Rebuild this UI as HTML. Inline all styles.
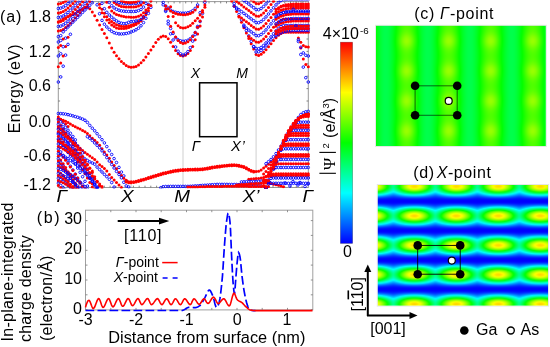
<!DOCTYPE html><html><head><meta charset="utf-8"><style>html,body{margin:0;padding:0;background:#fff;width:550px;height:347px;overflow:hidden}svg text{font-family:"Liberation Sans",sans-serif}</style></head><body><svg width="550" height="347" viewBox="0 0 550 347" font-family="Liberation Sans, sans-serif" style="position:absolute;left:0;top:0;will-change:transform"><defs><pattern id="pc" patternUnits="userSpaceOnUse" x="448.7" y="100.9" width="42" height="30"><g shape-rendering="crispEdges"><rect x="0.000" y="0.000" width="1.250" height="1.250" fill="#98ff00"/><rect x="1.000" y="0.000" width="1.250" height="1.250" fill="#94ff00"/><rect x="2.000" y="0.000" width="1.250" height="1.250" fill="#8dff00"/><rect x="3.000" y="0.000" width="1.250" height="1.250" fill="#82ff00"/><rect x="4.000" y="0.000" width="1.250" height="1.250" fill="#75ff00"/><rect x="5.000" y="0.000" width="1.250" height="1.250" fill="#66ff00"/><rect x="6.000" y="0.000" width="1.250" height="1.250" fill="#55ff00"/><rect x="7.000" y="0.000" width="1.250" height="1.250" fill="#44ff00"/><rect x="8.000" y="0.000" width="1.250" height="1.250" fill="#32ff00"/><rect x="9.000" y="0.000" width="1.250" height="1.250" fill="#21ff00"/><rect x="10.000" y="0.000" width="1.250" height="1.250" fill="#10ff00"/><rect x="11.000" y="0.000" width="1.250" height="1.250" fill="#00ff00"/><rect x="12.000" y="0.000" width="1.250" height="1.250" fill="#00ff0e"/><rect x="13.000" y="0.000" width="1.250" height="1.250" fill="#00ff1b"/><rect x="14.000" y="0.000" width="1.250" height="1.250" fill="#00ff27"/><rect x="15.000" y="0.000" width="1.250" height="1.250" fill="#00ff32"/><rect x="16.000" y="0.000" width="1.250" height="1.250" fill="#00ff3a"/><rect x="17.000" y="0.000" width="1.250" height="1.250" fill="#00ff41"/><rect x="18.000" y="0.000" width="1.250" height="1.250" fill="#00ff47"/><rect x="19.000" y="0.000" width="1.250" height="1.250" fill="#00ff4a"/><rect x="20.000" y="0.000" width="2.250" height="1.250" fill="#00ff4c"/><rect x="22.000" y="0.000" width="1.250" height="1.250" fill="#00ff4a"/><rect x="23.000" y="0.000" width="1.250" height="1.250" fill="#00ff47"/><rect x="24.000" y="0.000" width="1.250" height="1.250" fill="#00ff41"/><rect x="25.000" y="0.000" width="1.250" height="1.250" fill="#00ff3a"/><rect x="26.000" y="0.000" width="1.250" height="1.250" fill="#00ff32"/><rect x="27.000" y="0.000" width="1.250" height="1.250" fill="#00ff27"/><rect x="28.000" y="0.000" width="1.250" height="1.250" fill="#00ff1b"/><rect x="29.000" y="0.000" width="1.250" height="1.250" fill="#00ff0e"/><rect x="30.000" y="0.000" width="1.250" height="1.250" fill="#00ff00"/><rect x="31.000" y="0.000" width="1.250" height="1.250" fill="#10ff00"/><rect x="32.000" y="0.000" width="1.250" height="1.250" fill="#21ff00"/><rect x="33.000" y="0.000" width="1.250" height="1.250" fill="#32ff00"/><rect x="34.000" y="0.000" width="1.250" height="1.250" fill="#44ff00"/><rect x="35.000" y="0.000" width="1.250" height="1.250" fill="#55ff00"/><rect x="36.000" y="0.000" width="1.250" height="1.250" fill="#66ff00"/><rect x="37.000" y="0.000" width="1.250" height="1.250" fill="#75ff00"/><rect x="38.000" y="0.000" width="1.250" height="1.250" fill="#82ff00"/><rect x="39.000" y="0.000" width="1.250" height="1.250" fill="#8dff00"/><rect x="40.000" y="0.000" width="1.250" height="1.250" fill="#94ff00"/><rect x="41.000" y="0.000" width="1.250" height="1.250" fill="#98ff00"/><rect x="0.000" y="1.000" width="1.250" height="1.250" fill="#96ff00"/><rect x="1.000" y="1.000" width="1.250" height="1.250" fill="#92ff00"/><rect x="2.000" y="1.000" width="1.250" height="1.250" fill="#8bff00"/><rect x="3.000" y="1.000" width="1.250" height="1.250" fill="#80ff00"/><rect x="4.000" y="1.000" width="1.250" height="1.250" fill="#73ff00"/><rect x="5.000" y="1.000" width="1.250" height="1.250" fill="#64ff00"/><rect x="6.000" y="1.000" width="1.250" height="1.250" fill="#54ff00"/><rect x="7.000" y="1.000" width="1.250" height="1.250" fill="#42ff00"/><rect x="8.000" y="1.000" width="1.250" height="1.250" fill="#31ff00"/><rect x="9.000" y="1.000" width="1.250" height="1.250" fill="#20ff00"/><rect x="10.000" y="1.000" width="1.250" height="1.250" fill="#0fff00"/><rect x="11.000" y="1.000" width="1.250" height="1.250" fill="#00ff00"/><rect x="12.000" y="1.000" width="1.250" height="1.250" fill="#00ff0e"/><rect x="13.000" y="1.000" width="1.250" height="1.250" fill="#00ff1c"/><rect x="14.000" y="1.000" width="1.250" height="1.250" fill="#00ff27"/><rect x="15.000" y="1.000" width="1.250" height="1.250" fill="#00ff32"/><rect x="16.000" y="1.000" width="1.250" height="1.250" fill="#00ff3a"/><rect x="17.000" y="1.000" width="1.250" height="1.250" fill="#00ff41"/><rect x="18.000" y="1.000" width="1.250" height="1.250" fill="#00ff47"/><rect x="19.000" y="1.000" width="1.250" height="1.250" fill="#00ff4a"/><rect x="20.000" y="1.000" width="2.250" height="1.250" fill="#00ff4c"/><rect x="22.000" y="1.000" width="1.250" height="1.250" fill="#00ff4a"/><rect x="23.000" y="1.000" width="1.250" height="1.250" fill="#00ff47"/><rect x="24.000" y="1.000" width="1.250" height="1.250" fill="#00ff41"/><rect x="25.000" y="1.000" width="1.250" height="1.250" fill="#00ff3a"/><rect x="26.000" y="1.000" width="1.250" height="1.250" fill="#00ff32"/><rect x="27.000" y="1.000" width="1.250" height="1.250" fill="#00ff27"/><rect x="28.000" y="1.000" width="1.250" height="1.250" fill="#00ff1c"/><rect x="29.000" y="1.000" width="1.250" height="1.250" fill="#00ff0e"/><rect x="30.000" y="1.000" width="1.250" height="1.250" fill="#00ff00"/><rect x="31.000" y="1.000" width="1.250" height="1.250" fill="#0fff00"/><rect x="32.000" y="1.000" width="1.250" height="1.250" fill="#20ff00"/><rect x="33.000" y="1.000" width="1.250" height="1.250" fill="#31ff00"/><rect x="34.000" y="1.000" width="1.250" height="1.250" fill="#42ff00"/><rect x="35.000" y="1.000" width="1.250" height="1.250" fill="#54ff00"/><rect x="36.000" y="1.000" width="1.250" height="1.250" fill="#64ff00"/><rect x="37.000" y="1.000" width="1.250" height="1.250" fill="#73ff00"/><rect x="38.000" y="1.000" width="1.250" height="1.250" fill="#80ff00"/><rect x="39.000" y="1.000" width="1.250" height="1.250" fill="#8bff00"/><rect x="40.000" y="1.000" width="1.250" height="1.250" fill="#92ff00"/><rect x="41.000" y="1.000" width="1.250" height="1.250" fill="#96ff00"/><rect x="0.000" y="2.000" width="1.250" height="1.250" fill="#91ff00"/><rect x="1.000" y="2.000" width="1.250" height="1.250" fill="#8dff00"/><rect x="2.000" y="2.000" width="1.250" height="1.250" fill="#86ff00"/><rect x="3.000" y="2.000" width="1.250" height="1.250" fill="#7cff00"/><rect x="4.000" y="2.000" width="1.250" height="1.250" fill="#70ff00"/><rect x="5.000" y="2.000" width="1.250" height="1.250" fill="#61ff00"/><rect x="6.000" y="2.000" width="1.250" height="1.250" fill="#51ff00"/><rect x="7.000" y="2.000" width="1.250" height="1.250" fill="#40ff00"/><rect x="8.000" y="2.000" width="1.250" height="1.250" fill="#2fff00"/><rect x="9.000" y="2.000" width="1.250" height="1.250" fill="#1fff00"/><rect x="10.000" y="2.000" width="1.250" height="1.250" fill="#0eff00"/><rect x="11.000" y="2.000" width="1.250" height="1.250" fill="#00ff01"/><rect x="12.000" y="2.000" width="1.250" height="1.250" fill="#00ff0f"/><rect x="13.000" y="2.000" width="1.250" height="1.250" fill="#00ff1c"/><rect x="14.000" y="2.000" width="1.250" height="1.250" fill="#00ff28"/><rect x="15.000" y="2.000" width="1.250" height="1.250" fill="#00ff32"/><rect x="16.000" y="2.000" width="1.250" height="1.250" fill="#00ff3a"/><rect x="17.000" y="2.000" width="1.250" height="1.250" fill="#00ff41"/><rect x="18.000" y="2.000" width="1.250" height="1.250" fill="#00ff47"/><rect x="19.000" y="2.000" width="1.250" height="1.250" fill="#00ff4a"/><rect x="20.000" y="2.000" width="2.250" height="1.250" fill="#00ff4c"/><rect x="22.000" y="2.000" width="1.250" height="1.250" fill="#00ff4a"/><rect x="23.000" y="2.000" width="1.250" height="1.250" fill="#00ff47"/><rect x="24.000" y="2.000" width="1.250" height="1.250" fill="#00ff41"/><rect x="25.000" y="2.000" width="1.250" height="1.250" fill="#00ff3a"/><rect x="26.000" y="2.000" width="1.250" height="1.250" fill="#00ff32"/><rect x="27.000" y="2.000" width="1.250" height="1.250" fill="#00ff28"/><rect x="28.000" y="2.000" width="1.250" height="1.250" fill="#00ff1c"/><rect x="29.000" y="2.000" width="1.250" height="1.250" fill="#00ff0f"/><rect x="30.000" y="2.000" width="1.250" height="1.250" fill="#00ff01"/><rect x="31.000" y="2.000" width="1.250" height="1.250" fill="#0eff00"/><rect x="32.000" y="2.000" width="1.250" height="1.250" fill="#1fff00"/><rect x="33.000" y="2.000" width="1.250" height="1.250" fill="#2fff00"/><rect x="34.000" y="2.000" width="1.250" height="1.250" fill="#40ff00"/><rect x="35.000" y="2.000" width="1.250" height="1.250" fill="#51ff00"/><rect x="36.000" y="2.000" width="1.250" height="1.250" fill="#61ff00"/><rect x="37.000" y="2.000" width="1.250" height="1.250" fill="#70ff00"/><rect x="38.000" y="2.000" width="1.250" height="1.250" fill="#7cff00"/><rect x="39.000" y="2.000" width="1.250" height="1.250" fill="#86ff00"/><rect x="40.000" y="2.000" width="1.250" height="1.250" fill="#8dff00"/><rect x="41.000" y="2.000" width="1.250" height="1.250" fill="#91ff00"/><rect x="0.000" y="3.000" width="1.250" height="1.250" fill="#8bff00"/><rect x="1.000" y="3.000" width="1.250" height="1.250" fill="#87ff00"/><rect x="2.000" y="3.000" width="1.250" height="1.250" fill="#80ff00"/><rect x="3.000" y="3.000" width="1.250" height="1.250" fill="#77ff00"/><rect x="4.000" y="3.000" width="1.250" height="1.250" fill="#6bff00"/><rect x="5.000" y="3.000" width="1.250" height="1.250" fill="#5dff00"/><rect x="6.000" y="3.000" width="1.250" height="1.250" fill="#4dff00"/><rect x="7.000" y="3.000" width="1.250" height="1.250" fill="#3dff00"/><rect x="8.000" y="3.000" width="1.250" height="1.250" fill="#2dff00"/><rect x="9.000" y="3.000" width="1.250" height="1.250" fill="#1dff00"/><rect x="10.000" y="3.000" width="1.250" height="1.250" fill="#0dff00"/><rect x="11.000" y="3.000" width="1.250" height="1.250" fill="#00ff02"/><rect x="12.000" y="3.000" width="1.250" height="1.250" fill="#00ff10"/><rect x="13.000" y="3.000" width="1.250" height="1.250" fill="#00ff1c"/><rect x="14.000" y="3.000" width="1.250" height="1.250" fill="#00ff28"/><rect x="15.000" y="3.000" width="1.250" height="1.250" fill="#00ff32"/><rect x="16.000" y="3.000" width="1.250" height="1.250" fill="#00ff3a"/><rect x="17.000" y="3.000" width="1.250" height="1.250" fill="#00ff41"/><rect x="18.000" y="3.000" width="1.250" height="1.250" fill="#00ff47"/><rect x="19.000" y="3.000" width="1.250" height="1.250" fill="#00ff4a"/><rect x="20.000" y="3.000" width="2.250" height="1.250" fill="#00ff4c"/><rect x="22.000" y="3.000" width="1.250" height="1.250" fill="#00ff4a"/><rect x="23.000" y="3.000" width="1.250" height="1.250" fill="#00ff47"/><rect x="24.000" y="3.000" width="1.250" height="1.250" fill="#00ff41"/><rect x="25.000" y="3.000" width="1.250" height="1.250" fill="#00ff3a"/><rect x="26.000" y="3.000" width="1.250" height="1.250" fill="#00ff32"/><rect x="27.000" y="3.000" width="1.250" height="1.250" fill="#00ff28"/><rect x="28.000" y="3.000" width="1.250" height="1.250" fill="#00ff1c"/><rect x="29.000" y="3.000" width="1.250" height="1.250" fill="#00ff10"/><rect x="30.000" y="3.000" width="1.250" height="1.250" fill="#00ff02"/><rect x="31.000" y="3.000" width="1.250" height="1.250" fill="#0dff00"/><rect x="32.000" y="3.000" width="1.250" height="1.250" fill="#1dff00"/><rect x="33.000" y="3.000" width="1.250" height="1.250" fill="#2dff00"/><rect x="34.000" y="3.000" width="1.250" height="1.250" fill="#3dff00"/><rect x="35.000" y="3.000" width="1.250" height="1.250" fill="#4dff00"/><rect x="36.000" y="3.000" width="1.250" height="1.250" fill="#5dff00"/><rect x="37.000" y="3.000" width="1.250" height="1.250" fill="#6bff00"/><rect x="38.000" y="3.000" width="1.250" height="1.250" fill="#77ff00"/><rect x="39.000" y="3.000" width="1.250" height="1.250" fill="#80ff00"/><rect x="40.000" y="3.000" width="1.250" height="1.250" fill="#87ff00"/><rect x="41.000" y="3.000" width="1.250" height="1.250" fill="#8bff00"/><rect x="0.000" y="4.000" width="1.250" height="1.250" fill="#83ff00"/><rect x="1.000" y="4.000" width="1.250" height="1.250" fill="#80ff00"/><rect x="2.000" y="4.000" width="1.250" height="1.250" fill="#79ff00"/><rect x="3.000" y="4.000" width="1.250" height="1.250" fill="#70ff00"/><rect x="4.000" y="4.000" width="1.250" height="1.250" fill="#65ff00"/><rect x="5.000" y="4.000" width="1.250" height="1.250" fill="#58ff00"/><rect x="6.000" y="4.000" width="1.250" height="1.250" fill="#49ff00"/><rect x="7.000" y="4.000" width="1.250" height="1.250" fill="#3aff00"/><rect x="8.000" y="4.000" width="1.250" height="1.250" fill="#2aff00"/><rect x="9.000" y="4.000" width="1.250" height="1.250" fill="#1bff00"/><rect x="10.000" y="4.000" width="1.250" height="1.250" fill="#0bff00"/><rect x="11.000" y="4.000" width="1.250" height="1.250" fill="#00ff03"/><rect x="12.000" y="4.000" width="1.250" height="1.250" fill="#00ff11"/><rect x="13.000" y="4.000" width="1.250" height="1.250" fill="#00ff1d"/><rect x="14.000" y="4.000" width="1.250" height="1.250" fill="#00ff28"/><rect x="15.000" y="4.000" width="1.250" height="1.250" fill="#00ff32"/><rect x="16.000" y="4.000" width="1.250" height="1.250" fill="#00ff3b"/><rect x="17.000" y="4.000" width="1.250" height="1.250" fill="#00ff42"/><rect x="18.000" y="4.000" width="1.250" height="1.250" fill="#00ff47"/><rect x="19.000" y="4.000" width="1.250" height="1.250" fill="#00ff4a"/><rect x="20.000" y="4.000" width="2.250" height="1.250" fill="#00ff4c"/><rect x="22.000" y="4.000" width="1.250" height="1.250" fill="#00ff4a"/><rect x="23.000" y="4.000" width="1.250" height="1.250" fill="#00ff47"/><rect x="24.000" y="4.000" width="1.250" height="1.250" fill="#00ff42"/><rect x="25.000" y="4.000" width="1.250" height="1.250" fill="#00ff3b"/><rect x="26.000" y="4.000" width="1.250" height="1.250" fill="#00ff32"/><rect x="27.000" y="4.000" width="1.250" height="1.250" fill="#00ff28"/><rect x="28.000" y="4.000" width="1.250" height="1.250" fill="#00ff1d"/><rect x="29.000" y="4.000" width="1.250" height="1.250" fill="#00ff11"/><rect x="30.000" y="4.000" width="1.250" height="1.250" fill="#00ff03"/><rect x="31.000" y="4.000" width="1.250" height="1.250" fill="#0bff00"/><rect x="32.000" y="4.000" width="1.250" height="1.250" fill="#1bff00"/><rect x="33.000" y="4.000" width="1.250" height="1.250" fill="#2aff00"/><rect x="34.000" y="4.000" width="1.250" height="1.250" fill="#3aff00"/><rect x="35.000" y="4.000" width="1.250" height="1.250" fill="#49ff00"/><rect x="36.000" y="4.000" width="1.250" height="1.250" fill="#58ff00"/><rect x="37.000" y="4.000" width="1.250" height="1.250" fill="#65ff00"/><rect x="38.000" y="4.000" width="1.250" height="1.250" fill="#70ff00"/><rect x="39.000" y="4.000" width="1.250" height="1.250" fill="#79ff00"/><rect x="40.000" y="4.000" width="1.250" height="1.250" fill="#80ff00"/><rect x="41.000" y="4.000" width="1.250" height="1.250" fill="#83ff00"/><rect x="0.000" y="5.000" width="1.250" height="1.250" fill="#7bff00"/><rect x="1.000" y="5.000" width="1.250" height="1.250" fill="#78ff00"/><rect x="2.000" y="5.000" width="1.250" height="1.250" fill="#72ff00"/><rect x="3.000" y="5.000" width="1.250" height="1.250" fill="#69ff00"/><rect x="4.000" y="5.000" width="1.250" height="1.250" fill="#5fff00"/><rect x="5.000" y="5.000" width="1.250" height="1.250" fill="#52ff00"/><rect x="6.000" y="5.000" width="1.250" height="1.250" fill="#45ff00"/><rect x="7.000" y="5.000" width="1.250" height="1.250" fill="#36ff00"/><rect x="8.000" y="5.000" width="1.250" height="1.250" fill="#27ff00"/><rect x="9.000" y="5.000" width="1.250" height="1.250" fill="#18ff00"/><rect x="10.000" y="5.000" width="1.250" height="1.250" fill="#0aff00"/><rect x="11.000" y="5.000" width="1.250" height="1.250" fill="#00ff04"/><rect x="12.000" y="5.000" width="1.250" height="1.250" fill="#00ff11"/><rect x="13.000" y="5.000" width="1.250" height="1.250" fill="#00ff1e"/><rect x="14.000" y="5.000" width="1.250" height="1.250" fill="#00ff29"/><rect x="15.000" y="5.000" width="1.250" height="1.250" fill="#00ff32"/><rect x="16.000" y="5.000" width="1.250" height="1.250" fill="#00ff3b"/><rect x="17.000" y="5.000" width="1.250" height="1.250" fill="#00ff42"/><rect x="18.000" y="5.000" width="1.250" height="1.250" fill="#00ff47"/><rect x="19.000" y="5.000" width="1.250" height="1.250" fill="#00ff4a"/><rect x="20.000" y="5.000" width="2.250" height="1.250" fill="#00ff4c"/><rect x="22.000" y="5.000" width="1.250" height="1.250" fill="#00ff4a"/><rect x="23.000" y="5.000" width="1.250" height="1.250" fill="#00ff47"/><rect x="24.000" y="5.000" width="1.250" height="1.250" fill="#00ff42"/><rect x="25.000" y="5.000" width="1.250" height="1.250" fill="#00ff3b"/><rect x="26.000" y="5.000" width="1.250" height="1.250" fill="#00ff32"/><rect x="27.000" y="5.000" width="1.250" height="1.250" fill="#00ff29"/><rect x="28.000" y="5.000" width="1.250" height="1.250" fill="#00ff1e"/><rect x="29.000" y="5.000" width="1.250" height="1.250" fill="#00ff11"/><rect x="30.000" y="5.000" width="1.250" height="1.250" fill="#00ff04"/><rect x="31.000" y="5.000" width="1.250" height="1.250" fill="#0aff00"/><rect x="32.000" y="5.000" width="1.250" height="1.250" fill="#18ff00"/><rect x="33.000" y="5.000" width="1.250" height="1.250" fill="#27ff00"/><rect x="34.000" y="5.000" width="1.250" height="1.250" fill="#36ff00"/><rect x="35.000" y="5.000" width="1.250" height="1.250" fill="#45ff00"/><rect x="36.000" y="5.000" width="1.250" height="1.250" fill="#52ff00"/><rect x="37.000" y="5.000" width="1.250" height="1.250" fill="#5fff00"/><rect x="38.000" y="5.000" width="1.250" height="1.250" fill="#69ff00"/><rect x="39.000" y="5.000" width="1.250" height="1.250" fill="#72ff00"/><rect x="40.000" y="5.000" width="1.250" height="1.250" fill="#78ff00"/><rect x="41.000" y="5.000" width="1.250" height="1.250" fill="#7bff00"/><rect x="0.000" y="6.000" width="1.250" height="1.250" fill="#72ff00"/><rect x="1.000" y="6.000" width="1.250" height="1.250" fill="#70ff00"/><rect x="2.000" y="6.000" width="1.250" height="1.250" fill="#6aff00"/><rect x="3.000" y="6.000" width="1.250" height="1.250" fill="#62ff00"/><rect x="4.000" y="6.000" width="1.250" height="1.250" fill="#58ff00"/><rect x="5.000" y="6.000" width="1.250" height="1.250" fill="#4dff00"/><rect x="6.000" y="6.000" width="1.250" height="1.250" fill="#40ff00"/><rect x="7.000" y="6.000" width="1.250" height="1.250" fill="#32ff00"/><rect x="8.000" y="6.000" width="1.250" height="1.250" fill="#24ff00"/><rect x="9.000" y="6.000" width="1.250" height="1.250" fill="#16ff00"/><rect x="10.000" y="6.000" width="1.250" height="1.250" fill="#08ff00"/><rect x="11.000" y="6.000" width="1.250" height="1.250" fill="#00ff06"/><rect x="12.000" y="6.000" width="1.250" height="1.250" fill="#00ff12"/><rect x="13.000" y="6.000" width="1.250" height="1.250" fill="#00ff1e"/><rect x="14.000" y="6.000" width="1.250" height="1.250" fill="#00ff29"/><rect x="15.000" y="6.000" width="1.250" height="1.250" fill="#00ff33"/><rect x="16.000" y="6.000" width="1.250" height="1.250" fill="#00ff3b"/><rect x="17.000" y="6.000" width="1.250" height="1.250" fill="#00ff42"/><rect x="18.000" y="6.000" width="1.250" height="1.250" fill="#00ff47"/><rect x="19.000" y="6.000" width="1.250" height="1.250" fill="#00ff4a"/><rect x="20.000" y="6.000" width="2.250" height="1.250" fill="#00ff4c"/><rect x="22.000" y="6.000" width="1.250" height="1.250" fill="#00ff4a"/><rect x="23.000" y="6.000" width="1.250" height="1.250" fill="#00ff47"/><rect x="24.000" y="6.000" width="1.250" height="1.250" fill="#00ff42"/><rect x="25.000" y="6.000" width="1.250" height="1.250" fill="#00ff3b"/><rect x="26.000" y="6.000" width="1.250" height="1.250" fill="#00ff33"/><rect x="27.000" y="6.000" width="1.250" height="1.250" fill="#00ff29"/><rect x="28.000" y="6.000" width="1.250" height="1.250" fill="#00ff1e"/><rect x="29.000" y="6.000" width="1.250" height="1.250" fill="#00ff12"/><rect x="30.000" y="6.000" width="1.250" height="1.250" fill="#00ff06"/><rect x="31.000" y="6.000" width="1.250" height="1.250" fill="#08ff00"/><rect x="32.000" y="6.000" width="1.250" height="1.250" fill="#16ff00"/><rect x="33.000" y="6.000" width="1.250" height="1.250" fill="#24ff00"/><rect x="34.000" y="6.000" width="1.250" height="1.250" fill="#32ff00"/><rect x="35.000" y="6.000" width="1.250" height="1.250" fill="#40ff00"/><rect x="36.000" y="6.000" width="1.250" height="1.250" fill="#4dff00"/><rect x="37.000" y="6.000" width="1.250" height="1.250" fill="#58ff00"/><rect x="38.000" y="6.000" width="1.250" height="1.250" fill="#62ff00"/><rect x="39.000" y="6.000" width="1.250" height="1.250" fill="#6aff00"/><rect x="40.000" y="6.000" width="1.250" height="1.250" fill="#70ff00"/><rect x="41.000" y="6.000" width="1.250" height="1.250" fill="#72ff00"/><rect x="0.000" y="7.000" width="1.250" height="1.250" fill="#6bff00"/><rect x="1.000" y="7.000" width="1.250" height="1.250" fill="#68ff00"/><rect x="2.000" y="7.000" width="1.250" height="1.250" fill="#63ff00"/><rect x="3.000" y="7.000" width="1.250" height="1.250" fill="#5cff00"/><rect x="4.000" y="7.000" width="1.250" height="1.250" fill="#53ff00"/><rect x="5.000" y="7.000" width="1.250" height="1.250" fill="#48ff00"/><rect x="6.000" y="7.000" width="1.250" height="1.250" fill="#3cff00"/><rect x="7.000" y="7.000" width="1.250" height="1.250" fill="#2fff00"/><rect x="8.000" y="7.000" width="1.250" height="1.250" fill="#21ff00"/><rect x="9.000" y="7.000" width="1.250" height="1.250" fill="#14ff00"/><rect x="10.000" y="7.000" width="1.250" height="1.250" fill="#06ff00"/><rect x="11.000" y="7.000" width="1.250" height="1.250" fill="#00ff07"/><rect x="12.000" y="7.000" width="1.250" height="1.250" fill="#00ff13"/><rect x="13.000" y="7.000" width="1.250" height="1.250" fill="#00ff1f"/><rect x="14.000" y="7.000" width="1.250" height="1.250" fill="#00ff2a"/><rect x="15.000" y="7.000" width="1.250" height="1.250" fill="#00ff33"/><rect x="16.000" y="7.000" width="1.250" height="1.250" fill="#00ff3b"/><rect x="17.000" y="7.000" width="1.250" height="1.250" fill="#00ff42"/><rect x="18.000" y="7.000" width="1.250" height="1.250" fill="#00ff47"/><rect x="19.000" y="7.000" width="1.250" height="1.250" fill="#00ff4a"/><rect x="20.000" y="7.000" width="2.250" height="1.250" fill="#00ff4c"/><rect x="22.000" y="7.000" width="1.250" height="1.250" fill="#00ff4a"/><rect x="23.000" y="7.000" width="1.250" height="1.250" fill="#00ff47"/><rect x="24.000" y="7.000" width="1.250" height="1.250" fill="#00ff42"/><rect x="25.000" y="7.000" width="1.250" height="1.250" fill="#00ff3b"/><rect x="26.000" y="7.000" width="1.250" height="1.250" fill="#00ff33"/><rect x="27.000" y="7.000" width="1.250" height="1.250" fill="#00ff2a"/><rect x="28.000" y="7.000" width="1.250" height="1.250" fill="#00ff1f"/><rect x="29.000" y="7.000" width="1.250" height="1.250" fill="#00ff13"/><rect x="30.000" y="7.000" width="1.250" height="1.250" fill="#00ff07"/><rect x="31.000" y="7.000" width="1.250" height="1.250" fill="#06ff00"/><rect x="32.000" y="7.000" width="1.250" height="1.250" fill="#14ff00"/><rect x="33.000" y="7.000" width="1.250" height="1.250" fill="#21ff00"/><rect x="34.000" y="7.000" width="1.250" height="1.250" fill="#2fff00"/><rect x="35.000" y="7.000" width="1.250" height="1.250" fill="#3cff00"/><rect x="36.000" y="7.000" width="1.250" height="1.250" fill="#48ff00"/><rect x="37.000" y="7.000" width="1.250" height="1.250" fill="#53ff00"/><rect x="38.000" y="7.000" width="1.250" height="1.250" fill="#5cff00"/><rect x="39.000" y="7.000" width="1.250" height="1.250" fill="#63ff00"/><rect x="40.000" y="7.000" width="1.250" height="1.250" fill="#68ff00"/><rect x="41.000" y="7.000" width="1.250" height="1.250" fill="#6bff00"/><rect x="0.000" y="8.000" width="1.250" height="1.250" fill="#64ff00"/><rect x="1.000" y="8.000" width="1.250" height="1.250" fill="#61ff00"/><rect x="2.000" y="8.000" width="1.250" height="1.250" fill="#5dff00"/><rect x="3.000" y="8.000" width="1.250" height="1.250" fill="#56ff00"/><rect x="4.000" y="8.000" width="1.250" height="1.250" fill="#4dff00"/><rect x="5.000" y="8.000" width="1.250" height="1.250" fill="#43ff00"/><rect x="6.000" y="8.000" width="1.250" height="1.250" fill="#38ff00"/><rect x="7.000" y="8.000" width="1.250" height="1.250" fill="#2cff00"/><rect x="8.000" y="8.000" width="1.250" height="1.250" fill="#1fff00"/><rect x="9.000" y="8.000" width="1.250" height="1.250" fill="#12ff00"/><rect x="10.000" y="8.000" width="1.250" height="1.250" fill="#05ff00"/><rect x="11.000" y="8.000" width="1.250" height="1.250" fill="#00ff08"/><rect x="12.000" y="8.000" width="1.250" height="1.250" fill="#00ff14"/><rect x="13.000" y="8.000" width="1.250" height="1.250" fill="#00ff1f"/><rect x="14.000" y="8.000" width="1.250" height="1.250" fill="#00ff2a"/><rect x="15.000" y="8.000" width="1.250" height="1.250" fill="#00ff33"/><rect x="16.000" y="8.000" width="1.250" height="1.250" fill="#00ff3b"/><rect x="17.000" y="8.000" width="1.250" height="1.250" fill="#00ff42"/><rect x="18.000" y="8.000" width="1.250" height="1.250" fill="#00ff47"/><rect x="19.000" y="8.000" width="1.250" height="1.250" fill="#00ff4a"/><rect x="20.000" y="8.000" width="2.250" height="1.250" fill="#00ff4c"/><rect x="22.000" y="8.000" width="1.250" height="1.250" fill="#00ff4a"/><rect x="23.000" y="8.000" width="1.250" height="1.250" fill="#00ff47"/><rect x="24.000" y="8.000" width="1.250" height="1.250" fill="#00ff42"/><rect x="25.000" y="8.000" width="1.250" height="1.250" fill="#00ff3b"/><rect x="26.000" y="8.000" width="1.250" height="1.250" fill="#00ff33"/><rect x="27.000" y="8.000" width="1.250" height="1.250" fill="#00ff2a"/><rect x="28.000" y="8.000" width="1.250" height="1.250" fill="#00ff1f"/><rect x="29.000" y="8.000" width="1.250" height="1.250" fill="#00ff14"/><rect x="30.000" y="8.000" width="1.250" height="1.250" fill="#00ff08"/><rect x="31.000" y="8.000" width="1.250" height="1.250" fill="#05ff00"/><rect x="32.000" y="8.000" width="1.250" height="1.250" fill="#12ff00"/><rect x="33.000" y="8.000" width="1.250" height="1.250" fill="#1fff00"/><rect x="34.000" y="8.000" width="1.250" height="1.250" fill="#2cff00"/><rect x="35.000" y="8.000" width="1.250" height="1.250" fill="#38ff00"/><rect x="36.000" y="8.000" width="1.250" height="1.250" fill="#43ff00"/><rect x="37.000" y="8.000" width="1.250" height="1.250" fill="#4dff00"/><rect x="38.000" y="8.000" width="1.250" height="1.250" fill="#56ff00"/><rect x="39.000" y="8.000" width="1.250" height="1.250" fill="#5dff00"/><rect x="40.000" y="8.000" width="1.250" height="1.250" fill="#61ff00"/><rect x="41.000" y="8.000" width="1.250" height="1.250" fill="#64ff00"/><rect x="0.000" y="9.000" width="1.250" height="1.250" fill="#5eff00"/><rect x="1.000" y="9.000" width="1.250" height="1.250" fill="#5bff00"/><rect x="2.000" y="9.000" width="1.250" height="1.250" fill="#57ff00"/><rect x="3.000" y="9.000" width="1.250" height="1.250" fill="#51ff00"/><rect x="4.000" y="9.000" width="1.250" height="1.250" fill="#49ff00"/><rect x="5.000" y="9.000" width="1.250" height="1.250" fill="#3fff00"/><rect x="6.000" y="9.000" width="1.250" height="1.250" fill="#35ff00"/><rect x="7.000" y="9.000" width="1.250" height="1.250" fill="#29ff00"/><rect x="8.000" y="9.000" width="1.250" height="1.250" fill="#1dff00"/><rect x="9.000" y="9.000" width="1.250" height="1.250" fill="#10ff00"/><rect x="10.000" y="9.000" width="1.250" height="1.250" fill="#04ff00"/><rect x="11.000" y="9.000" width="1.250" height="1.250" fill="#00ff09"/><rect x="12.000" y="9.000" width="1.250" height="1.250" fill="#00ff15"/><rect x="13.000" y="9.000" width="1.250" height="1.250" fill="#00ff20"/><rect x="14.000" y="9.000" width="1.250" height="1.250" fill="#00ff2a"/><rect x="15.000" y="9.000" width="1.250" height="1.250" fill="#00ff33"/><rect x="16.000" y="9.000" width="1.250" height="1.250" fill="#00ff3b"/><rect x="17.000" y="9.000" width="1.250" height="1.250" fill="#00ff42"/><rect x="18.000" y="9.000" width="1.250" height="1.250" fill="#00ff47"/><rect x="19.000" y="9.000" width="1.250" height="1.250" fill="#00ff4b"/><rect x="20.000" y="9.000" width="2.250" height="1.250" fill="#00ff4c"/><rect x="22.000" y="9.000" width="1.250" height="1.250" fill="#00ff4b"/><rect x="23.000" y="9.000" width="1.250" height="1.250" fill="#00ff47"/><rect x="24.000" y="9.000" width="1.250" height="1.250" fill="#00ff42"/><rect x="25.000" y="9.000" width="1.250" height="1.250" fill="#00ff3b"/><rect x="26.000" y="9.000" width="1.250" height="1.250" fill="#00ff33"/><rect x="27.000" y="9.000" width="1.250" height="1.250" fill="#00ff2a"/><rect x="28.000" y="9.000" width="1.250" height="1.250" fill="#00ff20"/><rect x="29.000" y="9.000" width="1.250" height="1.250" fill="#00ff15"/><rect x="30.000" y="9.000" width="1.250" height="1.250" fill="#00ff09"/><rect x="31.000" y="9.000" width="1.250" height="1.250" fill="#04ff00"/><rect x="32.000" y="9.000" width="1.250" height="1.250" fill="#10ff00"/><rect x="33.000" y="9.000" width="1.250" height="1.250" fill="#1dff00"/><rect x="34.000" y="9.000" width="1.250" height="1.250" fill="#29ff00"/><rect x="35.000" y="9.000" width="1.250" height="1.250" fill="#35ff00"/><rect x="36.000" y="9.000" width="1.250" height="1.250" fill="#3fff00"/><rect x="37.000" y="9.000" width="1.250" height="1.250" fill="#49ff00"/><rect x="38.000" y="9.000" width="1.250" height="1.250" fill="#51ff00"/><rect x="39.000" y="9.000" width="1.250" height="1.250" fill="#57ff00"/><rect x="40.000" y="9.000" width="1.250" height="1.250" fill="#5bff00"/><rect x="41.000" y="9.000" width="1.250" height="1.250" fill="#5eff00"/><rect x="0.000" y="10.000" width="1.250" height="1.250" fill="#59ff00"/><rect x="1.000" y="10.000" width="1.250" height="1.250" fill="#57ff00"/><rect x="2.000" y="10.000" width="1.250" height="1.250" fill="#53ff00"/><rect x="3.000" y="10.000" width="1.250" height="1.250" fill="#4dff00"/><rect x="4.000" y="10.000" width="1.250" height="1.250" fill="#45ff00"/><rect x="5.000" y="10.000" width="1.250" height="1.250" fill="#3cff00"/><rect x="6.000" y="10.000" width="1.250" height="1.250" fill="#32ff00"/><rect x="7.000" y="10.000" width="1.250" height="1.250" fill="#27ff00"/><rect x="8.000" y="10.000" width="1.250" height="1.250" fill="#1bff00"/><rect x="9.000" y="10.000" width="1.250" height="1.250" fill="#0fff00"/><rect x="10.000" y="10.000" width="1.250" height="1.250" fill="#03ff00"/><rect x="11.000" y="10.000" width="1.250" height="1.250" fill="#00ff09"/><rect x="12.000" y="10.000" width="1.250" height="1.250" fill="#00ff15"/><rect x="13.000" y="10.000" width="1.250" height="1.250" fill="#00ff20"/><rect x="14.000" y="10.000" width="1.250" height="1.250" fill="#00ff2a"/><rect x="15.000" y="10.000" width="1.250" height="1.250" fill="#00ff34"/><rect x="16.000" y="10.000" width="1.250" height="1.250" fill="#00ff3c"/><rect x="17.000" y="10.000" width="1.250" height="1.250" fill="#00ff42"/><rect x="18.000" y="10.000" width="1.250" height="1.250" fill="#00ff47"/><rect x="19.000" y="10.000" width="1.250" height="1.250" fill="#00ff4b"/><rect x="20.000" y="10.000" width="2.250" height="1.250" fill="#00ff4c"/><rect x="22.000" y="10.000" width="1.250" height="1.250" fill="#00ff4b"/><rect x="23.000" y="10.000" width="1.250" height="1.250" fill="#00ff47"/><rect x="24.000" y="10.000" width="1.250" height="1.250" fill="#00ff42"/><rect x="25.000" y="10.000" width="1.250" height="1.250" fill="#00ff3c"/><rect x="26.000" y="10.000" width="1.250" height="1.250" fill="#00ff34"/><rect x="27.000" y="10.000" width="1.250" height="1.250" fill="#00ff2a"/><rect x="28.000" y="10.000" width="1.250" height="1.250" fill="#00ff20"/><rect x="29.000" y="10.000" width="1.250" height="1.250" fill="#00ff15"/><rect x="30.000" y="10.000" width="1.250" height="1.250" fill="#00ff09"/><rect x="31.000" y="10.000" width="1.250" height="1.250" fill="#03ff00"/><rect x="32.000" y="10.000" width="1.250" height="1.250" fill="#0fff00"/><rect x="33.000" y="10.000" width="1.250" height="1.250" fill="#1bff00"/><rect x="34.000" y="10.000" width="1.250" height="1.250" fill="#27ff00"/><rect x="35.000" y="10.000" width="1.250" height="1.250" fill="#32ff00"/><rect x="36.000" y="10.000" width="1.250" height="1.250" fill="#3cff00"/><rect x="37.000" y="10.000" width="1.250" height="1.250" fill="#45ff00"/><rect x="38.000" y="10.000" width="1.250" height="1.250" fill="#4dff00"/><rect x="39.000" y="10.000" width="1.250" height="1.250" fill="#53ff00"/><rect x="40.000" y="10.000" width="1.250" height="1.250" fill="#57ff00"/><rect x="41.000" y="10.000" width="1.250" height="1.250" fill="#59ff00"/><rect x="0.000" y="11.000" width="1.250" height="1.250" fill="#55ff00"/><rect x="1.000" y="11.000" width="1.250" height="1.250" fill="#53ff00"/><rect x="2.000" y="11.000" width="1.250" height="1.250" fill="#4fff00"/><rect x="3.000" y="11.000" width="1.250" height="1.250" fill="#4aff00"/><rect x="4.000" y="11.000" width="1.250" height="1.250" fill="#42ff00"/><rect x="5.000" y="11.000" width="1.250" height="1.250" fill="#3aff00"/><rect x="6.000" y="11.000" width="1.250" height="1.250" fill="#30ff00"/><rect x="7.000" y="11.000" width="1.250" height="1.250" fill="#25ff00"/><rect x="8.000" y="11.000" width="1.250" height="1.250" fill="#1aff00"/><rect x="9.000" y="11.000" width="1.250" height="1.250" fill="#0eff00"/><rect x="10.000" y="11.000" width="1.250" height="1.250" fill="#02ff00"/><rect x="11.000" y="11.000" width="1.250" height="1.250" fill="#00ff0a"/><rect x="12.000" y="11.000" width="1.250" height="1.250" fill="#00ff16"/><rect x="13.000" y="11.000" width="1.250" height="1.250" fill="#00ff21"/><rect x="14.000" y="11.000" width="1.250" height="1.250" fill="#00ff2b"/><rect x="15.000" y="11.000" width="1.250" height="1.250" fill="#00ff34"/><rect x="16.000" y="11.000" width="1.250" height="1.250" fill="#00ff3c"/><rect x="17.000" y="11.000" width="1.250" height="1.250" fill="#00ff42"/><rect x="18.000" y="11.000" width="1.250" height="1.250" fill="#00ff47"/><rect x="19.000" y="11.000" width="1.250" height="1.250" fill="#00ff4b"/><rect x="20.000" y="11.000" width="2.250" height="1.250" fill="#00ff4c"/><rect x="22.000" y="11.000" width="1.250" height="1.250" fill="#00ff4b"/><rect x="23.000" y="11.000" width="1.250" height="1.250" fill="#00ff47"/><rect x="24.000" y="11.000" width="1.250" height="1.250" fill="#00ff42"/><rect x="25.000" y="11.000" width="1.250" height="1.250" fill="#00ff3c"/><rect x="26.000" y="11.000" width="1.250" height="1.250" fill="#00ff34"/><rect x="27.000" y="11.000" width="1.250" height="1.250" fill="#00ff2b"/><rect x="28.000" y="11.000" width="1.250" height="1.250" fill="#00ff21"/><rect x="29.000" y="11.000" width="1.250" height="1.250" fill="#00ff16"/><rect x="30.000" y="11.000" width="1.250" height="1.250" fill="#00ff0a"/><rect x="31.000" y="11.000" width="1.250" height="1.250" fill="#02ff00"/><rect x="32.000" y="11.000" width="1.250" height="1.250" fill="#0eff00"/><rect x="33.000" y="11.000" width="1.250" height="1.250" fill="#1aff00"/><rect x="34.000" y="11.000" width="1.250" height="1.250" fill="#25ff00"/><rect x="35.000" y="11.000" width="1.250" height="1.250" fill="#30ff00"/><rect x="36.000" y="11.000" width="1.250" height="1.250" fill="#3aff00"/><rect x="37.000" y="11.000" width="1.250" height="1.250" fill="#42ff00"/><rect x="38.000" y="11.000" width="1.250" height="1.250" fill="#4aff00"/><rect x="39.000" y="11.000" width="1.250" height="1.250" fill="#4fff00"/><rect x="40.000" y="11.000" width="1.250" height="1.250" fill="#53ff00"/><rect x="41.000" y="11.000" width="1.250" height="1.250" fill="#55ff00"/><rect x="0.000" y="12.000" width="1.250" height="1.250" fill="#52ff00"/><rect x="1.000" y="12.000" width="1.250" height="1.250" fill="#50ff00"/><rect x="2.000" y="12.000" width="1.250" height="1.250" fill="#4dff00"/><rect x="3.000" y="12.000" width="1.250" height="1.250" fill="#47ff00"/><rect x="4.000" y="12.000" width="1.250" height="1.250" fill="#40ff00"/><rect x="5.000" y="12.000" width="1.250" height="1.250" fill="#38ff00"/><rect x="6.000" y="12.000" width="1.250" height="1.250" fill="#2eff00"/><rect x="7.000" y="12.000" width="1.250" height="1.250" fill="#24ff00"/><rect x="8.000" y="12.000" width="1.250" height="1.250" fill="#19ff00"/><rect x="9.000" y="12.000" width="1.250" height="1.250" fill="#0dff00"/><rect x="10.000" y="12.000" width="1.250" height="1.250" fill="#01ff00"/><rect x="11.000" y="12.000" width="1.250" height="1.250" fill="#00ff0b"/><rect x="12.000" y="12.000" width="1.250" height="1.250" fill="#00ff16"/><rect x="13.000" y="12.000" width="1.250" height="1.250" fill="#00ff21"/><rect x="14.000" y="12.000" width="1.250" height="1.250" fill="#00ff2b"/><rect x="15.000" y="12.000" width="1.250" height="1.250" fill="#00ff34"/><rect x="16.000" y="12.000" width="1.250" height="1.250" fill="#00ff3c"/><rect x="17.000" y="12.000" width="1.250" height="1.250" fill="#00ff42"/><rect x="18.000" y="12.000" width="1.250" height="1.250" fill="#00ff47"/><rect x="19.000" y="12.000" width="1.250" height="1.250" fill="#00ff4b"/><rect x="20.000" y="12.000" width="2.250" height="1.250" fill="#00ff4c"/><rect x="22.000" y="12.000" width="1.250" height="1.250" fill="#00ff4b"/><rect x="23.000" y="12.000" width="1.250" height="1.250" fill="#00ff47"/><rect x="24.000" y="12.000" width="1.250" height="1.250" fill="#00ff42"/><rect x="25.000" y="12.000" width="1.250" height="1.250" fill="#00ff3c"/><rect x="26.000" y="12.000" width="1.250" height="1.250" fill="#00ff34"/><rect x="27.000" y="12.000" width="1.250" height="1.250" fill="#00ff2b"/><rect x="28.000" y="12.000" width="1.250" height="1.250" fill="#00ff21"/><rect x="29.000" y="12.000" width="1.250" height="1.250" fill="#00ff16"/><rect x="30.000" y="12.000" width="1.250" height="1.250" fill="#00ff0b"/><rect x="31.000" y="12.000" width="1.250" height="1.250" fill="#01ff00"/><rect x="32.000" y="12.000" width="1.250" height="1.250" fill="#0dff00"/><rect x="33.000" y="12.000" width="1.250" height="1.250" fill="#19ff00"/><rect x="34.000" y="12.000" width="1.250" height="1.250" fill="#24ff00"/><rect x="35.000" y="12.000" width="1.250" height="1.250" fill="#2eff00"/><rect x="36.000" y="12.000" width="1.250" height="1.250" fill="#38ff00"/><rect x="37.000" y="12.000" width="1.250" height="1.250" fill="#40ff00"/><rect x="38.000" y="12.000" width="1.250" height="1.250" fill="#47ff00"/><rect x="39.000" y="12.000" width="1.250" height="1.250" fill="#4dff00"/><rect x="40.000" y="12.000" width="1.250" height="1.250" fill="#50ff00"/><rect x="41.000" y="12.000" width="1.250" height="1.250" fill="#52ff00"/><rect x="0.000" y="13.000" width="1.250" height="1.250" fill="#50ff00"/><rect x="1.000" y="13.000" width="1.250" height="1.250" fill="#4eff00"/><rect x="2.000" y="13.000" width="1.250" height="1.250" fill="#4bff00"/><rect x="3.000" y="13.000" width="1.250" height="1.250" fill="#45ff00"/><rect x="4.000" y="13.000" width="1.250" height="1.250" fill="#3fff00"/><rect x="5.000" y="13.000" width="1.250" height="1.250" fill="#37ff00"/><rect x="6.000" y="13.000" width="1.250" height="1.250" fill="#2dff00"/><rect x="7.000" y="13.000" width="1.250" height="1.250" fill="#23ff00"/><rect x="8.000" y="13.000" width="1.250" height="1.250" fill="#18ff00"/><rect x="9.000" y="13.000" width="1.250" height="1.250" fill="#0cff00"/><rect x="10.000" y="13.000" width="1.250" height="1.250" fill="#01ff00"/><rect x="11.000" y="13.000" width="1.250" height="1.250" fill="#00ff0b"/><rect x="12.000" y="13.000" width="1.250" height="1.250" fill="#00ff16"/><rect x="13.000" y="13.000" width="1.250" height="1.250" fill="#00ff21"/><rect x="14.000" y="13.000" width="1.250" height="1.250" fill="#00ff2b"/><rect x="15.000" y="13.000" width="1.250" height="1.250" fill="#00ff34"/><rect x="16.000" y="13.000" width="1.250" height="1.250" fill="#00ff3c"/><rect x="17.000" y="13.000" width="1.250" height="1.250" fill="#00ff42"/><rect x="18.000" y="13.000" width="1.250" height="1.250" fill="#00ff47"/><rect x="19.000" y="13.000" width="1.250" height="1.250" fill="#00ff4b"/><rect x="20.000" y="13.000" width="2.250" height="1.250" fill="#00ff4c"/><rect x="22.000" y="13.000" width="1.250" height="1.250" fill="#00ff4b"/><rect x="23.000" y="13.000" width="1.250" height="1.250" fill="#00ff47"/><rect x="24.000" y="13.000" width="1.250" height="1.250" fill="#00ff42"/><rect x="25.000" y="13.000" width="1.250" height="1.250" fill="#00ff3c"/><rect x="26.000" y="13.000" width="1.250" height="1.250" fill="#00ff34"/><rect x="27.000" y="13.000" width="1.250" height="1.250" fill="#00ff2b"/><rect x="28.000" y="13.000" width="1.250" height="1.250" fill="#00ff21"/><rect x="29.000" y="13.000" width="1.250" height="1.250" fill="#00ff16"/><rect x="30.000" y="13.000" width="1.250" height="1.250" fill="#00ff0b"/><rect x="31.000" y="13.000" width="1.250" height="1.250" fill="#01ff00"/><rect x="32.000" y="13.000" width="1.250" height="1.250" fill="#0cff00"/><rect x="33.000" y="13.000" width="1.250" height="1.250" fill="#18ff00"/><rect x="34.000" y="13.000" width="1.250" height="1.250" fill="#23ff00"/><rect x="35.000" y="13.000" width="1.250" height="1.250" fill="#2dff00"/><rect x="36.000" y="13.000" width="1.250" height="1.250" fill="#37ff00"/><rect x="37.000" y="13.000" width="1.250" height="1.250" fill="#3fff00"/><rect x="38.000" y="13.000" width="1.250" height="1.250" fill="#45ff00"/><rect x="39.000" y="13.000" width="1.250" height="1.250" fill="#4bff00"/><rect x="40.000" y="13.000" width="1.250" height="1.250" fill="#4eff00"/><rect x="41.000" y="13.000" width="1.250" height="1.250" fill="#50ff00"/><rect x="0.000" y="14.000" width="1.250" height="1.250" fill="#4fff00"/><rect x="1.000" y="14.000" width="1.250" height="1.250" fill="#4dff00"/><rect x="2.000" y="14.000" width="1.250" height="1.250" fill="#49ff00"/><rect x="3.000" y="14.000" width="1.250" height="1.250" fill="#44ff00"/><rect x="4.000" y="14.000" width="1.250" height="1.250" fill="#3eff00"/><rect x="5.000" y="14.000" width="1.250" height="1.250" fill="#36ff00"/><rect x="6.000" y="14.000" width="1.250" height="1.250" fill="#2cff00"/><rect x="7.000" y="14.000" width="1.250" height="1.250" fill="#22ff00"/><rect x="8.000" y="14.000" width="1.250" height="1.250" fill="#17ff00"/><rect x="9.000" y="14.000" width="1.250" height="1.250" fill="#0cff00"/><rect x="10.000" y="14.000" width="1.250" height="1.250" fill="#01ff00"/><rect x="11.000" y="14.000" width="1.250" height="1.250" fill="#00ff0b"/><rect x="12.000" y="14.000" width="1.250" height="1.250" fill="#00ff16"/><rect x="13.000" y="14.000" width="1.250" height="1.250" fill="#00ff21"/><rect x="14.000" y="14.000" width="1.250" height="1.250" fill="#00ff2b"/><rect x="15.000" y="14.000" width="1.250" height="1.250" fill="#00ff34"/><rect x="16.000" y="14.000" width="1.250" height="1.250" fill="#00ff3c"/><rect x="17.000" y="14.000" width="1.250" height="1.250" fill="#00ff42"/><rect x="18.000" y="14.000" width="1.250" height="1.250" fill="#00ff47"/><rect x="19.000" y="14.000" width="1.250" height="1.250" fill="#00ff4b"/><rect x="20.000" y="14.000" width="2.250" height="1.250" fill="#00ff4c"/><rect x="22.000" y="14.000" width="1.250" height="1.250" fill="#00ff4b"/><rect x="23.000" y="14.000" width="1.250" height="1.250" fill="#00ff47"/><rect x="24.000" y="14.000" width="1.250" height="1.250" fill="#00ff42"/><rect x="25.000" y="14.000" width="1.250" height="1.250" fill="#00ff3c"/><rect x="26.000" y="14.000" width="1.250" height="1.250" fill="#00ff34"/><rect x="27.000" y="14.000" width="1.250" height="1.250" fill="#00ff2b"/><rect x="28.000" y="14.000" width="1.250" height="1.250" fill="#00ff21"/><rect x="29.000" y="14.000" width="1.250" height="1.250" fill="#00ff16"/><rect x="30.000" y="14.000" width="1.250" height="1.250" fill="#00ff0b"/><rect x="31.000" y="14.000" width="1.250" height="1.250" fill="#01ff00"/><rect x="32.000" y="14.000" width="1.250" height="1.250" fill="#0cff00"/><rect x="33.000" y="14.000" width="1.250" height="1.250" fill="#17ff00"/><rect x="34.000" y="14.000" width="1.250" height="1.250" fill="#22ff00"/><rect x="35.000" y="14.000" width="1.250" height="1.250" fill="#2cff00"/><rect x="36.000" y="14.000" width="1.250" height="1.250" fill="#36ff00"/><rect x="37.000" y="14.000" width="1.250" height="1.250" fill="#3eff00"/><rect x="38.000" y="14.000" width="1.250" height="1.250" fill="#44ff00"/><rect x="39.000" y="14.000" width="1.250" height="1.250" fill="#49ff00"/><rect x="40.000" y="14.000" width="1.250" height="1.250" fill="#4dff00"/><rect x="41.000" y="14.000" width="1.250" height="1.250" fill="#4fff00"/><rect x="0.000" y="15.000" width="1.250" height="1.250" fill="#4fff00"/><rect x="1.000" y="15.000" width="1.250" height="1.250" fill="#4dff00"/><rect x="2.000" y="15.000" width="1.250" height="1.250" fill="#49ff00"/><rect x="3.000" y="15.000" width="1.250" height="1.250" fill="#44ff00"/><rect x="4.000" y="15.000" width="1.250" height="1.250" fill="#3eff00"/><rect x="5.000" y="15.000" width="1.250" height="1.250" fill="#36ff00"/><rect x="6.000" y="15.000" width="1.250" height="1.250" fill="#2cff00"/><rect x="7.000" y="15.000" width="1.250" height="1.250" fill="#22ff00"/><rect x="8.000" y="15.000" width="1.250" height="1.250" fill="#17ff00"/><rect x="9.000" y="15.000" width="1.250" height="1.250" fill="#0cff00"/><rect x="10.000" y="15.000" width="1.250" height="1.250" fill="#01ff00"/><rect x="11.000" y="15.000" width="1.250" height="1.250" fill="#00ff0b"/><rect x="12.000" y="15.000" width="1.250" height="1.250" fill="#00ff16"/><rect x="13.000" y="15.000" width="1.250" height="1.250" fill="#00ff21"/><rect x="14.000" y="15.000" width="1.250" height="1.250" fill="#00ff2b"/><rect x="15.000" y="15.000" width="1.250" height="1.250" fill="#00ff34"/><rect x="16.000" y="15.000" width="1.250" height="1.250" fill="#00ff3c"/><rect x="17.000" y="15.000" width="1.250" height="1.250" fill="#00ff42"/><rect x="18.000" y="15.000" width="1.250" height="1.250" fill="#00ff47"/><rect x="19.000" y="15.000" width="1.250" height="1.250" fill="#00ff4b"/><rect x="20.000" y="15.000" width="2.250" height="1.250" fill="#00ff4c"/><rect x="22.000" y="15.000" width="1.250" height="1.250" fill="#00ff4b"/><rect x="23.000" y="15.000" width="1.250" height="1.250" fill="#00ff47"/><rect x="24.000" y="15.000" width="1.250" height="1.250" fill="#00ff42"/><rect x="25.000" y="15.000" width="1.250" height="1.250" fill="#00ff3c"/><rect x="26.000" y="15.000" width="1.250" height="1.250" fill="#00ff34"/><rect x="27.000" y="15.000" width="1.250" height="1.250" fill="#00ff2b"/><rect x="28.000" y="15.000" width="1.250" height="1.250" fill="#00ff21"/><rect x="29.000" y="15.000" width="1.250" height="1.250" fill="#00ff16"/><rect x="30.000" y="15.000" width="1.250" height="1.250" fill="#00ff0b"/><rect x="31.000" y="15.000" width="1.250" height="1.250" fill="#01ff00"/><rect x="32.000" y="15.000" width="1.250" height="1.250" fill="#0cff00"/><rect x="33.000" y="15.000" width="1.250" height="1.250" fill="#17ff00"/><rect x="34.000" y="15.000" width="1.250" height="1.250" fill="#22ff00"/><rect x="35.000" y="15.000" width="1.250" height="1.250" fill="#2cff00"/><rect x="36.000" y="15.000" width="1.250" height="1.250" fill="#36ff00"/><rect x="37.000" y="15.000" width="1.250" height="1.250" fill="#3eff00"/><rect x="38.000" y="15.000" width="1.250" height="1.250" fill="#44ff00"/><rect x="39.000" y="15.000" width="1.250" height="1.250" fill="#49ff00"/><rect x="40.000" y="15.000" width="1.250" height="1.250" fill="#4dff00"/><rect x="41.000" y="15.000" width="1.250" height="1.250" fill="#4fff00"/><rect x="0.000" y="16.000" width="1.250" height="1.250" fill="#50ff00"/><rect x="1.000" y="16.000" width="1.250" height="1.250" fill="#4eff00"/><rect x="2.000" y="16.000" width="1.250" height="1.250" fill="#4bff00"/><rect x="3.000" y="16.000" width="1.250" height="1.250" fill="#45ff00"/><rect x="4.000" y="16.000" width="1.250" height="1.250" fill="#3fff00"/><rect x="5.000" y="16.000" width="1.250" height="1.250" fill="#37ff00"/><rect x="6.000" y="16.000" width="1.250" height="1.250" fill="#2dff00"/><rect x="7.000" y="16.000" width="1.250" height="1.250" fill="#23ff00"/><rect x="8.000" y="16.000" width="1.250" height="1.250" fill="#18ff00"/><rect x="9.000" y="16.000" width="1.250" height="1.250" fill="#0cff00"/><rect x="10.000" y="16.000" width="1.250" height="1.250" fill="#01ff00"/><rect x="11.000" y="16.000" width="1.250" height="1.250" fill="#00ff0b"/><rect x="12.000" y="16.000" width="1.250" height="1.250" fill="#00ff16"/><rect x="13.000" y="16.000" width="1.250" height="1.250" fill="#00ff21"/><rect x="14.000" y="16.000" width="1.250" height="1.250" fill="#00ff2b"/><rect x="15.000" y="16.000" width="1.250" height="1.250" fill="#00ff34"/><rect x="16.000" y="16.000" width="1.250" height="1.250" fill="#00ff3c"/><rect x="17.000" y="16.000" width="1.250" height="1.250" fill="#00ff42"/><rect x="18.000" y="16.000" width="1.250" height="1.250" fill="#00ff47"/><rect x="19.000" y="16.000" width="1.250" height="1.250" fill="#00ff4b"/><rect x="20.000" y="16.000" width="2.250" height="1.250" fill="#00ff4c"/><rect x="22.000" y="16.000" width="1.250" height="1.250" fill="#00ff4b"/><rect x="23.000" y="16.000" width="1.250" height="1.250" fill="#00ff47"/><rect x="24.000" y="16.000" width="1.250" height="1.250" fill="#00ff42"/><rect x="25.000" y="16.000" width="1.250" height="1.250" fill="#00ff3c"/><rect x="26.000" y="16.000" width="1.250" height="1.250" fill="#00ff34"/><rect x="27.000" y="16.000" width="1.250" height="1.250" fill="#00ff2b"/><rect x="28.000" y="16.000" width="1.250" height="1.250" fill="#00ff21"/><rect x="29.000" y="16.000" width="1.250" height="1.250" fill="#00ff16"/><rect x="30.000" y="16.000" width="1.250" height="1.250" fill="#00ff0b"/><rect x="31.000" y="16.000" width="1.250" height="1.250" fill="#01ff00"/><rect x="32.000" y="16.000" width="1.250" height="1.250" fill="#0cff00"/><rect x="33.000" y="16.000" width="1.250" height="1.250" fill="#18ff00"/><rect x="34.000" y="16.000" width="1.250" height="1.250" fill="#23ff00"/><rect x="35.000" y="16.000" width="1.250" height="1.250" fill="#2dff00"/><rect x="36.000" y="16.000" width="1.250" height="1.250" fill="#37ff00"/><rect x="37.000" y="16.000" width="1.250" height="1.250" fill="#3fff00"/><rect x="38.000" y="16.000" width="1.250" height="1.250" fill="#45ff00"/><rect x="39.000" y="16.000" width="1.250" height="1.250" fill="#4bff00"/><rect x="40.000" y="16.000" width="1.250" height="1.250" fill="#4eff00"/><rect x="41.000" y="16.000" width="1.250" height="1.250" fill="#50ff00"/><rect x="0.000" y="17.000" width="1.250" height="1.250" fill="#52ff00"/><rect x="1.000" y="17.000" width="1.250" height="1.250" fill="#50ff00"/><rect x="2.000" y="17.000" width="1.250" height="1.250" fill="#4dff00"/><rect x="3.000" y="17.000" width="1.250" height="1.250" fill="#47ff00"/><rect x="4.000" y="17.000" width="1.250" height="1.250" fill="#40ff00"/><rect x="5.000" y="17.000" width="1.250" height="1.250" fill="#38ff00"/><rect x="6.000" y="17.000" width="1.250" height="1.250" fill="#2eff00"/><rect x="7.000" y="17.000" width="1.250" height="1.250" fill="#24ff00"/><rect x="8.000" y="17.000" width="1.250" height="1.250" fill="#19ff00"/><rect x="9.000" y="17.000" width="1.250" height="1.250" fill="#0dff00"/><rect x="10.000" y="17.000" width="1.250" height="1.250" fill="#01ff00"/><rect x="11.000" y="17.000" width="1.250" height="1.250" fill="#00ff0b"/><rect x="12.000" y="17.000" width="1.250" height="1.250" fill="#00ff16"/><rect x="13.000" y="17.000" width="1.250" height="1.250" fill="#00ff21"/><rect x="14.000" y="17.000" width="1.250" height="1.250" fill="#00ff2b"/><rect x="15.000" y="17.000" width="1.250" height="1.250" fill="#00ff34"/><rect x="16.000" y="17.000" width="1.250" height="1.250" fill="#00ff3c"/><rect x="17.000" y="17.000" width="1.250" height="1.250" fill="#00ff42"/><rect x="18.000" y="17.000" width="1.250" height="1.250" fill="#00ff47"/><rect x="19.000" y="17.000" width="1.250" height="1.250" fill="#00ff4b"/><rect x="20.000" y="17.000" width="2.250" height="1.250" fill="#00ff4c"/><rect x="22.000" y="17.000" width="1.250" height="1.250" fill="#00ff4b"/><rect x="23.000" y="17.000" width="1.250" height="1.250" fill="#00ff47"/><rect x="24.000" y="17.000" width="1.250" height="1.250" fill="#00ff42"/><rect x="25.000" y="17.000" width="1.250" height="1.250" fill="#00ff3c"/><rect x="26.000" y="17.000" width="1.250" height="1.250" fill="#00ff34"/><rect x="27.000" y="17.000" width="1.250" height="1.250" fill="#00ff2b"/><rect x="28.000" y="17.000" width="1.250" height="1.250" fill="#00ff21"/><rect x="29.000" y="17.000" width="1.250" height="1.250" fill="#00ff16"/><rect x="30.000" y="17.000" width="1.250" height="1.250" fill="#00ff0b"/><rect x="31.000" y="17.000" width="1.250" height="1.250" fill="#01ff00"/><rect x="32.000" y="17.000" width="1.250" height="1.250" fill="#0dff00"/><rect x="33.000" y="17.000" width="1.250" height="1.250" fill="#19ff00"/><rect x="34.000" y="17.000" width="1.250" height="1.250" fill="#24ff00"/><rect x="35.000" y="17.000" width="1.250" height="1.250" fill="#2eff00"/><rect x="36.000" y="17.000" width="1.250" height="1.250" fill="#38ff00"/><rect x="37.000" y="17.000" width="1.250" height="1.250" fill="#40ff00"/><rect x="38.000" y="17.000" width="1.250" height="1.250" fill="#47ff00"/><rect x="39.000" y="17.000" width="1.250" height="1.250" fill="#4dff00"/><rect x="40.000" y="17.000" width="1.250" height="1.250" fill="#50ff00"/><rect x="41.000" y="17.000" width="1.250" height="1.250" fill="#52ff00"/><rect x="0.000" y="18.000" width="1.250" height="1.250" fill="#55ff00"/><rect x="1.000" y="18.000" width="1.250" height="1.250" fill="#53ff00"/><rect x="2.000" y="18.000" width="1.250" height="1.250" fill="#4fff00"/><rect x="3.000" y="18.000" width="1.250" height="1.250" fill="#4aff00"/><rect x="4.000" y="18.000" width="1.250" height="1.250" fill="#42ff00"/><rect x="5.000" y="18.000" width="1.250" height="1.250" fill="#3aff00"/><rect x="6.000" y="18.000" width="1.250" height="1.250" fill="#30ff00"/><rect x="7.000" y="18.000" width="1.250" height="1.250" fill="#25ff00"/><rect x="8.000" y="18.000" width="1.250" height="1.250" fill="#1aff00"/><rect x="9.000" y="18.000" width="1.250" height="1.250" fill="#0eff00"/><rect x="10.000" y="18.000" width="1.250" height="1.250" fill="#02ff00"/><rect x="11.000" y="18.000" width="1.250" height="1.250" fill="#00ff0a"/><rect x="12.000" y="18.000" width="1.250" height="1.250" fill="#00ff16"/><rect x="13.000" y="18.000" width="1.250" height="1.250" fill="#00ff21"/><rect x="14.000" y="18.000" width="1.250" height="1.250" fill="#00ff2b"/><rect x="15.000" y="18.000" width="1.250" height="1.250" fill="#00ff34"/><rect x="16.000" y="18.000" width="1.250" height="1.250" fill="#00ff3c"/><rect x="17.000" y="18.000" width="1.250" height="1.250" fill="#00ff42"/><rect x="18.000" y="18.000" width="1.250" height="1.250" fill="#00ff47"/><rect x="19.000" y="18.000" width="1.250" height="1.250" fill="#00ff4b"/><rect x="20.000" y="18.000" width="2.250" height="1.250" fill="#00ff4c"/><rect x="22.000" y="18.000" width="1.250" height="1.250" fill="#00ff4b"/><rect x="23.000" y="18.000" width="1.250" height="1.250" fill="#00ff47"/><rect x="24.000" y="18.000" width="1.250" height="1.250" fill="#00ff42"/><rect x="25.000" y="18.000" width="1.250" height="1.250" fill="#00ff3c"/><rect x="26.000" y="18.000" width="1.250" height="1.250" fill="#00ff34"/><rect x="27.000" y="18.000" width="1.250" height="1.250" fill="#00ff2b"/><rect x="28.000" y="18.000" width="1.250" height="1.250" fill="#00ff21"/><rect x="29.000" y="18.000" width="1.250" height="1.250" fill="#00ff16"/><rect x="30.000" y="18.000" width="1.250" height="1.250" fill="#00ff0a"/><rect x="31.000" y="18.000" width="1.250" height="1.250" fill="#02ff00"/><rect x="32.000" y="18.000" width="1.250" height="1.250" fill="#0eff00"/><rect x="33.000" y="18.000" width="1.250" height="1.250" fill="#1aff00"/><rect x="34.000" y="18.000" width="1.250" height="1.250" fill="#25ff00"/><rect x="35.000" y="18.000" width="1.250" height="1.250" fill="#30ff00"/><rect x="36.000" y="18.000" width="1.250" height="1.250" fill="#3aff00"/><rect x="37.000" y="18.000" width="1.250" height="1.250" fill="#42ff00"/><rect x="38.000" y="18.000" width="1.250" height="1.250" fill="#4aff00"/><rect x="39.000" y="18.000" width="1.250" height="1.250" fill="#4fff00"/><rect x="40.000" y="18.000" width="1.250" height="1.250" fill="#53ff00"/><rect x="41.000" y="18.000" width="1.250" height="1.250" fill="#55ff00"/><rect x="0.000" y="19.000" width="1.250" height="1.250" fill="#59ff00"/><rect x="1.000" y="19.000" width="1.250" height="1.250" fill="#57ff00"/><rect x="2.000" y="19.000" width="1.250" height="1.250" fill="#53ff00"/><rect x="3.000" y="19.000" width="1.250" height="1.250" fill="#4dff00"/><rect x="4.000" y="19.000" width="1.250" height="1.250" fill="#45ff00"/><rect x="5.000" y="19.000" width="1.250" height="1.250" fill="#3cff00"/><rect x="6.000" y="19.000" width="1.250" height="1.250" fill="#32ff00"/><rect x="7.000" y="19.000" width="1.250" height="1.250" fill="#27ff00"/><rect x="8.000" y="19.000" width="1.250" height="1.250" fill="#1bff00"/><rect x="9.000" y="19.000" width="1.250" height="1.250" fill="#0fff00"/><rect x="10.000" y="19.000" width="1.250" height="1.250" fill="#03ff00"/><rect x="11.000" y="19.000" width="1.250" height="1.250" fill="#00ff09"/><rect x="12.000" y="19.000" width="1.250" height="1.250" fill="#00ff15"/><rect x="13.000" y="19.000" width="1.250" height="1.250" fill="#00ff20"/><rect x="14.000" y="19.000" width="1.250" height="1.250" fill="#00ff2a"/><rect x="15.000" y="19.000" width="1.250" height="1.250" fill="#00ff34"/><rect x="16.000" y="19.000" width="1.250" height="1.250" fill="#00ff3c"/><rect x="17.000" y="19.000" width="1.250" height="1.250" fill="#00ff42"/><rect x="18.000" y="19.000" width="1.250" height="1.250" fill="#00ff47"/><rect x="19.000" y="19.000" width="1.250" height="1.250" fill="#00ff4b"/><rect x="20.000" y="19.000" width="2.250" height="1.250" fill="#00ff4c"/><rect x="22.000" y="19.000" width="1.250" height="1.250" fill="#00ff4b"/><rect x="23.000" y="19.000" width="1.250" height="1.250" fill="#00ff47"/><rect x="24.000" y="19.000" width="1.250" height="1.250" fill="#00ff42"/><rect x="25.000" y="19.000" width="1.250" height="1.250" fill="#00ff3c"/><rect x="26.000" y="19.000" width="1.250" height="1.250" fill="#00ff34"/><rect x="27.000" y="19.000" width="1.250" height="1.250" fill="#00ff2a"/><rect x="28.000" y="19.000" width="1.250" height="1.250" fill="#00ff20"/><rect x="29.000" y="19.000" width="1.250" height="1.250" fill="#00ff15"/><rect x="30.000" y="19.000" width="1.250" height="1.250" fill="#00ff09"/><rect x="31.000" y="19.000" width="1.250" height="1.250" fill="#03ff00"/><rect x="32.000" y="19.000" width="1.250" height="1.250" fill="#0fff00"/><rect x="33.000" y="19.000" width="1.250" height="1.250" fill="#1bff00"/><rect x="34.000" y="19.000" width="1.250" height="1.250" fill="#27ff00"/><rect x="35.000" y="19.000" width="1.250" height="1.250" fill="#32ff00"/><rect x="36.000" y="19.000" width="1.250" height="1.250" fill="#3cff00"/><rect x="37.000" y="19.000" width="1.250" height="1.250" fill="#45ff00"/><rect x="38.000" y="19.000" width="1.250" height="1.250" fill="#4dff00"/><rect x="39.000" y="19.000" width="1.250" height="1.250" fill="#53ff00"/><rect x="40.000" y="19.000" width="1.250" height="1.250" fill="#57ff00"/><rect x="41.000" y="19.000" width="1.250" height="1.250" fill="#59ff00"/><rect x="0.000" y="20.000" width="1.250" height="1.250" fill="#5eff00"/><rect x="1.000" y="20.000" width="1.250" height="1.250" fill="#5bff00"/><rect x="2.000" y="20.000" width="1.250" height="1.250" fill="#57ff00"/><rect x="3.000" y="20.000" width="1.250" height="1.250" fill="#51ff00"/><rect x="4.000" y="20.000" width="1.250" height="1.250" fill="#49ff00"/><rect x="5.000" y="20.000" width="1.250" height="1.250" fill="#3fff00"/><rect x="6.000" y="20.000" width="1.250" height="1.250" fill="#35ff00"/><rect x="7.000" y="20.000" width="1.250" height="1.250" fill="#29ff00"/><rect x="8.000" y="20.000" width="1.250" height="1.250" fill="#1dff00"/><rect x="9.000" y="20.000" width="1.250" height="1.250" fill="#10ff00"/><rect x="10.000" y="20.000" width="1.250" height="1.250" fill="#04ff00"/><rect x="11.000" y="20.000" width="1.250" height="1.250" fill="#00ff09"/><rect x="12.000" y="20.000" width="1.250" height="1.250" fill="#00ff15"/><rect x="13.000" y="20.000" width="1.250" height="1.250" fill="#00ff20"/><rect x="14.000" y="20.000" width="1.250" height="1.250" fill="#00ff2a"/><rect x="15.000" y="20.000" width="1.250" height="1.250" fill="#00ff33"/><rect x="16.000" y="20.000" width="1.250" height="1.250" fill="#00ff3b"/><rect x="17.000" y="20.000" width="1.250" height="1.250" fill="#00ff42"/><rect x="18.000" y="20.000" width="1.250" height="1.250" fill="#00ff47"/><rect x="19.000" y="20.000" width="1.250" height="1.250" fill="#00ff4b"/><rect x="20.000" y="20.000" width="2.250" height="1.250" fill="#00ff4c"/><rect x="22.000" y="20.000" width="1.250" height="1.250" fill="#00ff4b"/><rect x="23.000" y="20.000" width="1.250" height="1.250" fill="#00ff47"/><rect x="24.000" y="20.000" width="1.250" height="1.250" fill="#00ff42"/><rect x="25.000" y="20.000" width="1.250" height="1.250" fill="#00ff3b"/><rect x="26.000" y="20.000" width="1.250" height="1.250" fill="#00ff33"/><rect x="27.000" y="20.000" width="1.250" height="1.250" fill="#00ff2a"/><rect x="28.000" y="20.000" width="1.250" height="1.250" fill="#00ff20"/><rect x="29.000" y="20.000" width="1.250" height="1.250" fill="#00ff15"/><rect x="30.000" y="20.000" width="1.250" height="1.250" fill="#00ff09"/><rect x="31.000" y="20.000" width="1.250" height="1.250" fill="#04ff00"/><rect x="32.000" y="20.000" width="1.250" height="1.250" fill="#10ff00"/><rect x="33.000" y="20.000" width="1.250" height="1.250" fill="#1dff00"/><rect x="34.000" y="20.000" width="1.250" height="1.250" fill="#29ff00"/><rect x="35.000" y="20.000" width="1.250" height="1.250" fill="#35ff00"/><rect x="36.000" y="20.000" width="1.250" height="1.250" fill="#3fff00"/><rect x="37.000" y="20.000" width="1.250" height="1.250" fill="#49ff00"/><rect x="38.000" y="20.000" width="1.250" height="1.250" fill="#51ff00"/><rect x="39.000" y="20.000" width="1.250" height="1.250" fill="#57ff00"/><rect x="40.000" y="20.000" width="1.250" height="1.250" fill="#5bff00"/><rect x="41.000" y="20.000" width="1.250" height="1.250" fill="#5eff00"/><rect x="0.000" y="21.000" width="1.250" height="1.250" fill="#64ff00"/><rect x="1.000" y="21.000" width="1.250" height="1.250" fill="#61ff00"/><rect x="2.000" y="21.000" width="1.250" height="1.250" fill="#5dff00"/><rect x="3.000" y="21.000" width="1.250" height="1.250" fill="#56ff00"/><rect x="4.000" y="21.000" width="1.250" height="1.250" fill="#4dff00"/><rect x="5.000" y="21.000" width="1.250" height="1.250" fill="#43ff00"/><rect x="6.000" y="21.000" width="1.250" height="1.250" fill="#38ff00"/><rect x="7.000" y="21.000" width="1.250" height="1.250" fill="#2cff00"/><rect x="8.000" y="21.000" width="1.250" height="1.250" fill="#1fff00"/><rect x="9.000" y="21.000" width="1.250" height="1.250" fill="#12ff00"/><rect x="10.000" y="21.000" width="1.250" height="1.250" fill="#05ff00"/><rect x="11.000" y="21.000" width="1.250" height="1.250" fill="#00ff08"/><rect x="12.000" y="21.000" width="1.250" height="1.250" fill="#00ff14"/><rect x="13.000" y="21.000" width="1.250" height="1.250" fill="#00ff1f"/><rect x="14.000" y="21.000" width="1.250" height="1.250" fill="#00ff2a"/><rect x="15.000" y="21.000" width="1.250" height="1.250" fill="#00ff33"/><rect x="16.000" y="21.000" width="1.250" height="1.250" fill="#00ff3b"/><rect x="17.000" y="21.000" width="1.250" height="1.250" fill="#00ff42"/><rect x="18.000" y="21.000" width="1.250" height="1.250" fill="#00ff47"/><rect x="19.000" y="21.000" width="1.250" height="1.250" fill="#00ff4a"/><rect x="20.000" y="21.000" width="2.250" height="1.250" fill="#00ff4c"/><rect x="22.000" y="21.000" width="1.250" height="1.250" fill="#00ff4a"/><rect x="23.000" y="21.000" width="1.250" height="1.250" fill="#00ff47"/><rect x="24.000" y="21.000" width="1.250" height="1.250" fill="#00ff42"/><rect x="25.000" y="21.000" width="1.250" height="1.250" fill="#00ff3b"/><rect x="26.000" y="21.000" width="1.250" height="1.250" fill="#00ff33"/><rect x="27.000" y="21.000" width="1.250" height="1.250" fill="#00ff2a"/><rect x="28.000" y="21.000" width="1.250" height="1.250" fill="#00ff1f"/><rect x="29.000" y="21.000" width="1.250" height="1.250" fill="#00ff14"/><rect x="30.000" y="21.000" width="1.250" height="1.250" fill="#00ff08"/><rect x="31.000" y="21.000" width="1.250" height="1.250" fill="#05ff00"/><rect x="32.000" y="21.000" width="1.250" height="1.250" fill="#12ff00"/><rect x="33.000" y="21.000" width="1.250" height="1.250" fill="#1fff00"/><rect x="34.000" y="21.000" width="1.250" height="1.250" fill="#2cff00"/><rect x="35.000" y="21.000" width="1.250" height="1.250" fill="#38ff00"/><rect x="36.000" y="21.000" width="1.250" height="1.250" fill="#43ff00"/><rect x="37.000" y="21.000" width="1.250" height="1.250" fill="#4dff00"/><rect x="38.000" y="21.000" width="1.250" height="1.250" fill="#56ff00"/><rect x="39.000" y="21.000" width="1.250" height="1.250" fill="#5dff00"/><rect x="40.000" y="21.000" width="1.250" height="1.250" fill="#61ff00"/><rect x="41.000" y="21.000" width="1.250" height="1.250" fill="#64ff00"/><rect x="0.000" y="22.000" width="1.250" height="1.250" fill="#6bff00"/><rect x="1.000" y="22.000" width="1.250" height="1.250" fill="#68ff00"/><rect x="2.000" y="22.000" width="1.250" height="1.250" fill="#63ff00"/><rect x="3.000" y="22.000" width="1.250" height="1.250" fill="#5cff00"/><rect x="4.000" y="22.000" width="1.250" height="1.250" fill="#53ff00"/><rect x="5.000" y="22.000" width="1.250" height="1.250" fill="#48ff00"/><rect x="6.000" y="22.000" width="1.250" height="1.250" fill="#3cff00"/><rect x="7.000" y="22.000" width="1.250" height="1.250" fill="#2fff00"/><rect x="8.000" y="22.000" width="1.250" height="1.250" fill="#21ff00"/><rect x="9.000" y="22.000" width="1.250" height="1.250" fill="#14ff00"/><rect x="10.000" y="22.000" width="1.250" height="1.250" fill="#06ff00"/><rect x="11.000" y="22.000" width="1.250" height="1.250" fill="#00ff07"/><rect x="12.000" y="22.000" width="1.250" height="1.250" fill="#00ff13"/><rect x="13.000" y="22.000" width="1.250" height="1.250" fill="#00ff1f"/><rect x="14.000" y="22.000" width="1.250" height="1.250" fill="#00ff2a"/><rect x="15.000" y="22.000" width="1.250" height="1.250" fill="#00ff33"/><rect x="16.000" y="22.000" width="1.250" height="1.250" fill="#00ff3b"/><rect x="17.000" y="22.000" width="1.250" height="1.250" fill="#00ff42"/><rect x="18.000" y="22.000" width="1.250" height="1.250" fill="#00ff47"/><rect x="19.000" y="22.000" width="1.250" height="1.250" fill="#00ff4a"/><rect x="20.000" y="22.000" width="2.250" height="1.250" fill="#00ff4c"/><rect x="22.000" y="22.000" width="1.250" height="1.250" fill="#00ff4a"/><rect x="23.000" y="22.000" width="1.250" height="1.250" fill="#00ff47"/><rect x="24.000" y="22.000" width="1.250" height="1.250" fill="#00ff42"/><rect x="25.000" y="22.000" width="1.250" height="1.250" fill="#00ff3b"/><rect x="26.000" y="22.000" width="1.250" height="1.250" fill="#00ff33"/><rect x="27.000" y="22.000" width="1.250" height="1.250" fill="#00ff2a"/><rect x="28.000" y="22.000" width="1.250" height="1.250" fill="#00ff1f"/><rect x="29.000" y="22.000" width="1.250" height="1.250" fill="#00ff13"/><rect x="30.000" y="22.000" width="1.250" height="1.250" fill="#00ff07"/><rect x="31.000" y="22.000" width="1.250" height="1.250" fill="#06ff00"/><rect x="32.000" y="22.000" width="1.250" height="1.250" fill="#14ff00"/><rect x="33.000" y="22.000" width="1.250" height="1.250" fill="#21ff00"/><rect x="34.000" y="22.000" width="1.250" height="1.250" fill="#2fff00"/><rect x="35.000" y="22.000" width="1.250" height="1.250" fill="#3cff00"/><rect x="36.000" y="22.000" width="1.250" height="1.250" fill="#48ff00"/><rect x="37.000" y="22.000" width="1.250" height="1.250" fill="#53ff00"/><rect x="38.000" y="22.000" width="1.250" height="1.250" fill="#5cff00"/><rect x="39.000" y="22.000" width="1.250" height="1.250" fill="#63ff00"/><rect x="40.000" y="22.000" width="1.250" height="1.250" fill="#68ff00"/><rect x="41.000" y="22.000" width="1.250" height="1.250" fill="#6bff00"/><rect x="0.000" y="23.000" width="1.250" height="1.250" fill="#72ff00"/><rect x="1.000" y="23.000" width="1.250" height="1.250" fill="#70ff00"/><rect x="2.000" y="23.000" width="1.250" height="1.250" fill="#6aff00"/><rect x="3.000" y="23.000" width="1.250" height="1.250" fill="#62ff00"/><rect x="4.000" y="23.000" width="1.250" height="1.250" fill="#58ff00"/><rect x="5.000" y="23.000" width="1.250" height="1.250" fill="#4dff00"/><rect x="6.000" y="23.000" width="1.250" height="1.250" fill="#40ff00"/><rect x="7.000" y="23.000" width="1.250" height="1.250" fill="#32ff00"/><rect x="8.000" y="23.000" width="1.250" height="1.250" fill="#24ff00"/><rect x="9.000" y="23.000" width="1.250" height="1.250" fill="#16ff00"/><rect x="10.000" y="23.000" width="1.250" height="1.250" fill="#08ff00"/><rect x="11.000" y="23.000" width="1.250" height="1.250" fill="#00ff06"/><rect x="12.000" y="23.000" width="1.250" height="1.250" fill="#00ff12"/><rect x="13.000" y="23.000" width="1.250" height="1.250" fill="#00ff1e"/><rect x="14.000" y="23.000" width="1.250" height="1.250" fill="#00ff29"/><rect x="15.000" y="23.000" width="1.250" height="1.250" fill="#00ff33"/><rect x="16.000" y="23.000" width="1.250" height="1.250" fill="#00ff3b"/><rect x="17.000" y="23.000" width="1.250" height="1.250" fill="#00ff42"/><rect x="18.000" y="23.000" width="1.250" height="1.250" fill="#00ff47"/><rect x="19.000" y="23.000" width="1.250" height="1.250" fill="#00ff4a"/><rect x="20.000" y="23.000" width="2.250" height="1.250" fill="#00ff4c"/><rect x="22.000" y="23.000" width="1.250" height="1.250" fill="#00ff4a"/><rect x="23.000" y="23.000" width="1.250" height="1.250" fill="#00ff47"/><rect x="24.000" y="23.000" width="1.250" height="1.250" fill="#00ff42"/><rect x="25.000" y="23.000" width="1.250" height="1.250" fill="#00ff3b"/><rect x="26.000" y="23.000" width="1.250" height="1.250" fill="#00ff33"/><rect x="27.000" y="23.000" width="1.250" height="1.250" fill="#00ff29"/><rect x="28.000" y="23.000" width="1.250" height="1.250" fill="#00ff1e"/><rect x="29.000" y="23.000" width="1.250" height="1.250" fill="#00ff12"/><rect x="30.000" y="23.000" width="1.250" height="1.250" fill="#00ff06"/><rect x="31.000" y="23.000" width="1.250" height="1.250" fill="#08ff00"/><rect x="32.000" y="23.000" width="1.250" height="1.250" fill="#16ff00"/><rect x="33.000" y="23.000" width="1.250" height="1.250" fill="#24ff00"/><rect x="34.000" y="23.000" width="1.250" height="1.250" fill="#32ff00"/><rect x="35.000" y="23.000" width="1.250" height="1.250" fill="#40ff00"/><rect x="36.000" y="23.000" width="1.250" height="1.250" fill="#4dff00"/><rect x="37.000" y="23.000" width="1.250" height="1.250" fill="#58ff00"/><rect x="38.000" y="23.000" width="1.250" height="1.250" fill="#62ff00"/><rect x="39.000" y="23.000" width="1.250" height="1.250" fill="#6aff00"/><rect x="40.000" y="23.000" width="1.250" height="1.250" fill="#70ff00"/><rect x="41.000" y="23.000" width="1.250" height="1.250" fill="#72ff00"/><rect x="0.000" y="24.000" width="1.250" height="1.250" fill="#7bff00"/><rect x="1.000" y="24.000" width="1.250" height="1.250" fill="#78ff00"/><rect x="2.000" y="24.000" width="1.250" height="1.250" fill="#72ff00"/><rect x="3.000" y="24.000" width="1.250" height="1.250" fill="#69ff00"/><rect x="4.000" y="24.000" width="1.250" height="1.250" fill="#5fff00"/><rect x="5.000" y="24.000" width="1.250" height="1.250" fill="#52ff00"/><rect x="6.000" y="24.000" width="1.250" height="1.250" fill="#45ff00"/><rect x="7.000" y="24.000" width="1.250" height="1.250" fill="#36ff00"/><rect x="8.000" y="24.000" width="1.250" height="1.250" fill="#27ff00"/><rect x="9.000" y="24.000" width="1.250" height="1.250" fill="#18ff00"/><rect x="10.000" y="24.000" width="1.250" height="1.250" fill="#0aff00"/><rect x="11.000" y="24.000" width="1.250" height="1.250" fill="#00ff04"/><rect x="12.000" y="24.000" width="1.250" height="1.250" fill="#00ff11"/><rect x="13.000" y="24.000" width="1.250" height="1.250" fill="#00ff1e"/><rect x="14.000" y="24.000" width="1.250" height="1.250" fill="#00ff29"/><rect x="15.000" y="24.000" width="1.250" height="1.250" fill="#00ff32"/><rect x="16.000" y="24.000" width="1.250" height="1.250" fill="#00ff3b"/><rect x="17.000" y="24.000" width="1.250" height="1.250" fill="#00ff42"/><rect x="18.000" y="24.000" width="1.250" height="1.250" fill="#00ff47"/><rect x="19.000" y="24.000" width="1.250" height="1.250" fill="#00ff4a"/><rect x="20.000" y="24.000" width="2.250" height="1.250" fill="#00ff4c"/><rect x="22.000" y="24.000" width="1.250" height="1.250" fill="#00ff4a"/><rect x="23.000" y="24.000" width="1.250" height="1.250" fill="#00ff47"/><rect x="24.000" y="24.000" width="1.250" height="1.250" fill="#00ff42"/><rect x="25.000" y="24.000" width="1.250" height="1.250" fill="#00ff3b"/><rect x="26.000" y="24.000" width="1.250" height="1.250" fill="#00ff32"/><rect x="27.000" y="24.000" width="1.250" height="1.250" fill="#00ff29"/><rect x="28.000" y="24.000" width="1.250" height="1.250" fill="#00ff1e"/><rect x="29.000" y="24.000" width="1.250" height="1.250" fill="#00ff11"/><rect x="30.000" y="24.000" width="1.250" height="1.250" fill="#00ff04"/><rect x="31.000" y="24.000" width="1.250" height="1.250" fill="#0aff00"/><rect x="32.000" y="24.000" width="1.250" height="1.250" fill="#18ff00"/><rect x="33.000" y="24.000" width="1.250" height="1.250" fill="#27ff00"/><rect x="34.000" y="24.000" width="1.250" height="1.250" fill="#36ff00"/><rect x="35.000" y="24.000" width="1.250" height="1.250" fill="#45ff00"/><rect x="36.000" y="24.000" width="1.250" height="1.250" fill="#52ff00"/><rect x="37.000" y="24.000" width="1.250" height="1.250" fill="#5fff00"/><rect x="38.000" y="24.000" width="1.250" height="1.250" fill="#69ff00"/><rect x="39.000" y="24.000" width="1.250" height="1.250" fill="#72ff00"/><rect x="40.000" y="24.000" width="1.250" height="1.250" fill="#78ff00"/><rect x="41.000" y="24.000" width="1.250" height="1.250" fill="#7bff00"/><rect x="0.000" y="25.000" width="1.250" height="1.250" fill="#83ff00"/><rect x="1.000" y="25.000" width="1.250" height="1.250" fill="#80ff00"/><rect x="2.000" y="25.000" width="1.250" height="1.250" fill="#79ff00"/><rect x="3.000" y="25.000" width="1.250" height="1.250" fill="#70ff00"/><rect x="4.000" y="25.000" width="1.250" height="1.250" fill="#65ff00"/><rect x="5.000" y="25.000" width="1.250" height="1.250" fill="#58ff00"/><rect x="6.000" y="25.000" width="1.250" height="1.250" fill="#49ff00"/><rect x="7.000" y="25.000" width="1.250" height="1.250" fill="#3aff00"/><rect x="8.000" y="25.000" width="1.250" height="1.250" fill="#2aff00"/><rect x="9.000" y="25.000" width="1.250" height="1.250" fill="#1bff00"/><rect x="10.000" y="25.000" width="1.250" height="1.250" fill="#0bff00"/><rect x="11.000" y="25.000" width="1.250" height="1.250" fill="#00ff03"/><rect x="12.000" y="25.000" width="1.250" height="1.250" fill="#00ff11"/><rect x="13.000" y="25.000" width="1.250" height="1.250" fill="#00ff1d"/><rect x="14.000" y="25.000" width="1.250" height="1.250" fill="#00ff28"/><rect x="15.000" y="25.000" width="1.250" height="1.250" fill="#00ff32"/><rect x="16.000" y="25.000" width="1.250" height="1.250" fill="#00ff3b"/><rect x="17.000" y="25.000" width="1.250" height="1.250" fill="#00ff42"/><rect x="18.000" y="25.000" width="1.250" height="1.250" fill="#00ff47"/><rect x="19.000" y="25.000" width="1.250" height="1.250" fill="#00ff4a"/><rect x="20.000" y="25.000" width="2.250" height="1.250" fill="#00ff4c"/><rect x="22.000" y="25.000" width="1.250" height="1.250" fill="#00ff4a"/><rect x="23.000" y="25.000" width="1.250" height="1.250" fill="#00ff47"/><rect x="24.000" y="25.000" width="1.250" height="1.250" fill="#00ff42"/><rect x="25.000" y="25.000" width="1.250" height="1.250" fill="#00ff3b"/><rect x="26.000" y="25.000" width="1.250" height="1.250" fill="#00ff32"/><rect x="27.000" y="25.000" width="1.250" height="1.250" fill="#00ff28"/><rect x="28.000" y="25.000" width="1.250" height="1.250" fill="#00ff1d"/><rect x="29.000" y="25.000" width="1.250" height="1.250" fill="#00ff11"/><rect x="30.000" y="25.000" width="1.250" height="1.250" fill="#00ff03"/><rect x="31.000" y="25.000" width="1.250" height="1.250" fill="#0bff00"/><rect x="32.000" y="25.000" width="1.250" height="1.250" fill="#1bff00"/><rect x="33.000" y="25.000" width="1.250" height="1.250" fill="#2aff00"/><rect x="34.000" y="25.000" width="1.250" height="1.250" fill="#3aff00"/><rect x="35.000" y="25.000" width="1.250" height="1.250" fill="#49ff00"/><rect x="36.000" y="25.000" width="1.250" height="1.250" fill="#58ff00"/><rect x="37.000" y="25.000" width="1.250" height="1.250" fill="#65ff00"/><rect x="38.000" y="25.000" width="1.250" height="1.250" fill="#70ff00"/><rect x="39.000" y="25.000" width="1.250" height="1.250" fill="#79ff00"/><rect x="40.000" y="25.000" width="1.250" height="1.250" fill="#80ff00"/><rect x="41.000" y="25.000" width="1.250" height="1.250" fill="#83ff00"/><rect x="0.000" y="26.000" width="1.250" height="1.250" fill="#8bff00"/><rect x="1.000" y="26.000" width="1.250" height="1.250" fill="#87ff00"/><rect x="2.000" y="26.000" width="1.250" height="1.250" fill="#80ff00"/><rect x="3.000" y="26.000" width="1.250" height="1.250" fill="#77ff00"/><rect x="4.000" y="26.000" width="1.250" height="1.250" fill="#6bff00"/><rect x="5.000" y="26.000" width="1.250" height="1.250" fill="#5dff00"/><rect x="6.000" y="26.000" width="1.250" height="1.250" fill="#4dff00"/><rect x="7.000" y="26.000" width="1.250" height="1.250" fill="#3dff00"/><rect x="8.000" y="26.000" width="1.250" height="1.250" fill="#2dff00"/><rect x="9.000" y="26.000" width="1.250" height="1.250" fill="#1dff00"/><rect x="10.000" y="26.000" width="1.250" height="1.250" fill="#0dff00"/><rect x="11.000" y="26.000" width="1.250" height="1.250" fill="#00ff02"/><rect x="12.000" y="26.000" width="1.250" height="1.250" fill="#00ff10"/><rect x="13.000" y="26.000" width="1.250" height="1.250" fill="#00ff1c"/><rect x="14.000" y="26.000" width="1.250" height="1.250" fill="#00ff28"/><rect x="15.000" y="26.000" width="1.250" height="1.250" fill="#00ff32"/><rect x="16.000" y="26.000" width="1.250" height="1.250" fill="#00ff3a"/><rect x="17.000" y="26.000" width="1.250" height="1.250" fill="#00ff41"/><rect x="18.000" y="26.000" width="1.250" height="1.250" fill="#00ff47"/><rect x="19.000" y="26.000" width="1.250" height="1.250" fill="#00ff4a"/><rect x="20.000" y="26.000" width="2.250" height="1.250" fill="#00ff4c"/><rect x="22.000" y="26.000" width="1.250" height="1.250" fill="#00ff4a"/><rect x="23.000" y="26.000" width="1.250" height="1.250" fill="#00ff47"/><rect x="24.000" y="26.000" width="1.250" height="1.250" fill="#00ff41"/><rect x="25.000" y="26.000" width="1.250" height="1.250" fill="#00ff3a"/><rect x="26.000" y="26.000" width="1.250" height="1.250" fill="#00ff32"/><rect x="27.000" y="26.000" width="1.250" height="1.250" fill="#00ff28"/><rect x="28.000" y="26.000" width="1.250" height="1.250" fill="#00ff1c"/><rect x="29.000" y="26.000" width="1.250" height="1.250" fill="#00ff10"/><rect x="30.000" y="26.000" width="1.250" height="1.250" fill="#00ff02"/><rect x="31.000" y="26.000" width="1.250" height="1.250" fill="#0dff00"/><rect x="32.000" y="26.000" width="1.250" height="1.250" fill="#1dff00"/><rect x="33.000" y="26.000" width="1.250" height="1.250" fill="#2dff00"/><rect x="34.000" y="26.000" width="1.250" height="1.250" fill="#3dff00"/><rect x="35.000" y="26.000" width="1.250" height="1.250" fill="#4dff00"/><rect x="36.000" y="26.000" width="1.250" height="1.250" fill="#5dff00"/><rect x="37.000" y="26.000" width="1.250" height="1.250" fill="#6bff00"/><rect x="38.000" y="26.000" width="1.250" height="1.250" fill="#77ff00"/><rect x="39.000" y="26.000" width="1.250" height="1.250" fill="#80ff00"/><rect x="40.000" y="26.000" width="1.250" height="1.250" fill="#87ff00"/><rect x="41.000" y="26.000" width="1.250" height="1.250" fill="#8bff00"/><rect x="0.000" y="27.000" width="1.250" height="1.250" fill="#91ff00"/><rect x="1.000" y="27.000" width="1.250" height="1.250" fill="#8dff00"/><rect x="2.000" y="27.000" width="1.250" height="1.250" fill="#86ff00"/><rect x="3.000" y="27.000" width="1.250" height="1.250" fill="#7cff00"/><rect x="4.000" y="27.000" width="1.250" height="1.250" fill="#70ff00"/><rect x="5.000" y="27.000" width="1.250" height="1.250" fill="#61ff00"/><rect x="6.000" y="27.000" width="1.250" height="1.250" fill="#51ff00"/><rect x="7.000" y="27.000" width="1.250" height="1.250" fill="#40ff00"/><rect x="8.000" y="27.000" width="1.250" height="1.250" fill="#2fff00"/><rect x="9.000" y="27.000" width="1.250" height="1.250" fill="#1fff00"/><rect x="10.000" y="27.000" width="1.250" height="1.250" fill="#0eff00"/><rect x="11.000" y="27.000" width="1.250" height="1.250" fill="#00ff01"/><rect x="12.000" y="27.000" width="1.250" height="1.250" fill="#00ff0f"/><rect x="13.000" y="27.000" width="1.250" height="1.250" fill="#00ff1c"/><rect x="14.000" y="27.000" width="1.250" height="1.250" fill="#00ff28"/><rect x="15.000" y="27.000" width="1.250" height="1.250" fill="#00ff32"/><rect x="16.000" y="27.000" width="1.250" height="1.250" fill="#00ff3a"/><rect x="17.000" y="27.000" width="1.250" height="1.250" fill="#00ff41"/><rect x="18.000" y="27.000" width="1.250" height="1.250" fill="#00ff47"/><rect x="19.000" y="27.000" width="1.250" height="1.250" fill="#00ff4a"/><rect x="20.000" y="27.000" width="2.250" height="1.250" fill="#00ff4c"/><rect x="22.000" y="27.000" width="1.250" height="1.250" fill="#00ff4a"/><rect x="23.000" y="27.000" width="1.250" height="1.250" fill="#00ff47"/><rect x="24.000" y="27.000" width="1.250" height="1.250" fill="#00ff41"/><rect x="25.000" y="27.000" width="1.250" height="1.250" fill="#00ff3a"/><rect x="26.000" y="27.000" width="1.250" height="1.250" fill="#00ff32"/><rect x="27.000" y="27.000" width="1.250" height="1.250" fill="#00ff28"/><rect x="28.000" y="27.000" width="1.250" height="1.250" fill="#00ff1c"/><rect x="29.000" y="27.000" width="1.250" height="1.250" fill="#00ff0f"/><rect x="30.000" y="27.000" width="1.250" height="1.250" fill="#00ff01"/><rect x="31.000" y="27.000" width="1.250" height="1.250" fill="#0eff00"/><rect x="32.000" y="27.000" width="1.250" height="1.250" fill="#1fff00"/><rect x="33.000" y="27.000" width="1.250" height="1.250" fill="#2fff00"/><rect x="34.000" y="27.000" width="1.250" height="1.250" fill="#40ff00"/><rect x="35.000" y="27.000" width="1.250" height="1.250" fill="#51ff00"/><rect x="36.000" y="27.000" width="1.250" height="1.250" fill="#61ff00"/><rect x="37.000" y="27.000" width="1.250" height="1.250" fill="#70ff00"/><rect x="38.000" y="27.000" width="1.250" height="1.250" fill="#7cff00"/><rect x="39.000" y="27.000" width="1.250" height="1.250" fill="#86ff00"/><rect x="40.000" y="27.000" width="1.250" height="1.250" fill="#8dff00"/><rect x="41.000" y="27.000" width="1.250" height="1.250" fill="#91ff00"/><rect x="0.000" y="28.000" width="1.250" height="1.250" fill="#96ff00"/><rect x="1.000" y="28.000" width="1.250" height="1.250" fill="#92ff00"/><rect x="2.000" y="28.000" width="1.250" height="1.250" fill="#8bff00"/><rect x="3.000" y="28.000" width="1.250" height="1.250" fill="#80ff00"/><rect x="4.000" y="28.000" width="1.250" height="1.250" fill="#73ff00"/><rect x="5.000" y="28.000" width="1.250" height="1.250" fill="#64ff00"/><rect x="6.000" y="28.000" width="1.250" height="1.250" fill="#54ff00"/><rect x="7.000" y="28.000" width="1.250" height="1.250" fill="#42ff00"/><rect x="8.000" y="28.000" width="1.250" height="1.250" fill="#31ff00"/><rect x="9.000" y="28.000" width="1.250" height="1.250" fill="#20ff00"/><rect x="10.000" y="28.000" width="1.250" height="1.250" fill="#0fff00"/><rect x="11.000" y="28.000" width="1.250" height="1.250" fill="#00ff00"/><rect x="12.000" y="28.000" width="1.250" height="1.250" fill="#00ff0e"/><rect x="13.000" y="28.000" width="1.250" height="1.250" fill="#00ff1c"/><rect x="14.000" y="28.000" width="1.250" height="1.250" fill="#00ff27"/><rect x="15.000" y="28.000" width="1.250" height="1.250" fill="#00ff32"/><rect x="16.000" y="28.000" width="1.250" height="1.250" fill="#00ff3a"/><rect x="17.000" y="28.000" width="1.250" height="1.250" fill="#00ff41"/><rect x="18.000" y="28.000" width="1.250" height="1.250" fill="#00ff47"/><rect x="19.000" y="28.000" width="1.250" height="1.250" fill="#00ff4a"/><rect x="20.000" y="28.000" width="2.250" height="1.250" fill="#00ff4c"/><rect x="22.000" y="28.000" width="1.250" height="1.250" fill="#00ff4a"/><rect x="23.000" y="28.000" width="1.250" height="1.250" fill="#00ff47"/><rect x="24.000" y="28.000" width="1.250" height="1.250" fill="#00ff41"/><rect x="25.000" y="28.000" width="1.250" height="1.250" fill="#00ff3a"/><rect x="26.000" y="28.000" width="1.250" height="1.250" fill="#00ff32"/><rect x="27.000" y="28.000" width="1.250" height="1.250" fill="#00ff27"/><rect x="28.000" y="28.000" width="1.250" height="1.250" fill="#00ff1c"/><rect x="29.000" y="28.000" width="1.250" height="1.250" fill="#00ff0e"/><rect x="30.000" y="28.000" width="1.250" height="1.250" fill="#00ff00"/><rect x="31.000" y="28.000" width="1.250" height="1.250" fill="#0fff00"/><rect x="32.000" y="28.000" width="1.250" height="1.250" fill="#20ff00"/><rect x="33.000" y="28.000" width="1.250" height="1.250" fill="#31ff00"/><rect x="34.000" y="28.000" width="1.250" height="1.250" fill="#42ff00"/><rect x="35.000" y="28.000" width="1.250" height="1.250" fill="#54ff00"/><rect x="36.000" y="28.000" width="1.250" height="1.250" fill="#64ff00"/><rect x="37.000" y="28.000" width="1.250" height="1.250" fill="#73ff00"/><rect x="38.000" y="28.000" width="1.250" height="1.250" fill="#80ff00"/><rect x="39.000" y="28.000" width="1.250" height="1.250" fill="#8bff00"/><rect x="40.000" y="28.000" width="1.250" height="1.250" fill="#92ff00"/><rect x="41.000" y="28.000" width="1.250" height="1.250" fill="#96ff00"/><rect x="0.000" y="29.000" width="1.250" height="1.250" fill="#98ff00"/><rect x="1.000" y="29.000" width="1.250" height="1.250" fill="#94ff00"/><rect x="2.000" y="29.000" width="1.250" height="1.250" fill="#8dff00"/><rect x="3.000" y="29.000" width="1.250" height="1.250" fill="#82ff00"/><rect x="4.000" y="29.000" width="1.250" height="1.250" fill="#75ff00"/><rect x="5.000" y="29.000" width="1.250" height="1.250" fill="#66ff00"/><rect x="6.000" y="29.000" width="1.250" height="1.250" fill="#55ff00"/><rect x="7.000" y="29.000" width="1.250" height="1.250" fill="#44ff00"/><rect x="8.000" y="29.000" width="1.250" height="1.250" fill="#32ff00"/><rect x="9.000" y="29.000" width="1.250" height="1.250" fill="#21ff00"/><rect x="10.000" y="29.000" width="1.250" height="1.250" fill="#10ff00"/><rect x="11.000" y="29.000" width="1.250" height="1.250" fill="#00ff00"/><rect x="12.000" y="29.000" width="1.250" height="1.250" fill="#00ff0e"/><rect x="13.000" y="29.000" width="1.250" height="1.250" fill="#00ff1b"/><rect x="14.000" y="29.000" width="1.250" height="1.250" fill="#00ff27"/><rect x="15.000" y="29.000" width="1.250" height="1.250" fill="#00ff32"/><rect x="16.000" y="29.000" width="1.250" height="1.250" fill="#00ff3a"/><rect x="17.000" y="29.000" width="1.250" height="1.250" fill="#00ff41"/><rect x="18.000" y="29.000" width="1.250" height="1.250" fill="#00ff47"/><rect x="19.000" y="29.000" width="1.250" height="1.250" fill="#00ff4a"/><rect x="20.000" y="29.000" width="2.250" height="1.250" fill="#00ff4c"/><rect x="22.000" y="29.000" width="1.250" height="1.250" fill="#00ff4a"/><rect x="23.000" y="29.000" width="1.250" height="1.250" fill="#00ff47"/><rect x="24.000" y="29.000" width="1.250" height="1.250" fill="#00ff41"/><rect x="25.000" y="29.000" width="1.250" height="1.250" fill="#00ff3a"/><rect x="26.000" y="29.000" width="1.250" height="1.250" fill="#00ff32"/><rect x="27.000" y="29.000" width="1.250" height="1.250" fill="#00ff27"/><rect x="28.000" y="29.000" width="1.250" height="1.250" fill="#00ff1b"/><rect x="29.000" y="29.000" width="1.250" height="1.250" fill="#00ff0e"/><rect x="30.000" y="29.000" width="1.250" height="1.250" fill="#00ff00"/><rect x="31.000" y="29.000" width="1.250" height="1.250" fill="#10ff00"/><rect x="32.000" y="29.000" width="1.250" height="1.250" fill="#21ff00"/><rect x="33.000" y="29.000" width="1.250" height="1.250" fill="#32ff00"/><rect x="34.000" y="29.000" width="1.250" height="1.250" fill="#44ff00"/><rect x="35.000" y="29.000" width="1.250" height="1.250" fill="#55ff00"/><rect x="36.000" y="29.000" width="1.250" height="1.250" fill="#66ff00"/><rect x="37.000" y="29.000" width="1.250" height="1.250" fill="#75ff00"/><rect x="38.000" y="29.000" width="1.250" height="1.250" fill="#82ff00"/><rect x="39.000" y="29.000" width="1.250" height="1.250" fill="#8dff00"/><rect x="40.000" y="29.000" width="1.250" height="1.250" fill="#94ff00"/><rect x="41.000" y="29.000" width="1.250" height="1.250" fill="#98ff00"/></g></pattern><pattern id="pd" patternUnits="userSpaceOnUse" x="414.4" y="245.3" width="42" height="29.4"><g shape-rendering="crispEdges"><rect x="0.000" y="0.000" width="1.250" height="1.264" fill="#ffd900"/><rect x="1.000" y="0.000" width="1.250" height="1.264" fill="#ffdc00"/><rect x="2.000" y="0.000" width="1.250" height="1.264" fill="#ffe200"/><rect x="3.000" y="0.000" width="1.250" height="1.264" fill="#ffec00"/><rect x="4.000" y="0.000" width="1.250" height="1.264" fill="#fff800"/><rect x="5.000" y="0.000" width="1.250" height="1.264" fill="#f7ff00"/><rect x="6.000" y="0.000" width="1.250" height="1.264" fill="#e5ff00"/><rect x="7.000" y="0.000" width="1.250" height="1.264" fill="#d0ff00"/><rect x="8.000" y="0.000" width="1.250" height="1.264" fill="#baff00"/><rect x="9.000" y="0.000" width="1.250" height="1.264" fill="#a1ff00"/><rect x="10.000" y="0.000" width="1.250" height="1.264" fill="#87ff00"/><rect x="11.000" y="0.000" width="1.250" height="1.264" fill="#6bff00"/><rect x="12.000" y="0.000" width="1.250" height="1.264" fill="#4eff00"/><rect x="13.000" y="0.000" width="1.250" height="1.264" fill="#31ff00"/><rect x="14.000" y="0.000" width="1.250" height="1.264" fill="#13ff00"/><rect x="15.000" y="0.000" width="1.250" height="1.264" fill="#00ff0b"/><rect x="16.000" y="0.000" width="1.250" height="1.264" fill="#00ff28"/><rect x="17.000" y="0.000" width="1.250" height="1.264" fill="#00ff44"/><rect x="18.000" y="0.000" width="1.250" height="1.264" fill="#00ff5f"/><rect x="19.000" y="0.000" width="1.250" height="1.264" fill="#00ff76"/><rect x="20.000" y="0.000" width="2.250" height="1.264" fill="#00ff8a"/><rect x="22.000" y="0.000" width="1.250" height="1.264" fill="#00ff76"/><rect x="23.000" y="0.000" width="1.250" height="1.264" fill="#00ff5f"/><rect x="24.000" y="0.000" width="1.250" height="1.264" fill="#00ff44"/><rect x="25.000" y="0.000" width="1.250" height="1.264" fill="#00ff28"/><rect x="26.000" y="0.000" width="1.250" height="1.264" fill="#00ff0b"/><rect x="27.000" y="0.000" width="1.250" height="1.264" fill="#13ff00"/><rect x="28.000" y="0.000" width="1.250" height="1.264" fill="#31ff00"/><rect x="29.000" y="0.000" width="1.250" height="1.264" fill="#4eff00"/><rect x="30.000" y="0.000" width="1.250" height="1.264" fill="#6bff00"/><rect x="31.000" y="0.000" width="1.250" height="1.264" fill="#87ff00"/><rect x="32.000" y="0.000" width="1.250" height="1.264" fill="#a1ff00"/><rect x="33.000" y="0.000" width="1.250" height="1.264" fill="#baff00"/><rect x="34.000" y="0.000" width="1.250" height="1.264" fill="#d0ff00"/><rect x="35.000" y="0.000" width="1.250" height="1.264" fill="#e5ff00"/><rect x="36.000" y="0.000" width="1.250" height="1.264" fill="#f7ff00"/><rect x="37.000" y="0.000" width="1.250" height="1.264" fill="#fff800"/><rect x="38.000" y="0.000" width="1.250" height="1.264" fill="#ffec00"/><rect x="39.000" y="0.000" width="1.250" height="1.264" fill="#ffe200"/><rect x="40.000" y="0.000" width="1.250" height="1.264" fill="#ffdc00"/><rect x="41.000" y="0.000" width="1.250" height="1.264" fill="#ffd900"/><rect x="0.000" y="1.014" width="1.250" height="1.264" fill="#ffec00"/><rect x="1.000" y="1.014" width="1.250" height="1.264" fill="#ffef00"/><rect x="2.000" y="1.014" width="1.250" height="1.264" fill="#fff500"/><rect x="3.000" y="1.014" width="1.250" height="1.264" fill="#fffe00"/><rect x="4.000" y="1.014" width="1.250" height="1.264" fill="#f4ff00"/><rect x="5.000" y="1.014" width="1.250" height="1.264" fill="#e5ff00"/><rect x="6.000" y="1.014" width="1.250" height="1.264" fill="#d4ff00"/><rect x="7.000" y="1.014" width="1.250" height="1.264" fill="#c0ff00"/><rect x="8.000" y="1.014" width="1.250" height="1.264" fill="#aaff00"/><rect x="9.000" y="1.014" width="1.250" height="1.264" fill="#92ff00"/><rect x="10.000" y="1.014" width="1.250" height="1.264" fill="#78ff00"/><rect x="11.000" y="1.014" width="1.250" height="1.264" fill="#5dff00"/><rect x="12.000" y="1.014" width="1.250" height="1.264" fill="#41ff00"/><rect x="13.000" y="1.014" width="1.250" height="1.264" fill="#24ff00"/><rect x="14.000" y="1.014" width="1.250" height="1.264" fill="#06ff00"/><rect x="15.000" y="1.014" width="1.250" height="1.264" fill="#00ff17"/><rect x="16.000" y="1.014" width="1.250" height="1.264" fill="#00ff33"/><rect x="17.000" y="1.014" width="1.250" height="1.264" fill="#00ff4f"/><rect x="18.000" y="1.014" width="1.250" height="1.264" fill="#00ff68"/><rect x="19.000" y="1.014" width="1.250" height="1.264" fill="#00ff80"/><rect x="20.000" y="1.014" width="2.250" height="1.264" fill="#00ff92"/><rect x="22.000" y="1.014" width="1.250" height="1.264" fill="#00ff80"/><rect x="23.000" y="1.014" width="1.250" height="1.264" fill="#00ff68"/><rect x="24.000" y="1.014" width="1.250" height="1.264" fill="#00ff4f"/><rect x="25.000" y="1.014" width="1.250" height="1.264" fill="#00ff33"/><rect x="26.000" y="1.014" width="1.250" height="1.264" fill="#00ff17"/><rect x="27.000" y="1.014" width="1.250" height="1.264" fill="#06ff00"/><rect x="28.000" y="1.014" width="1.250" height="1.264" fill="#24ff00"/><rect x="29.000" y="1.014" width="1.250" height="1.264" fill="#41ff00"/><rect x="30.000" y="1.014" width="1.250" height="1.264" fill="#5dff00"/><rect x="31.000" y="1.014" width="1.250" height="1.264" fill="#78ff00"/><rect x="32.000" y="1.014" width="1.250" height="1.264" fill="#92ff00"/><rect x="33.000" y="1.014" width="1.250" height="1.264" fill="#aaff00"/><rect x="34.000" y="1.014" width="1.250" height="1.264" fill="#c0ff00"/><rect x="35.000" y="1.014" width="1.250" height="1.264" fill="#d4ff00"/><rect x="36.000" y="1.014" width="1.250" height="1.264" fill="#e5ff00"/><rect x="37.000" y="1.014" width="1.250" height="1.264" fill="#f4ff00"/><rect x="38.000" y="1.014" width="1.250" height="1.264" fill="#fffe00"/><rect x="39.000" y="1.014" width="1.250" height="1.264" fill="#fff500"/><rect x="40.000" y="1.014" width="1.250" height="1.264" fill="#ffef00"/><rect x="41.000" y="1.014" width="1.250" height="1.264" fill="#ffec00"/><rect x="0.000" y="2.028" width="1.250" height="1.264" fill="#eeff00"/><rect x="1.000" y="2.028" width="1.250" height="1.264" fill="#ebff00"/><rect x="2.000" y="2.028" width="1.250" height="1.264" fill="#e5ff00"/><rect x="3.000" y="2.028" width="1.250" height="1.264" fill="#dcff00"/><rect x="4.000" y="2.028" width="1.250" height="1.264" fill="#d1ff00"/><rect x="5.000" y="2.028" width="1.250" height="1.264" fill="#c3ff00"/><rect x="6.000" y="2.028" width="1.250" height="1.264" fill="#b2ff00"/><rect x="7.000" y="2.028" width="1.250" height="1.264" fill="#9fff00"/><rect x="8.000" y="2.028" width="1.250" height="1.264" fill="#8aff00"/><rect x="9.000" y="2.028" width="1.250" height="1.264" fill="#73ff00"/><rect x="10.000" y="2.028" width="1.250" height="1.264" fill="#5aff00"/><rect x="11.000" y="2.028" width="1.250" height="1.264" fill="#41ff00"/><rect x="12.000" y="2.028" width="1.250" height="1.264" fill="#26ff00"/><rect x="13.000" y="2.028" width="1.250" height="1.264" fill="#0aff00"/><rect x="14.000" y="2.028" width="1.250" height="1.264" fill="#00ff12"/><rect x="15.000" y="2.028" width="1.250" height="1.264" fill="#00ff2d"/><rect x="16.000" y="2.028" width="1.250" height="1.264" fill="#00ff49"/><rect x="17.000" y="2.028" width="1.250" height="1.264" fill="#00ff63"/><rect x="18.000" y="2.028" width="1.250" height="1.264" fill="#00ff7b"/><rect x="19.000" y="2.028" width="1.250" height="1.264" fill="#00ff91"/><rect x="20.000" y="2.028" width="2.250" height="1.264" fill="#00ffa3"/><rect x="22.000" y="2.028" width="1.250" height="1.264" fill="#00ff91"/><rect x="23.000" y="2.028" width="1.250" height="1.264" fill="#00ff7b"/><rect x="24.000" y="2.028" width="1.250" height="1.264" fill="#00ff63"/><rect x="25.000" y="2.028" width="1.250" height="1.264" fill="#00ff49"/><rect x="26.000" y="2.028" width="1.250" height="1.264" fill="#00ff2d"/><rect x="27.000" y="2.028" width="1.250" height="1.264" fill="#00ff12"/><rect x="28.000" y="2.028" width="1.250" height="1.264" fill="#0aff00"/><rect x="29.000" y="2.028" width="1.250" height="1.264" fill="#26ff00"/><rect x="30.000" y="2.028" width="1.250" height="1.264" fill="#41ff00"/><rect x="31.000" y="2.028" width="1.250" height="1.264" fill="#5aff00"/><rect x="32.000" y="2.028" width="1.250" height="1.264" fill="#73ff00"/><rect x="33.000" y="2.028" width="1.250" height="1.264" fill="#8aff00"/><rect x="34.000" y="2.028" width="1.250" height="1.264" fill="#9fff00"/><rect x="35.000" y="2.028" width="1.250" height="1.264" fill="#b2ff00"/><rect x="36.000" y="2.028" width="1.250" height="1.264" fill="#c3ff00"/><rect x="37.000" y="2.028" width="1.250" height="1.264" fill="#d1ff00"/><rect x="38.000" y="2.028" width="1.250" height="1.264" fill="#dcff00"/><rect x="39.000" y="2.028" width="1.250" height="1.264" fill="#e5ff00"/><rect x="40.000" y="2.028" width="1.250" height="1.264" fill="#ebff00"/><rect x="41.000" y="2.028" width="1.250" height="1.264" fill="#eeff00"/><rect x="0.000" y="3.041" width="1.250" height="1.264" fill="#b9ff00"/><rect x="1.000" y="3.041" width="1.250" height="1.264" fill="#b6ff00"/><rect x="2.000" y="3.041" width="1.250" height="1.264" fill="#b1ff00"/><rect x="3.000" y="3.041" width="1.250" height="1.264" fill="#a9ff00"/><rect x="4.000" y="3.041" width="1.250" height="1.264" fill="#9eff00"/><rect x="5.000" y="3.041" width="1.250" height="1.264" fill="#91ff00"/><rect x="6.000" y="3.041" width="1.250" height="1.264" fill="#81ff00"/><rect x="7.000" y="3.041" width="1.250" height="1.264" fill="#70ff00"/><rect x="8.000" y="3.041" width="1.250" height="1.264" fill="#5cff00"/><rect x="9.000" y="3.041" width="1.250" height="1.264" fill="#47ff00"/><rect x="10.000" y="3.041" width="1.250" height="1.264" fill="#30ff00"/><rect x="11.000" y="3.041" width="1.250" height="1.264" fill="#18ff00"/><rect x="12.000" y="3.041" width="1.250" height="1.264" fill="#00ff01"/><rect x="13.000" y="3.041" width="1.250" height="1.264" fill="#00ff1a"/><rect x="14.000" y="3.041" width="1.250" height="1.264" fill="#00ff34"/><rect x="15.000" y="3.041" width="1.250" height="1.264" fill="#00ff4e"/><rect x="16.000" y="3.041" width="1.250" height="1.264" fill="#00ff67"/><rect x="17.000" y="3.041" width="1.250" height="1.264" fill="#00ff80"/><rect x="18.000" y="3.041" width="1.250" height="1.264" fill="#00ff97"/><rect x="19.000" y="3.041" width="1.250" height="1.264" fill="#00ffab"/><rect x="20.000" y="3.041" width="2.250" height="1.264" fill="#00ffbc"/><rect x="22.000" y="3.041" width="1.250" height="1.264" fill="#00ffab"/><rect x="23.000" y="3.041" width="1.250" height="1.264" fill="#00ff97"/><rect x="24.000" y="3.041" width="1.250" height="1.264" fill="#00ff80"/><rect x="25.000" y="3.041" width="1.250" height="1.264" fill="#00ff67"/><rect x="26.000" y="3.041" width="1.250" height="1.264" fill="#00ff4e"/><rect x="27.000" y="3.041" width="1.250" height="1.264" fill="#00ff34"/><rect x="28.000" y="3.041" width="1.250" height="1.264" fill="#00ff1a"/><rect x="29.000" y="3.041" width="1.250" height="1.264" fill="#00ff01"/><rect x="30.000" y="3.041" width="1.250" height="1.264" fill="#18ff00"/><rect x="31.000" y="3.041" width="1.250" height="1.264" fill="#30ff00"/><rect x="32.000" y="3.041" width="1.250" height="1.264" fill="#47ff00"/><rect x="33.000" y="3.041" width="1.250" height="1.264" fill="#5cff00"/><rect x="34.000" y="3.041" width="1.250" height="1.264" fill="#70ff00"/><rect x="35.000" y="3.041" width="1.250" height="1.264" fill="#81ff00"/><rect x="36.000" y="3.041" width="1.250" height="1.264" fill="#91ff00"/><rect x="37.000" y="3.041" width="1.250" height="1.264" fill="#9eff00"/><rect x="38.000" y="3.041" width="1.250" height="1.264" fill="#a9ff00"/><rect x="39.000" y="3.041" width="1.250" height="1.264" fill="#b1ff00"/><rect x="40.000" y="3.041" width="1.250" height="1.264" fill="#b6ff00"/><rect x="41.000" y="3.041" width="1.250" height="1.264" fill="#b9ff00"/><rect x="0.000" y="4.055" width="1.250" height="1.264" fill="#77ff00"/><rect x="1.000" y="4.055" width="1.250" height="1.264" fill="#74ff00"/><rect x="2.000" y="4.055" width="1.250" height="1.264" fill="#6fff00"/><rect x="3.000" y="4.055" width="1.250" height="1.264" fill="#68ff00"/><rect x="4.000" y="4.055" width="1.250" height="1.264" fill="#5eff00"/><rect x="5.000" y="4.055" width="1.250" height="1.264" fill="#52ff00"/><rect x="6.000" y="4.055" width="1.250" height="1.264" fill="#44ff00"/><rect x="7.000" y="4.055" width="1.250" height="1.264" fill="#34ff00"/><rect x="8.000" y="4.055" width="1.250" height="1.264" fill="#23ff00"/><rect x="9.000" y="4.055" width="1.250" height="1.264" fill="#0fff00"/><rect x="10.000" y="4.055" width="1.250" height="1.264" fill="#00ff05"/><rect x="11.000" y="4.055" width="1.250" height="1.264" fill="#00ff1b"/><rect x="12.000" y="4.055" width="1.250" height="1.264" fill="#00ff31"/><rect x="13.000" y="4.055" width="1.250" height="1.264" fill="#00ff49"/><rect x="14.000" y="4.055" width="1.250" height="1.264" fill="#00ff60"/><rect x="15.000" y="4.055" width="1.250" height="1.264" fill="#00ff77"/><rect x="16.000" y="4.055" width="1.250" height="1.264" fill="#00ff8e"/><rect x="17.000" y="4.055" width="1.250" height="1.264" fill="#00ffa4"/><rect x="18.000" y="4.055" width="1.250" height="1.264" fill="#00ffb9"/><rect x="19.000" y="4.055" width="1.250" height="1.264" fill="#00ffcb"/><rect x="20.000" y="4.055" width="2.250" height="1.264" fill="#00ffdb"/><rect x="22.000" y="4.055" width="1.250" height="1.264" fill="#00ffcb"/><rect x="23.000" y="4.055" width="1.250" height="1.264" fill="#00ffb9"/><rect x="24.000" y="4.055" width="1.250" height="1.264" fill="#00ffa4"/><rect x="25.000" y="4.055" width="1.250" height="1.264" fill="#00ff8e"/><rect x="26.000" y="4.055" width="1.250" height="1.264" fill="#00ff77"/><rect x="27.000" y="4.055" width="1.250" height="1.264" fill="#00ff60"/><rect x="28.000" y="4.055" width="1.250" height="1.264" fill="#00ff49"/><rect x="29.000" y="4.055" width="1.250" height="1.264" fill="#00ff31"/><rect x="30.000" y="4.055" width="1.250" height="1.264" fill="#00ff1b"/><rect x="31.000" y="4.055" width="1.250" height="1.264" fill="#00ff05"/><rect x="32.000" y="4.055" width="1.250" height="1.264" fill="#0fff00"/><rect x="33.000" y="4.055" width="1.250" height="1.264" fill="#23ff00"/><rect x="34.000" y="4.055" width="1.250" height="1.264" fill="#34ff00"/><rect x="35.000" y="4.055" width="1.250" height="1.264" fill="#44ff00"/><rect x="36.000" y="4.055" width="1.250" height="1.264" fill="#52ff00"/><rect x="37.000" y="4.055" width="1.250" height="1.264" fill="#5eff00"/><rect x="38.000" y="4.055" width="1.250" height="1.264" fill="#68ff00"/><rect x="39.000" y="4.055" width="1.250" height="1.264" fill="#6fff00"/><rect x="40.000" y="4.055" width="1.250" height="1.264" fill="#74ff00"/><rect x="41.000" y="4.055" width="1.250" height="1.264" fill="#77ff00"/><rect x="0.000" y="5.069" width="1.250" height="1.264" fill="#2aff00"/><rect x="1.000" y="5.069" width="1.250" height="1.264" fill="#28ff00"/><rect x="2.000" y="5.069" width="1.250" height="1.264" fill="#23ff00"/><rect x="3.000" y="5.069" width="1.250" height="1.264" fill="#1dff00"/><rect x="4.000" y="5.069" width="1.250" height="1.264" fill="#14ff00"/><rect x="5.000" y="5.069" width="1.250" height="1.264" fill="#0aff00"/><rect x="6.000" y="5.069" width="1.250" height="1.264" fill="#00ff02"/><rect x="7.000" y="5.069" width="1.250" height="1.264" fill="#00ff10"/><rect x="8.000" y="5.069" width="1.250" height="1.264" fill="#00ff20"/><rect x="9.000" y="5.069" width="1.250" height="1.264" fill="#00ff31"/><rect x="10.000" y="5.069" width="1.250" height="1.264" fill="#00ff43"/><rect x="11.000" y="5.069" width="1.250" height="1.264" fill="#00ff56"/><rect x="12.000" y="5.069" width="1.250" height="1.264" fill="#00ff6a"/><rect x="13.000" y="5.069" width="1.250" height="1.264" fill="#00ff7e"/><rect x="14.000" y="5.069" width="1.250" height="1.264" fill="#00ff93"/><rect x="15.000" y="5.069" width="1.250" height="1.264" fill="#00ffa7"/><rect x="16.000" y="5.069" width="1.250" height="1.264" fill="#00ffbb"/><rect x="17.000" y="5.069" width="1.250" height="1.264" fill="#00ffcf"/><rect x="18.000" y="5.069" width="1.250" height="1.264" fill="#00ffe1"/><rect x="19.000" y="5.069" width="1.250" height="1.264" fill="#00fff1"/><rect x="20.000" y="5.069" width="2.250" height="1.264" fill="#00fffe"/><rect x="22.000" y="5.069" width="1.250" height="1.264" fill="#00fff1"/><rect x="23.000" y="5.069" width="1.250" height="1.264" fill="#00ffe1"/><rect x="24.000" y="5.069" width="1.250" height="1.264" fill="#00ffcf"/><rect x="25.000" y="5.069" width="1.250" height="1.264" fill="#00ffbb"/><rect x="26.000" y="5.069" width="1.250" height="1.264" fill="#00ffa7"/><rect x="27.000" y="5.069" width="1.250" height="1.264" fill="#00ff93"/><rect x="28.000" y="5.069" width="1.250" height="1.264" fill="#00ff7e"/><rect x="29.000" y="5.069" width="1.250" height="1.264" fill="#00ff6a"/><rect x="30.000" y="5.069" width="1.250" height="1.264" fill="#00ff56"/><rect x="31.000" y="5.069" width="1.250" height="1.264" fill="#00ff43"/><rect x="32.000" y="5.069" width="1.250" height="1.264" fill="#00ff31"/><rect x="33.000" y="5.069" width="1.250" height="1.264" fill="#00ff20"/><rect x="34.000" y="5.069" width="1.250" height="1.264" fill="#00ff10"/><rect x="35.000" y="5.069" width="1.250" height="1.264" fill="#00ff02"/><rect x="36.000" y="5.069" width="1.250" height="1.264" fill="#0aff00"/><rect x="37.000" y="5.069" width="1.250" height="1.264" fill="#14ff00"/><rect x="38.000" y="5.069" width="1.250" height="1.264" fill="#1dff00"/><rect x="39.000" y="5.069" width="1.250" height="1.264" fill="#23ff00"/><rect x="40.000" y="5.069" width="1.250" height="1.264" fill="#28ff00"/><rect x="41.000" y="5.069" width="1.250" height="1.264" fill="#2aff00"/><rect x="0.000" y="6.083" width="1.250" height="1.264" fill="#00ff2a"/><rect x="1.000" y="6.083" width="1.250" height="1.264" fill="#00ff2c"/><rect x="2.000" y="6.083" width="1.250" height="1.264" fill="#00ff30"/><rect x="3.000" y="6.083" width="1.250" height="1.264" fill="#00ff35"/><rect x="4.000" y="6.083" width="1.250" height="1.264" fill="#00ff3c"/><rect x="5.000" y="6.083" width="1.250" height="1.264" fill="#00ff45"/><rect x="6.000" y="6.083" width="1.250" height="1.264" fill="#00ff50"/><rect x="7.000" y="6.083" width="1.250" height="1.264" fill="#00ff5b"/><rect x="8.000" y="6.083" width="1.250" height="1.264" fill="#00ff69"/><rect x="9.000" y="6.083" width="1.250" height="1.264" fill="#00ff77"/><rect x="10.000" y="6.083" width="1.250" height="1.264" fill="#00ff86"/><rect x="11.000" y="6.083" width="1.250" height="1.264" fill="#00ff97"/><rect x="12.000" y="6.083" width="1.250" height="1.264" fill="#00ffa7"/><rect x="13.000" y="6.083" width="1.250" height="1.264" fill="#00ffb9"/><rect x="14.000" y="6.083" width="1.250" height="1.264" fill="#00ffca"/><rect x="15.000" y="6.083" width="1.250" height="1.264" fill="#00ffdb"/><rect x="16.000" y="6.083" width="1.250" height="1.264" fill="#00ffec"/><rect x="17.000" y="6.083" width="1.250" height="1.264" fill="#00fffd"/><rect x="18.000" y="6.083" width="1.250" height="1.264" fill="#00f2ff"/><rect x="19.000" y="6.083" width="1.250" height="1.264" fill="#00e4ff"/><rect x="20.000" y="6.083" width="2.250" height="1.264" fill="#00d9ff"/><rect x="22.000" y="6.083" width="1.250" height="1.264" fill="#00e4ff"/><rect x="23.000" y="6.083" width="1.250" height="1.264" fill="#00f2ff"/><rect x="24.000" y="6.083" width="1.250" height="1.264" fill="#00fffd"/><rect x="25.000" y="6.083" width="1.250" height="1.264" fill="#00ffec"/><rect x="26.000" y="6.083" width="1.250" height="1.264" fill="#00ffdb"/><rect x="27.000" y="6.083" width="1.250" height="1.264" fill="#00ffca"/><rect x="28.000" y="6.083" width="1.250" height="1.264" fill="#00ffb9"/><rect x="29.000" y="6.083" width="1.250" height="1.264" fill="#00ffa7"/><rect x="30.000" y="6.083" width="1.250" height="1.264" fill="#00ff97"/><rect x="31.000" y="6.083" width="1.250" height="1.264" fill="#00ff86"/><rect x="32.000" y="6.083" width="1.250" height="1.264" fill="#00ff77"/><rect x="33.000" y="6.083" width="1.250" height="1.264" fill="#00ff69"/><rect x="34.000" y="6.083" width="1.250" height="1.264" fill="#00ff5b"/><rect x="35.000" y="6.083" width="1.250" height="1.264" fill="#00ff50"/><rect x="36.000" y="6.083" width="1.250" height="1.264" fill="#00ff45"/><rect x="37.000" y="6.083" width="1.250" height="1.264" fill="#00ff3c"/><rect x="38.000" y="6.083" width="1.250" height="1.264" fill="#00ff35"/><rect x="39.000" y="6.083" width="1.250" height="1.264" fill="#00ff30"/><rect x="40.000" y="6.083" width="1.250" height="1.264" fill="#00ff2c"/><rect x="41.000" y="6.083" width="1.250" height="1.264" fill="#00ff2a"/><rect x="0.000" y="7.097" width="1.250" height="1.264" fill="#00ff81"/><rect x="1.000" y="7.097" width="1.250" height="1.264" fill="#00ff83"/><rect x="2.000" y="7.097" width="1.250" height="1.264" fill="#00ff86"/><rect x="3.000" y="7.097" width="1.250" height="1.264" fill="#00ff8a"/><rect x="4.000" y="7.097" width="1.250" height="1.264" fill="#00ff90"/><rect x="5.000" y="7.097" width="1.250" height="1.264" fill="#00ff97"/><rect x="6.000" y="7.097" width="1.250" height="1.264" fill="#00ffa0"/><rect x="7.000" y="7.097" width="1.250" height="1.264" fill="#00ffa9"/><rect x="8.000" y="7.097" width="1.250" height="1.264" fill="#00ffb4"/><rect x="9.000" y="7.097" width="1.250" height="1.264" fill="#00ffc0"/><rect x="10.000" y="7.097" width="1.250" height="1.264" fill="#00ffcc"/><rect x="11.000" y="7.097" width="1.250" height="1.264" fill="#00ffd9"/><rect x="12.000" y="7.097" width="1.250" height="1.264" fill="#00ffe7"/><rect x="13.000" y="7.097" width="1.250" height="1.264" fill="#00fff5"/><rect x="14.000" y="7.097" width="1.250" height="1.264" fill="#00fbff"/><rect x="15.000" y="7.097" width="1.250" height="1.264" fill="#00edff"/><rect x="16.000" y="7.097" width="1.250" height="1.264" fill="#00dfff"/><rect x="17.000" y="7.097" width="1.250" height="1.264" fill="#00d1ff"/><rect x="18.000" y="7.097" width="1.250" height="1.264" fill="#00c5ff"/><rect x="19.000" y="7.097" width="1.250" height="1.264" fill="#00baff"/><rect x="20.000" y="7.097" width="2.250" height="1.264" fill="#00b1ff"/><rect x="22.000" y="7.097" width="1.250" height="1.264" fill="#00baff"/><rect x="23.000" y="7.097" width="1.250" height="1.264" fill="#00c5ff"/><rect x="24.000" y="7.097" width="1.250" height="1.264" fill="#00d1ff"/><rect x="25.000" y="7.097" width="1.250" height="1.264" fill="#00dfff"/><rect x="26.000" y="7.097" width="1.250" height="1.264" fill="#00edff"/><rect x="27.000" y="7.097" width="1.250" height="1.264" fill="#00fbff"/><rect x="28.000" y="7.097" width="1.250" height="1.264" fill="#00fff5"/><rect x="29.000" y="7.097" width="1.250" height="1.264" fill="#00ffe7"/><rect x="30.000" y="7.097" width="1.250" height="1.264" fill="#00ffd9"/><rect x="31.000" y="7.097" width="1.250" height="1.264" fill="#00ffcc"/><rect x="32.000" y="7.097" width="1.250" height="1.264" fill="#00ffc0"/><rect x="33.000" y="7.097" width="1.250" height="1.264" fill="#00ffb4"/><rect x="34.000" y="7.097" width="1.250" height="1.264" fill="#00ffa9"/><rect x="35.000" y="7.097" width="1.250" height="1.264" fill="#00ffa0"/><rect x="36.000" y="7.097" width="1.250" height="1.264" fill="#00ff97"/><rect x="37.000" y="7.097" width="1.250" height="1.264" fill="#00ff90"/><rect x="38.000" y="7.097" width="1.250" height="1.264" fill="#00ff8a"/><rect x="39.000" y="7.097" width="1.250" height="1.264" fill="#00ff86"/><rect x="40.000" y="7.097" width="1.250" height="1.264" fill="#00ff83"/><rect x="41.000" y="7.097" width="1.250" height="1.264" fill="#00ff81"/><rect x="0.000" y="8.110" width="1.250" height="1.264" fill="#00ffd7"/><rect x="1.000" y="8.110" width="1.250" height="1.264" fill="#00ffd8"/><rect x="2.000" y="8.110" width="1.250" height="1.264" fill="#00ffdb"/><rect x="3.000" y="8.110" width="1.250" height="1.264" fill="#00ffde"/><rect x="4.000" y="8.110" width="1.250" height="1.264" fill="#00ffe3"/><rect x="5.000" y="8.110" width="1.250" height="1.264" fill="#00ffe8"/><rect x="6.000" y="8.110" width="1.250" height="1.264" fill="#00ffef"/><rect x="7.000" y="8.110" width="1.250" height="1.264" fill="#00fff6"/><rect x="8.000" y="8.110" width="1.250" height="1.264" fill="#00fffe"/><rect x="9.000" y="8.110" width="1.250" height="1.264" fill="#00f7ff"/><rect x="10.000" y="8.110" width="1.250" height="1.264" fill="#00edff"/><rect x="11.000" y="8.110" width="1.250" height="1.264" fill="#00e3ff"/><rect x="12.000" y="8.110" width="1.250" height="1.264" fill="#00d8ff"/><rect x="13.000" y="8.110" width="1.250" height="1.264" fill="#00cdff"/><rect x="14.000" y="8.110" width="1.250" height="1.264" fill="#00c2ff"/><rect x="15.000" y="8.110" width="1.250" height="1.264" fill="#00b7ff"/><rect x="16.000" y="8.110" width="1.250" height="1.264" fill="#00adff"/><rect x="17.000" y="8.110" width="1.250" height="1.264" fill="#00a2ff"/><rect x="18.000" y="8.110" width="1.250" height="1.264" fill="#0099ff"/><rect x="19.000" y="8.110" width="1.250" height="1.264" fill="#0090ff"/><rect x="20.000" y="8.110" width="2.250" height="1.264" fill="#0089ff"/><rect x="22.000" y="8.110" width="1.250" height="1.264" fill="#0090ff"/><rect x="23.000" y="8.110" width="1.250" height="1.264" fill="#0099ff"/><rect x="24.000" y="8.110" width="1.250" height="1.264" fill="#00a2ff"/><rect x="25.000" y="8.110" width="1.250" height="1.264" fill="#00adff"/><rect x="26.000" y="8.110" width="1.250" height="1.264" fill="#00b7ff"/><rect x="27.000" y="8.110" width="1.250" height="1.264" fill="#00c2ff"/><rect x="28.000" y="8.110" width="1.250" height="1.264" fill="#00cdff"/><rect x="29.000" y="8.110" width="1.250" height="1.264" fill="#00d8ff"/><rect x="30.000" y="8.110" width="1.250" height="1.264" fill="#00e3ff"/><rect x="31.000" y="8.110" width="1.250" height="1.264" fill="#00edff"/><rect x="32.000" y="8.110" width="1.250" height="1.264" fill="#00f7ff"/><rect x="33.000" y="8.110" width="1.250" height="1.264" fill="#00fffe"/><rect x="34.000" y="8.110" width="1.250" height="1.264" fill="#00fff6"/><rect x="35.000" y="8.110" width="1.250" height="1.264" fill="#00ffef"/><rect x="36.000" y="8.110" width="1.250" height="1.264" fill="#00ffe8"/><rect x="37.000" y="8.110" width="1.250" height="1.264" fill="#00ffe3"/><rect x="38.000" y="8.110" width="1.250" height="1.264" fill="#00ffde"/><rect x="39.000" y="8.110" width="1.250" height="1.264" fill="#00ffdb"/><rect x="40.000" y="8.110" width="1.250" height="1.264" fill="#00ffd8"/><rect x="41.000" y="8.110" width="1.250" height="1.264" fill="#00ffd7"/><rect x="0.000" y="9.124" width="1.250" height="1.264" fill="#00d6ff"/><rect x="1.000" y="9.124" width="1.250" height="1.264" fill="#00d5ff"/><rect x="2.000" y="9.124" width="1.250" height="1.264" fill="#00d4ff"/><rect x="3.000" y="9.124" width="1.250" height="1.264" fill="#00d1ff"/><rect x="4.000" y="9.124" width="1.250" height="1.264" fill="#00ceff"/><rect x="5.000" y="9.124" width="1.250" height="1.264" fill="#00caff"/><rect x="6.000" y="9.124" width="1.250" height="1.264" fill="#00c5ff"/><rect x="7.000" y="9.124" width="1.250" height="1.264" fill="#00c0ff"/><rect x="8.000" y="9.124" width="1.250" height="1.264" fill="#00b9ff"/><rect x="9.000" y="9.124" width="1.250" height="1.264" fill="#00b3ff"/><rect x="10.000" y="9.124" width="1.250" height="1.264" fill="#00acff"/><rect x="11.000" y="9.124" width="1.250" height="1.264" fill="#00a4ff"/><rect x="12.000" y="9.124" width="1.250" height="1.264" fill="#009dff"/><rect x="13.000" y="9.124" width="1.250" height="1.264" fill="#0095ff"/><rect x="14.000" y="9.124" width="1.250" height="1.264" fill="#008dff"/><rect x="15.000" y="9.124" width="1.250" height="1.264" fill="#0085ff"/><rect x="16.000" y="9.124" width="1.250" height="1.264" fill="#007dff"/><rect x="17.000" y="9.124" width="1.250" height="1.264" fill="#0076ff"/><rect x="18.000" y="9.124" width="1.250" height="1.264" fill="#006fff"/><rect x="19.000" y="9.124" width="1.250" height="1.264" fill="#0068ff"/><rect x="20.000" y="9.124" width="2.250" height="1.264" fill="#0063ff"/><rect x="22.000" y="9.124" width="1.250" height="1.264" fill="#0068ff"/><rect x="23.000" y="9.124" width="1.250" height="1.264" fill="#006fff"/><rect x="24.000" y="9.124" width="1.250" height="1.264" fill="#0076ff"/><rect x="25.000" y="9.124" width="1.250" height="1.264" fill="#007dff"/><rect x="26.000" y="9.124" width="1.250" height="1.264" fill="#0085ff"/><rect x="27.000" y="9.124" width="1.250" height="1.264" fill="#008dff"/><rect x="28.000" y="9.124" width="1.250" height="1.264" fill="#0095ff"/><rect x="29.000" y="9.124" width="1.250" height="1.264" fill="#009dff"/><rect x="30.000" y="9.124" width="1.250" height="1.264" fill="#00a4ff"/><rect x="31.000" y="9.124" width="1.250" height="1.264" fill="#00acff"/><rect x="32.000" y="9.124" width="1.250" height="1.264" fill="#00b3ff"/><rect x="33.000" y="9.124" width="1.250" height="1.264" fill="#00b9ff"/><rect x="34.000" y="9.124" width="1.250" height="1.264" fill="#00c0ff"/><rect x="35.000" y="9.124" width="1.250" height="1.264" fill="#00c5ff"/><rect x="36.000" y="9.124" width="1.250" height="1.264" fill="#00caff"/><rect x="37.000" y="9.124" width="1.250" height="1.264" fill="#00ceff"/><rect x="38.000" y="9.124" width="1.250" height="1.264" fill="#00d1ff"/><rect x="39.000" y="9.124" width="1.250" height="1.264" fill="#00d4ff"/><rect x="40.000" y="9.124" width="1.250" height="1.264" fill="#00d5ff"/><rect x="41.000" y="9.124" width="1.250" height="1.264" fill="#00d6ff"/><rect x="0.000" y="10.138" width="1.250" height="1.264" fill="#008eff"/><rect x="1.000" y="10.138" width="1.250" height="1.264" fill="#008dff"/><rect x="2.000" y="10.138" width="1.250" height="1.264" fill="#008cff"/><rect x="3.000" y="10.138" width="1.250" height="1.264" fill="#008bff"/><rect x="4.000" y="10.138" width="1.250" height="1.264" fill="#0088ff"/><rect x="5.000" y="10.138" width="1.250" height="1.264" fill="#0086ff"/><rect x="6.000" y="10.138" width="1.250" height="1.264" fill="#0083ff"/><rect x="7.000" y="10.138" width="1.250" height="1.264" fill="#007fff"/><rect x="8.000" y="10.138" width="1.250" height="1.264" fill="#007bff"/><rect x="9.000" y="10.138" width="1.250" height="1.264" fill="#0077ff"/><rect x="10.000" y="10.138" width="1.250" height="1.264" fill="#0072ff"/><rect x="11.000" y="10.138" width="1.250" height="1.264" fill="#006dff"/><rect x="12.000" y="10.138" width="1.250" height="1.264" fill="#0068ff"/><rect x="13.000" y="10.138" width="1.250" height="1.264" fill="#0063ff"/><rect x="14.000" y="10.138" width="1.250" height="1.264" fill="#005dff"/><rect x="15.000" y="10.138" width="1.250" height="1.264" fill="#0058ff"/><rect x="16.000" y="10.138" width="1.250" height="1.264" fill="#0053ff"/><rect x="17.000" y="10.138" width="1.250" height="1.264" fill="#004eff"/><rect x="18.000" y="10.138" width="1.250" height="1.264" fill="#0049ff"/><rect x="19.000" y="10.138" width="1.250" height="1.264" fill="#0045ff"/><rect x="20.000" y="10.138" width="2.250" height="1.264" fill="#0042ff"/><rect x="22.000" y="10.138" width="1.250" height="1.264" fill="#0045ff"/><rect x="23.000" y="10.138" width="1.250" height="1.264" fill="#0049ff"/><rect x="24.000" y="10.138" width="1.250" height="1.264" fill="#004eff"/><rect x="25.000" y="10.138" width="1.250" height="1.264" fill="#0053ff"/><rect x="26.000" y="10.138" width="1.250" height="1.264" fill="#0058ff"/><rect x="27.000" y="10.138" width="1.250" height="1.264" fill="#005dff"/><rect x="28.000" y="10.138" width="1.250" height="1.264" fill="#0063ff"/><rect x="29.000" y="10.138" width="1.250" height="1.264" fill="#0068ff"/><rect x="30.000" y="10.138" width="1.250" height="1.264" fill="#006dff"/><rect x="31.000" y="10.138" width="1.250" height="1.264" fill="#0072ff"/><rect x="32.000" y="10.138" width="1.250" height="1.264" fill="#0077ff"/><rect x="33.000" y="10.138" width="1.250" height="1.264" fill="#007bff"/><rect x="34.000" y="10.138" width="1.250" height="1.264" fill="#007fff"/><rect x="35.000" y="10.138" width="1.250" height="1.264" fill="#0083ff"/><rect x="36.000" y="10.138" width="1.250" height="1.264" fill="#0086ff"/><rect x="37.000" y="10.138" width="1.250" height="1.264" fill="#0088ff"/><rect x="38.000" y="10.138" width="1.250" height="1.264" fill="#008bff"/><rect x="39.000" y="10.138" width="1.250" height="1.264" fill="#008cff"/><rect x="40.000" y="10.138" width="1.250" height="1.264" fill="#008dff"/><rect x="41.000" y="10.138" width="1.250" height="1.264" fill="#008eff"/><rect x="0.000" y="11.152" width="2.250" height="1.264" fill="#0052ff"/><rect x="2.000" y="11.152" width="1.250" height="1.264" fill="#0051ff"/><rect x="3.000" y="11.152" width="1.250" height="1.264" fill="#0050ff"/><rect x="4.000" y="11.152" width="1.250" height="1.264" fill="#004fff"/><rect x="5.000" y="11.152" width="1.250" height="1.264" fill="#004dff"/><rect x="6.000" y="11.152" width="1.250" height="1.264" fill="#004cff"/><rect x="7.000" y="11.152" width="1.250" height="1.264" fill="#0049ff"/><rect x="8.000" y="11.152" width="1.250" height="1.264" fill="#0047ff"/><rect x="9.000" y="11.152" width="1.250" height="1.264" fill="#0045ff"/><rect x="10.000" y="11.152" width="1.250" height="1.264" fill="#0042ff"/><rect x="11.000" y="11.152" width="1.250" height="1.264" fill="#003fff"/><rect x="12.000" y="11.152" width="1.250" height="1.264" fill="#003cff"/><rect x="13.000" y="11.152" width="1.250" height="1.264" fill="#0039ff"/><rect x="14.000" y="11.152" width="1.250" height="1.264" fill="#0036ff"/><rect x="15.000" y="11.152" width="1.250" height="1.264" fill="#0033ff"/><rect x="16.000" y="11.152" width="1.250" height="1.264" fill="#0030ff"/><rect x="17.000" y="11.152" width="1.250" height="1.264" fill="#002dff"/><rect x="18.000" y="11.152" width="1.250" height="1.264" fill="#002aff"/><rect x="19.000" y="11.152" width="1.250" height="1.264" fill="#0028ff"/><rect x="20.000" y="11.152" width="2.250" height="1.264" fill="#0026ff"/><rect x="22.000" y="11.152" width="1.250" height="1.264" fill="#0028ff"/><rect x="23.000" y="11.152" width="1.250" height="1.264" fill="#002aff"/><rect x="24.000" y="11.152" width="1.250" height="1.264" fill="#002dff"/><rect x="25.000" y="11.152" width="1.250" height="1.264" fill="#0030ff"/><rect x="26.000" y="11.152" width="1.250" height="1.264" fill="#0033ff"/><rect x="27.000" y="11.152" width="1.250" height="1.264" fill="#0036ff"/><rect x="28.000" y="11.152" width="1.250" height="1.264" fill="#0039ff"/><rect x="29.000" y="11.152" width="1.250" height="1.264" fill="#003cff"/><rect x="30.000" y="11.152" width="1.250" height="1.264" fill="#003fff"/><rect x="31.000" y="11.152" width="1.250" height="1.264" fill="#0042ff"/><rect x="32.000" y="11.152" width="1.250" height="1.264" fill="#0045ff"/><rect x="33.000" y="11.152" width="1.250" height="1.264" fill="#0047ff"/><rect x="34.000" y="11.152" width="1.250" height="1.264" fill="#0049ff"/><rect x="35.000" y="11.152" width="1.250" height="1.264" fill="#004cff"/><rect x="36.000" y="11.152" width="1.250" height="1.264" fill="#004dff"/><rect x="37.000" y="11.152" width="1.250" height="1.264" fill="#004fff"/><rect x="38.000" y="11.152" width="1.250" height="1.264" fill="#0050ff"/><rect x="39.000" y="11.152" width="1.250" height="1.264" fill="#0051ff"/><rect x="40.000" y="11.152" width="2.250" height="1.264" fill="#0052ff"/><rect x="0.000" y="12.166" width="3.250" height="1.264" fill="#0025ff"/><rect x="3.000" y="12.166" width="2.250" height="1.264" fill="#0024ff"/><rect x="5.000" y="12.166" width="1.250" height="1.264" fill="#0023ff"/><rect x="6.000" y="12.166" width="1.250" height="1.264" fill="#0022ff"/><rect x="7.000" y="12.166" width="1.250" height="1.264" fill="#0021ff"/><rect x="8.000" y="12.166" width="1.250" height="1.264" fill="#0020ff"/><rect x="9.000" y="12.166" width="1.250" height="1.264" fill="#001fff"/><rect x="10.000" y="12.166" width="1.250" height="1.264" fill="#001eff"/><rect x="11.000" y="12.166" width="1.250" height="1.264" fill="#001dff"/><rect x="12.000" y="12.166" width="1.250" height="1.264" fill="#001bff"/><rect x="13.000" y="12.166" width="1.250" height="1.264" fill="#001aff"/><rect x="14.000" y="12.166" width="1.250" height="1.264" fill="#0019ff"/><rect x="15.000" y="12.166" width="1.250" height="1.264" fill="#0017ff"/><rect x="16.000" y="12.166" width="1.250" height="1.264" fill="#0016ff"/><rect x="17.000" y="12.166" width="1.250" height="1.264" fill="#0014ff"/><rect x="18.000" y="12.166" width="1.250" height="1.264" fill="#0013ff"/><rect x="19.000" y="12.166" width="1.250" height="1.264" fill="#0012ff"/><rect x="20.000" y="12.166" width="2.250" height="1.264" fill="#0011ff"/><rect x="22.000" y="12.166" width="1.250" height="1.264" fill="#0012ff"/><rect x="23.000" y="12.166" width="1.250" height="1.264" fill="#0013ff"/><rect x="24.000" y="12.166" width="1.250" height="1.264" fill="#0014ff"/><rect x="25.000" y="12.166" width="1.250" height="1.264" fill="#0016ff"/><rect x="26.000" y="12.166" width="1.250" height="1.264" fill="#0017ff"/><rect x="27.000" y="12.166" width="1.250" height="1.264" fill="#0019ff"/><rect x="28.000" y="12.166" width="1.250" height="1.264" fill="#001aff"/><rect x="29.000" y="12.166" width="1.250" height="1.264" fill="#001bff"/><rect x="30.000" y="12.166" width="1.250" height="1.264" fill="#001dff"/><rect x="31.000" y="12.166" width="1.250" height="1.264" fill="#001eff"/><rect x="32.000" y="12.166" width="1.250" height="1.264" fill="#001fff"/><rect x="33.000" y="12.166" width="1.250" height="1.264" fill="#0020ff"/><rect x="34.000" y="12.166" width="1.250" height="1.264" fill="#0021ff"/><rect x="35.000" y="12.166" width="1.250" height="1.264" fill="#0022ff"/><rect x="36.000" y="12.166" width="1.250" height="1.264" fill="#0023ff"/><rect x="37.000" y="12.166" width="2.250" height="1.264" fill="#0024ff"/><rect x="39.000" y="12.166" width="3.250" height="1.264" fill="#0025ff"/><rect x="0.000" y="13.179" width="7.250" height="1.264" fill="#0009ff"/><rect x="7.000" y="13.179" width="4.250" height="1.264" fill="#0008ff"/><rect x="11.000" y="13.179" width="3.250" height="1.264" fill="#0007ff"/><rect x="14.000" y="13.179" width="3.250" height="1.264" fill="#0006ff"/><rect x="17.000" y="13.179" width="3.250" height="1.264" fill="#0005ff"/><rect x="20.000" y="13.179" width="2.250" height="1.264" fill="#0004ff"/><rect x="22.000" y="13.179" width="3.250" height="1.264" fill="#0005ff"/><rect x="25.000" y="13.179" width="3.250" height="1.264" fill="#0006ff"/><rect x="28.000" y="13.179" width="3.250" height="1.264" fill="#0007ff"/><rect x="31.000" y="13.179" width="4.250" height="1.264" fill="#0008ff"/><rect x="35.000" y="13.179" width="7.250" height="1.264" fill="#0009ff"/><rect x="0.000" y="14.193" width="42.250" height="1.264" fill="#0000ff"/><rect x="0.000" y="15.207" width="7.250" height="1.264" fill="#0009ff"/><rect x="7.000" y="15.207" width="4.250" height="1.264" fill="#0008ff"/><rect x="11.000" y="15.207" width="3.250" height="1.264" fill="#0007ff"/><rect x="14.000" y="15.207" width="3.250" height="1.264" fill="#0006ff"/><rect x="17.000" y="15.207" width="3.250" height="1.264" fill="#0005ff"/><rect x="20.000" y="15.207" width="2.250" height="1.264" fill="#0004ff"/><rect x="22.000" y="15.207" width="3.250" height="1.264" fill="#0005ff"/><rect x="25.000" y="15.207" width="3.250" height="1.264" fill="#0006ff"/><rect x="28.000" y="15.207" width="3.250" height="1.264" fill="#0007ff"/><rect x="31.000" y="15.207" width="4.250" height="1.264" fill="#0008ff"/><rect x="35.000" y="15.207" width="7.250" height="1.264" fill="#0009ff"/><rect x="0.000" y="16.221" width="3.250" height="1.264" fill="#0025ff"/><rect x="3.000" y="16.221" width="2.250" height="1.264" fill="#0024ff"/><rect x="5.000" y="16.221" width="1.250" height="1.264" fill="#0023ff"/><rect x="6.000" y="16.221" width="1.250" height="1.264" fill="#0022ff"/><rect x="7.000" y="16.221" width="1.250" height="1.264" fill="#0021ff"/><rect x="8.000" y="16.221" width="1.250" height="1.264" fill="#0020ff"/><rect x="9.000" y="16.221" width="1.250" height="1.264" fill="#001fff"/><rect x="10.000" y="16.221" width="1.250" height="1.264" fill="#001eff"/><rect x="11.000" y="16.221" width="1.250" height="1.264" fill="#001dff"/><rect x="12.000" y="16.221" width="1.250" height="1.264" fill="#001bff"/><rect x="13.000" y="16.221" width="1.250" height="1.264" fill="#001aff"/><rect x="14.000" y="16.221" width="1.250" height="1.264" fill="#0019ff"/><rect x="15.000" y="16.221" width="1.250" height="1.264" fill="#0017ff"/><rect x="16.000" y="16.221" width="1.250" height="1.264" fill="#0016ff"/><rect x="17.000" y="16.221" width="1.250" height="1.264" fill="#0014ff"/><rect x="18.000" y="16.221" width="1.250" height="1.264" fill="#0013ff"/><rect x="19.000" y="16.221" width="1.250" height="1.264" fill="#0012ff"/><rect x="20.000" y="16.221" width="2.250" height="1.264" fill="#0011ff"/><rect x="22.000" y="16.221" width="1.250" height="1.264" fill="#0012ff"/><rect x="23.000" y="16.221" width="1.250" height="1.264" fill="#0013ff"/><rect x="24.000" y="16.221" width="1.250" height="1.264" fill="#0014ff"/><rect x="25.000" y="16.221" width="1.250" height="1.264" fill="#0016ff"/><rect x="26.000" y="16.221" width="1.250" height="1.264" fill="#0017ff"/><rect x="27.000" y="16.221" width="1.250" height="1.264" fill="#0019ff"/><rect x="28.000" y="16.221" width="1.250" height="1.264" fill="#001aff"/><rect x="29.000" y="16.221" width="1.250" height="1.264" fill="#001bff"/><rect x="30.000" y="16.221" width="1.250" height="1.264" fill="#001dff"/><rect x="31.000" y="16.221" width="1.250" height="1.264" fill="#001eff"/><rect x="32.000" y="16.221" width="1.250" height="1.264" fill="#001fff"/><rect x="33.000" y="16.221" width="1.250" height="1.264" fill="#0020ff"/><rect x="34.000" y="16.221" width="1.250" height="1.264" fill="#0021ff"/><rect x="35.000" y="16.221" width="1.250" height="1.264" fill="#0022ff"/><rect x="36.000" y="16.221" width="1.250" height="1.264" fill="#0023ff"/><rect x="37.000" y="16.221" width="2.250" height="1.264" fill="#0024ff"/><rect x="39.000" y="16.221" width="3.250" height="1.264" fill="#0025ff"/><rect x="0.000" y="17.234" width="2.250" height="1.264" fill="#0052ff"/><rect x="2.000" y="17.234" width="1.250" height="1.264" fill="#0051ff"/><rect x="3.000" y="17.234" width="1.250" height="1.264" fill="#0050ff"/><rect x="4.000" y="17.234" width="1.250" height="1.264" fill="#004fff"/><rect x="5.000" y="17.234" width="1.250" height="1.264" fill="#004dff"/><rect x="6.000" y="17.234" width="1.250" height="1.264" fill="#004cff"/><rect x="7.000" y="17.234" width="1.250" height="1.264" fill="#0049ff"/><rect x="8.000" y="17.234" width="1.250" height="1.264" fill="#0047ff"/><rect x="9.000" y="17.234" width="1.250" height="1.264" fill="#0045ff"/><rect x="10.000" y="17.234" width="1.250" height="1.264" fill="#0042ff"/><rect x="11.000" y="17.234" width="1.250" height="1.264" fill="#003fff"/><rect x="12.000" y="17.234" width="1.250" height="1.264" fill="#003cff"/><rect x="13.000" y="17.234" width="1.250" height="1.264" fill="#0039ff"/><rect x="14.000" y="17.234" width="1.250" height="1.264" fill="#0036ff"/><rect x="15.000" y="17.234" width="1.250" height="1.264" fill="#0033ff"/><rect x="16.000" y="17.234" width="1.250" height="1.264" fill="#0030ff"/><rect x="17.000" y="17.234" width="1.250" height="1.264" fill="#002dff"/><rect x="18.000" y="17.234" width="1.250" height="1.264" fill="#002aff"/><rect x="19.000" y="17.234" width="1.250" height="1.264" fill="#0028ff"/><rect x="20.000" y="17.234" width="2.250" height="1.264" fill="#0026ff"/><rect x="22.000" y="17.234" width="1.250" height="1.264" fill="#0028ff"/><rect x="23.000" y="17.234" width="1.250" height="1.264" fill="#002aff"/><rect x="24.000" y="17.234" width="1.250" height="1.264" fill="#002dff"/><rect x="25.000" y="17.234" width="1.250" height="1.264" fill="#0030ff"/><rect x="26.000" y="17.234" width="1.250" height="1.264" fill="#0033ff"/><rect x="27.000" y="17.234" width="1.250" height="1.264" fill="#0036ff"/><rect x="28.000" y="17.234" width="1.250" height="1.264" fill="#0039ff"/><rect x="29.000" y="17.234" width="1.250" height="1.264" fill="#003cff"/><rect x="30.000" y="17.234" width="1.250" height="1.264" fill="#003fff"/><rect x="31.000" y="17.234" width="1.250" height="1.264" fill="#0042ff"/><rect x="32.000" y="17.234" width="1.250" height="1.264" fill="#0045ff"/><rect x="33.000" y="17.234" width="1.250" height="1.264" fill="#0047ff"/><rect x="34.000" y="17.234" width="1.250" height="1.264" fill="#0049ff"/><rect x="35.000" y="17.234" width="1.250" height="1.264" fill="#004cff"/><rect x="36.000" y="17.234" width="1.250" height="1.264" fill="#004dff"/><rect x="37.000" y="17.234" width="1.250" height="1.264" fill="#004fff"/><rect x="38.000" y="17.234" width="1.250" height="1.264" fill="#0050ff"/><rect x="39.000" y="17.234" width="1.250" height="1.264" fill="#0051ff"/><rect x="40.000" y="17.234" width="2.250" height="1.264" fill="#0052ff"/><rect x="0.000" y="18.248" width="1.250" height="1.264" fill="#008eff"/><rect x="1.000" y="18.248" width="1.250" height="1.264" fill="#008dff"/><rect x="2.000" y="18.248" width="1.250" height="1.264" fill="#008cff"/><rect x="3.000" y="18.248" width="1.250" height="1.264" fill="#008bff"/><rect x="4.000" y="18.248" width="1.250" height="1.264" fill="#0088ff"/><rect x="5.000" y="18.248" width="1.250" height="1.264" fill="#0086ff"/><rect x="6.000" y="18.248" width="1.250" height="1.264" fill="#0083ff"/><rect x="7.000" y="18.248" width="1.250" height="1.264" fill="#007fff"/><rect x="8.000" y="18.248" width="1.250" height="1.264" fill="#007bff"/><rect x="9.000" y="18.248" width="1.250" height="1.264" fill="#0077ff"/><rect x="10.000" y="18.248" width="1.250" height="1.264" fill="#0072ff"/><rect x="11.000" y="18.248" width="1.250" height="1.264" fill="#006dff"/><rect x="12.000" y="18.248" width="1.250" height="1.264" fill="#0068ff"/><rect x="13.000" y="18.248" width="1.250" height="1.264" fill="#0063ff"/><rect x="14.000" y="18.248" width="1.250" height="1.264" fill="#005dff"/><rect x="15.000" y="18.248" width="1.250" height="1.264" fill="#0058ff"/><rect x="16.000" y="18.248" width="1.250" height="1.264" fill="#0053ff"/><rect x="17.000" y="18.248" width="1.250" height="1.264" fill="#004eff"/><rect x="18.000" y="18.248" width="1.250" height="1.264" fill="#0049ff"/><rect x="19.000" y="18.248" width="1.250" height="1.264" fill="#0045ff"/><rect x="20.000" y="18.248" width="2.250" height="1.264" fill="#0042ff"/><rect x="22.000" y="18.248" width="1.250" height="1.264" fill="#0045ff"/><rect x="23.000" y="18.248" width="1.250" height="1.264" fill="#0049ff"/><rect x="24.000" y="18.248" width="1.250" height="1.264" fill="#004eff"/><rect x="25.000" y="18.248" width="1.250" height="1.264" fill="#0053ff"/><rect x="26.000" y="18.248" width="1.250" height="1.264" fill="#0058ff"/><rect x="27.000" y="18.248" width="1.250" height="1.264" fill="#005dff"/><rect x="28.000" y="18.248" width="1.250" height="1.264" fill="#0063ff"/><rect x="29.000" y="18.248" width="1.250" height="1.264" fill="#0068ff"/><rect x="30.000" y="18.248" width="1.250" height="1.264" fill="#006dff"/><rect x="31.000" y="18.248" width="1.250" height="1.264" fill="#0072ff"/><rect x="32.000" y="18.248" width="1.250" height="1.264" fill="#0077ff"/><rect x="33.000" y="18.248" width="1.250" height="1.264" fill="#007bff"/><rect x="34.000" y="18.248" width="1.250" height="1.264" fill="#007fff"/><rect x="35.000" y="18.248" width="1.250" height="1.264" fill="#0083ff"/><rect x="36.000" y="18.248" width="1.250" height="1.264" fill="#0086ff"/><rect x="37.000" y="18.248" width="1.250" height="1.264" fill="#0088ff"/><rect x="38.000" y="18.248" width="1.250" height="1.264" fill="#008bff"/><rect x="39.000" y="18.248" width="1.250" height="1.264" fill="#008cff"/><rect x="40.000" y="18.248" width="1.250" height="1.264" fill="#008dff"/><rect x="41.000" y="18.248" width="1.250" height="1.264" fill="#008eff"/><rect x="0.000" y="19.262" width="1.250" height="1.264" fill="#00d6ff"/><rect x="1.000" y="19.262" width="1.250" height="1.264" fill="#00d5ff"/><rect x="2.000" y="19.262" width="1.250" height="1.264" fill="#00d4ff"/><rect x="3.000" y="19.262" width="1.250" height="1.264" fill="#00d1ff"/><rect x="4.000" y="19.262" width="1.250" height="1.264" fill="#00ceff"/><rect x="5.000" y="19.262" width="1.250" height="1.264" fill="#00caff"/><rect x="6.000" y="19.262" width="1.250" height="1.264" fill="#00c5ff"/><rect x="7.000" y="19.262" width="1.250" height="1.264" fill="#00c0ff"/><rect x="8.000" y="19.262" width="1.250" height="1.264" fill="#00b9ff"/><rect x="9.000" y="19.262" width="1.250" height="1.264" fill="#00b3ff"/><rect x="10.000" y="19.262" width="1.250" height="1.264" fill="#00acff"/><rect x="11.000" y="19.262" width="1.250" height="1.264" fill="#00a4ff"/><rect x="12.000" y="19.262" width="1.250" height="1.264" fill="#009dff"/><rect x="13.000" y="19.262" width="1.250" height="1.264" fill="#0095ff"/><rect x="14.000" y="19.262" width="1.250" height="1.264" fill="#008dff"/><rect x="15.000" y="19.262" width="1.250" height="1.264" fill="#0085ff"/><rect x="16.000" y="19.262" width="1.250" height="1.264" fill="#007dff"/><rect x="17.000" y="19.262" width="1.250" height="1.264" fill="#0076ff"/><rect x="18.000" y="19.262" width="1.250" height="1.264" fill="#006fff"/><rect x="19.000" y="19.262" width="1.250" height="1.264" fill="#0068ff"/><rect x="20.000" y="19.262" width="2.250" height="1.264" fill="#0063ff"/><rect x="22.000" y="19.262" width="1.250" height="1.264" fill="#0068ff"/><rect x="23.000" y="19.262" width="1.250" height="1.264" fill="#006fff"/><rect x="24.000" y="19.262" width="1.250" height="1.264" fill="#0076ff"/><rect x="25.000" y="19.262" width="1.250" height="1.264" fill="#007dff"/><rect x="26.000" y="19.262" width="1.250" height="1.264" fill="#0085ff"/><rect x="27.000" y="19.262" width="1.250" height="1.264" fill="#008dff"/><rect x="28.000" y="19.262" width="1.250" height="1.264" fill="#0095ff"/><rect x="29.000" y="19.262" width="1.250" height="1.264" fill="#009dff"/><rect x="30.000" y="19.262" width="1.250" height="1.264" fill="#00a4ff"/><rect x="31.000" y="19.262" width="1.250" height="1.264" fill="#00acff"/><rect x="32.000" y="19.262" width="1.250" height="1.264" fill="#00b3ff"/><rect x="33.000" y="19.262" width="1.250" height="1.264" fill="#00b9ff"/><rect x="34.000" y="19.262" width="1.250" height="1.264" fill="#00c0ff"/><rect x="35.000" y="19.262" width="1.250" height="1.264" fill="#00c5ff"/><rect x="36.000" y="19.262" width="1.250" height="1.264" fill="#00caff"/><rect x="37.000" y="19.262" width="1.250" height="1.264" fill="#00ceff"/><rect x="38.000" y="19.262" width="1.250" height="1.264" fill="#00d1ff"/><rect x="39.000" y="19.262" width="1.250" height="1.264" fill="#00d4ff"/><rect x="40.000" y="19.262" width="1.250" height="1.264" fill="#00d5ff"/><rect x="41.000" y="19.262" width="1.250" height="1.264" fill="#00d6ff"/><rect x="0.000" y="20.276" width="1.250" height="1.264" fill="#00ffd7"/><rect x="1.000" y="20.276" width="1.250" height="1.264" fill="#00ffd8"/><rect x="2.000" y="20.276" width="1.250" height="1.264" fill="#00ffdb"/><rect x="3.000" y="20.276" width="1.250" height="1.264" fill="#00ffde"/><rect x="4.000" y="20.276" width="1.250" height="1.264" fill="#00ffe3"/><rect x="5.000" y="20.276" width="1.250" height="1.264" fill="#00ffe8"/><rect x="6.000" y="20.276" width="1.250" height="1.264" fill="#00ffef"/><rect x="7.000" y="20.276" width="1.250" height="1.264" fill="#00fff6"/><rect x="8.000" y="20.276" width="1.250" height="1.264" fill="#00fffe"/><rect x="9.000" y="20.276" width="1.250" height="1.264" fill="#00f7ff"/><rect x="10.000" y="20.276" width="1.250" height="1.264" fill="#00edff"/><rect x="11.000" y="20.276" width="1.250" height="1.264" fill="#00e3ff"/><rect x="12.000" y="20.276" width="1.250" height="1.264" fill="#00d8ff"/><rect x="13.000" y="20.276" width="1.250" height="1.264" fill="#00cdff"/><rect x="14.000" y="20.276" width="1.250" height="1.264" fill="#00c2ff"/><rect x="15.000" y="20.276" width="1.250" height="1.264" fill="#00b7ff"/><rect x="16.000" y="20.276" width="1.250" height="1.264" fill="#00adff"/><rect x="17.000" y="20.276" width="1.250" height="1.264" fill="#00a2ff"/><rect x="18.000" y="20.276" width="1.250" height="1.264" fill="#0099ff"/><rect x="19.000" y="20.276" width="1.250" height="1.264" fill="#0090ff"/><rect x="20.000" y="20.276" width="2.250" height="1.264" fill="#0089ff"/><rect x="22.000" y="20.276" width="1.250" height="1.264" fill="#0090ff"/><rect x="23.000" y="20.276" width="1.250" height="1.264" fill="#0099ff"/><rect x="24.000" y="20.276" width="1.250" height="1.264" fill="#00a2ff"/><rect x="25.000" y="20.276" width="1.250" height="1.264" fill="#00adff"/><rect x="26.000" y="20.276" width="1.250" height="1.264" fill="#00b7ff"/><rect x="27.000" y="20.276" width="1.250" height="1.264" fill="#00c2ff"/><rect x="28.000" y="20.276" width="1.250" height="1.264" fill="#00cdff"/><rect x="29.000" y="20.276" width="1.250" height="1.264" fill="#00d8ff"/><rect x="30.000" y="20.276" width="1.250" height="1.264" fill="#00e3ff"/><rect x="31.000" y="20.276" width="1.250" height="1.264" fill="#00edff"/><rect x="32.000" y="20.276" width="1.250" height="1.264" fill="#00f7ff"/><rect x="33.000" y="20.276" width="1.250" height="1.264" fill="#00fffe"/><rect x="34.000" y="20.276" width="1.250" height="1.264" fill="#00fff6"/><rect x="35.000" y="20.276" width="1.250" height="1.264" fill="#00ffef"/><rect x="36.000" y="20.276" width="1.250" height="1.264" fill="#00ffe8"/><rect x="37.000" y="20.276" width="1.250" height="1.264" fill="#00ffe3"/><rect x="38.000" y="20.276" width="1.250" height="1.264" fill="#00ffde"/><rect x="39.000" y="20.276" width="1.250" height="1.264" fill="#00ffdb"/><rect x="40.000" y="20.276" width="1.250" height="1.264" fill="#00ffd8"/><rect x="41.000" y="20.276" width="1.250" height="1.264" fill="#00ffd7"/><rect x="0.000" y="21.290" width="1.250" height="1.264" fill="#00ff81"/><rect x="1.000" y="21.290" width="1.250" height="1.264" fill="#00ff83"/><rect x="2.000" y="21.290" width="1.250" height="1.264" fill="#00ff86"/><rect x="3.000" y="21.290" width="1.250" height="1.264" fill="#00ff8a"/><rect x="4.000" y="21.290" width="1.250" height="1.264" fill="#00ff90"/><rect x="5.000" y="21.290" width="1.250" height="1.264" fill="#00ff97"/><rect x="6.000" y="21.290" width="1.250" height="1.264" fill="#00ffa0"/><rect x="7.000" y="21.290" width="1.250" height="1.264" fill="#00ffa9"/><rect x="8.000" y="21.290" width="1.250" height="1.264" fill="#00ffb4"/><rect x="9.000" y="21.290" width="1.250" height="1.264" fill="#00ffc0"/><rect x="10.000" y="21.290" width="1.250" height="1.264" fill="#00ffcc"/><rect x="11.000" y="21.290" width="1.250" height="1.264" fill="#00ffd9"/><rect x="12.000" y="21.290" width="1.250" height="1.264" fill="#00ffe7"/><rect x="13.000" y="21.290" width="1.250" height="1.264" fill="#00fff5"/><rect x="14.000" y="21.290" width="1.250" height="1.264" fill="#00fbff"/><rect x="15.000" y="21.290" width="1.250" height="1.264" fill="#00edff"/><rect x="16.000" y="21.290" width="1.250" height="1.264" fill="#00dfff"/><rect x="17.000" y="21.290" width="1.250" height="1.264" fill="#00d1ff"/><rect x="18.000" y="21.290" width="1.250" height="1.264" fill="#00c5ff"/><rect x="19.000" y="21.290" width="1.250" height="1.264" fill="#00baff"/><rect x="20.000" y="21.290" width="2.250" height="1.264" fill="#00b1ff"/><rect x="22.000" y="21.290" width="1.250" height="1.264" fill="#00baff"/><rect x="23.000" y="21.290" width="1.250" height="1.264" fill="#00c5ff"/><rect x="24.000" y="21.290" width="1.250" height="1.264" fill="#00d1ff"/><rect x="25.000" y="21.290" width="1.250" height="1.264" fill="#00dfff"/><rect x="26.000" y="21.290" width="1.250" height="1.264" fill="#00edff"/><rect x="27.000" y="21.290" width="1.250" height="1.264" fill="#00fbff"/><rect x="28.000" y="21.290" width="1.250" height="1.264" fill="#00fff5"/><rect x="29.000" y="21.290" width="1.250" height="1.264" fill="#00ffe7"/><rect x="30.000" y="21.290" width="1.250" height="1.264" fill="#00ffd9"/><rect x="31.000" y="21.290" width="1.250" height="1.264" fill="#00ffcc"/><rect x="32.000" y="21.290" width="1.250" height="1.264" fill="#00ffc0"/><rect x="33.000" y="21.290" width="1.250" height="1.264" fill="#00ffb4"/><rect x="34.000" y="21.290" width="1.250" height="1.264" fill="#00ffa9"/><rect x="35.000" y="21.290" width="1.250" height="1.264" fill="#00ffa0"/><rect x="36.000" y="21.290" width="1.250" height="1.264" fill="#00ff97"/><rect x="37.000" y="21.290" width="1.250" height="1.264" fill="#00ff90"/><rect x="38.000" y="21.290" width="1.250" height="1.264" fill="#00ff8a"/><rect x="39.000" y="21.290" width="1.250" height="1.264" fill="#00ff86"/><rect x="40.000" y="21.290" width="1.250" height="1.264" fill="#00ff83"/><rect x="41.000" y="21.290" width="1.250" height="1.264" fill="#00ff81"/><rect x="0.000" y="22.303" width="1.250" height="1.264" fill="#00ff2a"/><rect x="1.000" y="22.303" width="1.250" height="1.264" fill="#00ff2c"/><rect x="2.000" y="22.303" width="1.250" height="1.264" fill="#00ff30"/><rect x="3.000" y="22.303" width="1.250" height="1.264" fill="#00ff35"/><rect x="4.000" y="22.303" width="1.250" height="1.264" fill="#00ff3c"/><rect x="5.000" y="22.303" width="1.250" height="1.264" fill="#00ff45"/><rect x="6.000" y="22.303" width="1.250" height="1.264" fill="#00ff50"/><rect x="7.000" y="22.303" width="1.250" height="1.264" fill="#00ff5b"/><rect x="8.000" y="22.303" width="1.250" height="1.264" fill="#00ff69"/><rect x="9.000" y="22.303" width="1.250" height="1.264" fill="#00ff77"/><rect x="10.000" y="22.303" width="1.250" height="1.264" fill="#00ff86"/><rect x="11.000" y="22.303" width="1.250" height="1.264" fill="#00ff97"/><rect x="12.000" y="22.303" width="1.250" height="1.264" fill="#00ffa7"/><rect x="13.000" y="22.303" width="1.250" height="1.264" fill="#00ffb9"/><rect x="14.000" y="22.303" width="1.250" height="1.264" fill="#00ffca"/><rect x="15.000" y="22.303" width="1.250" height="1.264" fill="#00ffdb"/><rect x="16.000" y="22.303" width="1.250" height="1.264" fill="#00ffec"/><rect x="17.000" y="22.303" width="1.250" height="1.264" fill="#00fffd"/><rect x="18.000" y="22.303" width="1.250" height="1.264" fill="#00f2ff"/><rect x="19.000" y="22.303" width="1.250" height="1.264" fill="#00e4ff"/><rect x="20.000" y="22.303" width="2.250" height="1.264" fill="#00d9ff"/><rect x="22.000" y="22.303" width="1.250" height="1.264" fill="#00e4ff"/><rect x="23.000" y="22.303" width="1.250" height="1.264" fill="#00f2ff"/><rect x="24.000" y="22.303" width="1.250" height="1.264" fill="#00fffd"/><rect x="25.000" y="22.303" width="1.250" height="1.264" fill="#00ffec"/><rect x="26.000" y="22.303" width="1.250" height="1.264" fill="#00ffdb"/><rect x="27.000" y="22.303" width="1.250" height="1.264" fill="#00ffca"/><rect x="28.000" y="22.303" width="1.250" height="1.264" fill="#00ffb9"/><rect x="29.000" y="22.303" width="1.250" height="1.264" fill="#00ffa7"/><rect x="30.000" y="22.303" width="1.250" height="1.264" fill="#00ff97"/><rect x="31.000" y="22.303" width="1.250" height="1.264" fill="#00ff86"/><rect x="32.000" y="22.303" width="1.250" height="1.264" fill="#00ff77"/><rect x="33.000" y="22.303" width="1.250" height="1.264" fill="#00ff69"/><rect x="34.000" y="22.303" width="1.250" height="1.264" fill="#00ff5b"/><rect x="35.000" y="22.303" width="1.250" height="1.264" fill="#00ff50"/><rect x="36.000" y="22.303" width="1.250" height="1.264" fill="#00ff45"/><rect x="37.000" y="22.303" width="1.250" height="1.264" fill="#00ff3c"/><rect x="38.000" y="22.303" width="1.250" height="1.264" fill="#00ff35"/><rect x="39.000" y="22.303" width="1.250" height="1.264" fill="#00ff30"/><rect x="40.000" y="22.303" width="1.250" height="1.264" fill="#00ff2c"/><rect x="41.000" y="22.303" width="1.250" height="1.264" fill="#00ff2a"/><rect x="0.000" y="23.317" width="1.250" height="1.264" fill="#2aff00"/><rect x="1.000" y="23.317" width="1.250" height="1.264" fill="#28ff00"/><rect x="2.000" y="23.317" width="1.250" height="1.264" fill="#23ff00"/><rect x="3.000" y="23.317" width="1.250" height="1.264" fill="#1dff00"/><rect x="4.000" y="23.317" width="1.250" height="1.264" fill="#14ff00"/><rect x="5.000" y="23.317" width="1.250" height="1.264" fill="#0aff00"/><rect x="6.000" y="23.317" width="1.250" height="1.264" fill="#00ff02"/><rect x="7.000" y="23.317" width="1.250" height="1.264" fill="#00ff10"/><rect x="8.000" y="23.317" width="1.250" height="1.264" fill="#00ff20"/><rect x="9.000" y="23.317" width="1.250" height="1.264" fill="#00ff31"/><rect x="10.000" y="23.317" width="1.250" height="1.264" fill="#00ff43"/><rect x="11.000" y="23.317" width="1.250" height="1.264" fill="#00ff56"/><rect x="12.000" y="23.317" width="1.250" height="1.264" fill="#00ff6a"/><rect x="13.000" y="23.317" width="1.250" height="1.264" fill="#00ff7e"/><rect x="14.000" y="23.317" width="1.250" height="1.264" fill="#00ff93"/><rect x="15.000" y="23.317" width="1.250" height="1.264" fill="#00ffa7"/><rect x="16.000" y="23.317" width="1.250" height="1.264" fill="#00ffbb"/><rect x="17.000" y="23.317" width="1.250" height="1.264" fill="#00ffcf"/><rect x="18.000" y="23.317" width="1.250" height="1.264" fill="#00ffe1"/><rect x="19.000" y="23.317" width="1.250" height="1.264" fill="#00fff1"/><rect x="20.000" y="23.317" width="2.250" height="1.264" fill="#00fffe"/><rect x="22.000" y="23.317" width="1.250" height="1.264" fill="#00fff1"/><rect x="23.000" y="23.317" width="1.250" height="1.264" fill="#00ffe1"/><rect x="24.000" y="23.317" width="1.250" height="1.264" fill="#00ffcf"/><rect x="25.000" y="23.317" width="1.250" height="1.264" fill="#00ffbb"/><rect x="26.000" y="23.317" width="1.250" height="1.264" fill="#00ffa7"/><rect x="27.000" y="23.317" width="1.250" height="1.264" fill="#00ff93"/><rect x="28.000" y="23.317" width="1.250" height="1.264" fill="#00ff7e"/><rect x="29.000" y="23.317" width="1.250" height="1.264" fill="#00ff6a"/><rect x="30.000" y="23.317" width="1.250" height="1.264" fill="#00ff56"/><rect x="31.000" y="23.317" width="1.250" height="1.264" fill="#00ff43"/><rect x="32.000" y="23.317" width="1.250" height="1.264" fill="#00ff31"/><rect x="33.000" y="23.317" width="1.250" height="1.264" fill="#00ff20"/><rect x="34.000" y="23.317" width="1.250" height="1.264" fill="#00ff10"/><rect x="35.000" y="23.317" width="1.250" height="1.264" fill="#00ff02"/><rect x="36.000" y="23.317" width="1.250" height="1.264" fill="#0aff00"/><rect x="37.000" y="23.317" width="1.250" height="1.264" fill="#14ff00"/><rect x="38.000" y="23.317" width="1.250" height="1.264" fill="#1dff00"/><rect x="39.000" y="23.317" width="1.250" height="1.264" fill="#23ff00"/><rect x="40.000" y="23.317" width="1.250" height="1.264" fill="#28ff00"/><rect x="41.000" y="23.317" width="1.250" height="1.264" fill="#2aff00"/><rect x="0.000" y="24.331" width="1.250" height="1.264" fill="#77ff00"/><rect x="1.000" y="24.331" width="1.250" height="1.264" fill="#74ff00"/><rect x="2.000" y="24.331" width="1.250" height="1.264" fill="#6fff00"/><rect x="3.000" y="24.331" width="1.250" height="1.264" fill="#68ff00"/><rect x="4.000" y="24.331" width="1.250" height="1.264" fill="#5eff00"/><rect x="5.000" y="24.331" width="1.250" height="1.264" fill="#52ff00"/><rect x="6.000" y="24.331" width="1.250" height="1.264" fill="#44ff00"/><rect x="7.000" y="24.331" width="1.250" height="1.264" fill="#34ff00"/><rect x="8.000" y="24.331" width="1.250" height="1.264" fill="#23ff00"/><rect x="9.000" y="24.331" width="1.250" height="1.264" fill="#0fff00"/><rect x="10.000" y="24.331" width="1.250" height="1.264" fill="#00ff05"/><rect x="11.000" y="24.331" width="1.250" height="1.264" fill="#00ff1b"/><rect x="12.000" y="24.331" width="1.250" height="1.264" fill="#00ff31"/><rect x="13.000" y="24.331" width="1.250" height="1.264" fill="#00ff49"/><rect x="14.000" y="24.331" width="1.250" height="1.264" fill="#00ff60"/><rect x="15.000" y="24.331" width="1.250" height="1.264" fill="#00ff77"/><rect x="16.000" y="24.331" width="1.250" height="1.264" fill="#00ff8e"/><rect x="17.000" y="24.331" width="1.250" height="1.264" fill="#00ffa4"/><rect x="18.000" y="24.331" width="1.250" height="1.264" fill="#00ffb9"/><rect x="19.000" y="24.331" width="1.250" height="1.264" fill="#00ffcb"/><rect x="20.000" y="24.331" width="2.250" height="1.264" fill="#00ffdb"/><rect x="22.000" y="24.331" width="1.250" height="1.264" fill="#00ffcb"/><rect x="23.000" y="24.331" width="1.250" height="1.264" fill="#00ffb9"/><rect x="24.000" y="24.331" width="1.250" height="1.264" fill="#00ffa4"/><rect x="25.000" y="24.331" width="1.250" height="1.264" fill="#00ff8e"/><rect x="26.000" y="24.331" width="1.250" height="1.264" fill="#00ff77"/><rect x="27.000" y="24.331" width="1.250" height="1.264" fill="#00ff60"/><rect x="28.000" y="24.331" width="1.250" height="1.264" fill="#00ff49"/><rect x="29.000" y="24.331" width="1.250" height="1.264" fill="#00ff31"/><rect x="30.000" y="24.331" width="1.250" height="1.264" fill="#00ff1b"/><rect x="31.000" y="24.331" width="1.250" height="1.264" fill="#00ff05"/><rect x="32.000" y="24.331" width="1.250" height="1.264" fill="#0fff00"/><rect x="33.000" y="24.331" width="1.250" height="1.264" fill="#23ff00"/><rect x="34.000" y="24.331" width="1.250" height="1.264" fill="#34ff00"/><rect x="35.000" y="24.331" width="1.250" height="1.264" fill="#44ff00"/><rect x="36.000" y="24.331" width="1.250" height="1.264" fill="#52ff00"/><rect x="37.000" y="24.331" width="1.250" height="1.264" fill="#5eff00"/><rect x="38.000" y="24.331" width="1.250" height="1.264" fill="#68ff00"/><rect x="39.000" y="24.331" width="1.250" height="1.264" fill="#6fff00"/><rect x="40.000" y="24.331" width="1.250" height="1.264" fill="#74ff00"/><rect x="41.000" y="24.331" width="1.250" height="1.264" fill="#77ff00"/><rect x="0.000" y="25.345" width="1.250" height="1.264" fill="#b9ff00"/><rect x="1.000" y="25.345" width="1.250" height="1.264" fill="#b6ff00"/><rect x="2.000" y="25.345" width="1.250" height="1.264" fill="#b1ff00"/><rect x="3.000" y="25.345" width="1.250" height="1.264" fill="#a9ff00"/><rect x="4.000" y="25.345" width="1.250" height="1.264" fill="#9eff00"/><rect x="5.000" y="25.345" width="1.250" height="1.264" fill="#91ff00"/><rect x="6.000" y="25.345" width="1.250" height="1.264" fill="#81ff00"/><rect x="7.000" y="25.345" width="1.250" height="1.264" fill="#70ff00"/><rect x="8.000" y="25.345" width="1.250" height="1.264" fill="#5cff00"/><rect x="9.000" y="25.345" width="1.250" height="1.264" fill="#47ff00"/><rect x="10.000" y="25.345" width="1.250" height="1.264" fill="#30ff00"/><rect x="11.000" y="25.345" width="1.250" height="1.264" fill="#18ff00"/><rect x="12.000" y="25.345" width="1.250" height="1.264" fill="#00ff01"/><rect x="13.000" y="25.345" width="1.250" height="1.264" fill="#00ff1a"/><rect x="14.000" y="25.345" width="1.250" height="1.264" fill="#00ff34"/><rect x="15.000" y="25.345" width="1.250" height="1.264" fill="#00ff4e"/><rect x="16.000" y="25.345" width="1.250" height="1.264" fill="#00ff67"/><rect x="17.000" y="25.345" width="1.250" height="1.264" fill="#00ff80"/><rect x="18.000" y="25.345" width="1.250" height="1.264" fill="#00ff97"/><rect x="19.000" y="25.345" width="1.250" height="1.264" fill="#00ffab"/><rect x="20.000" y="25.345" width="2.250" height="1.264" fill="#00ffbc"/><rect x="22.000" y="25.345" width="1.250" height="1.264" fill="#00ffab"/><rect x="23.000" y="25.345" width="1.250" height="1.264" fill="#00ff97"/><rect x="24.000" y="25.345" width="1.250" height="1.264" fill="#00ff80"/><rect x="25.000" y="25.345" width="1.250" height="1.264" fill="#00ff67"/><rect x="26.000" y="25.345" width="1.250" height="1.264" fill="#00ff4e"/><rect x="27.000" y="25.345" width="1.250" height="1.264" fill="#00ff34"/><rect x="28.000" y="25.345" width="1.250" height="1.264" fill="#00ff1a"/><rect x="29.000" y="25.345" width="1.250" height="1.264" fill="#00ff01"/><rect x="30.000" y="25.345" width="1.250" height="1.264" fill="#18ff00"/><rect x="31.000" y="25.345" width="1.250" height="1.264" fill="#30ff00"/><rect x="32.000" y="25.345" width="1.250" height="1.264" fill="#47ff00"/><rect x="33.000" y="25.345" width="1.250" height="1.264" fill="#5cff00"/><rect x="34.000" y="25.345" width="1.250" height="1.264" fill="#70ff00"/><rect x="35.000" y="25.345" width="1.250" height="1.264" fill="#81ff00"/><rect x="36.000" y="25.345" width="1.250" height="1.264" fill="#91ff00"/><rect x="37.000" y="25.345" width="1.250" height="1.264" fill="#9eff00"/><rect x="38.000" y="25.345" width="1.250" height="1.264" fill="#a9ff00"/><rect x="39.000" y="25.345" width="1.250" height="1.264" fill="#b1ff00"/><rect x="40.000" y="25.345" width="1.250" height="1.264" fill="#b6ff00"/><rect x="41.000" y="25.345" width="1.250" height="1.264" fill="#b9ff00"/><rect x="0.000" y="26.359" width="1.250" height="1.264" fill="#eeff00"/><rect x="1.000" y="26.359" width="1.250" height="1.264" fill="#ebff00"/><rect x="2.000" y="26.359" width="1.250" height="1.264" fill="#e5ff00"/><rect x="3.000" y="26.359" width="1.250" height="1.264" fill="#dcff00"/><rect x="4.000" y="26.359" width="1.250" height="1.264" fill="#d1ff00"/><rect x="5.000" y="26.359" width="1.250" height="1.264" fill="#c3ff00"/><rect x="6.000" y="26.359" width="1.250" height="1.264" fill="#b2ff00"/><rect x="7.000" y="26.359" width="1.250" height="1.264" fill="#9fff00"/><rect x="8.000" y="26.359" width="1.250" height="1.264" fill="#8aff00"/><rect x="9.000" y="26.359" width="1.250" height="1.264" fill="#73ff00"/><rect x="10.000" y="26.359" width="1.250" height="1.264" fill="#5aff00"/><rect x="11.000" y="26.359" width="1.250" height="1.264" fill="#41ff00"/><rect x="12.000" y="26.359" width="1.250" height="1.264" fill="#26ff00"/><rect x="13.000" y="26.359" width="1.250" height="1.264" fill="#0aff00"/><rect x="14.000" y="26.359" width="1.250" height="1.264" fill="#00ff12"/><rect x="15.000" y="26.359" width="1.250" height="1.264" fill="#00ff2d"/><rect x="16.000" y="26.359" width="1.250" height="1.264" fill="#00ff49"/><rect x="17.000" y="26.359" width="1.250" height="1.264" fill="#00ff63"/><rect x="18.000" y="26.359" width="1.250" height="1.264" fill="#00ff7b"/><rect x="19.000" y="26.359" width="1.250" height="1.264" fill="#00ff91"/><rect x="20.000" y="26.359" width="2.250" height="1.264" fill="#00ffa3"/><rect x="22.000" y="26.359" width="1.250" height="1.264" fill="#00ff91"/><rect x="23.000" y="26.359" width="1.250" height="1.264" fill="#00ff7b"/><rect x="24.000" y="26.359" width="1.250" height="1.264" fill="#00ff63"/><rect x="25.000" y="26.359" width="1.250" height="1.264" fill="#00ff49"/><rect x="26.000" y="26.359" width="1.250" height="1.264" fill="#00ff2d"/><rect x="27.000" y="26.359" width="1.250" height="1.264" fill="#00ff12"/><rect x="28.000" y="26.359" width="1.250" height="1.264" fill="#0aff00"/><rect x="29.000" y="26.359" width="1.250" height="1.264" fill="#26ff00"/><rect x="30.000" y="26.359" width="1.250" height="1.264" fill="#41ff00"/><rect x="31.000" y="26.359" width="1.250" height="1.264" fill="#5aff00"/><rect x="32.000" y="26.359" width="1.250" height="1.264" fill="#73ff00"/><rect x="33.000" y="26.359" width="1.250" height="1.264" fill="#8aff00"/><rect x="34.000" y="26.359" width="1.250" height="1.264" fill="#9fff00"/><rect x="35.000" y="26.359" width="1.250" height="1.264" fill="#b2ff00"/><rect x="36.000" y="26.359" width="1.250" height="1.264" fill="#c3ff00"/><rect x="37.000" y="26.359" width="1.250" height="1.264" fill="#d1ff00"/><rect x="38.000" y="26.359" width="1.250" height="1.264" fill="#dcff00"/><rect x="39.000" y="26.359" width="1.250" height="1.264" fill="#e5ff00"/><rect x="40.000" y="26.359" width="1.250" height="1.264" fill="#ebff00"/><rect x="41.000" y="26.359" width="1.250" height="1.264" fill="#eeff00"/><rect x="0.000" y="27.372" width="1.250" height="1.264" fill="#ffec00"/><rect x="1.000" y="27.372" width="1.250" height="1.264" fill="#ffef00"/><rect x="2.000" y="27.372" width="1.250" height="1.264" fill="#fff500"/><rect x="3.000" y="27.372" width="1.250" height="1.264" fill="#fffe00"/><rect x="4.000" y="27.372" width="1.250" height="1.264" fill="#f4ff00"/><rect x="5.000" y="27.372" width="1.250" height="1.264" fill="#e5ff00"/><rect x="6.000" y="27.372" width="1.250" height="1.264" fill="#d4ff00"/><rect x="7.000" y="27.372" width="1.250" height="1.264" fill="#c0ff00"/><rect x="8.000" y="27.372" width="1.250" height="1.264" fill="#aaff00"/><rect x="9.000" y="27.372" width="1.250" height="1.264" fill="#92ff00"/><rect x="10.000" y="27.372" width="1.250" height="1.264" fill="#78ff00"/><rect x="11.000" y="27.372" width="1.250" height="1.264" fill="#5dff00"/><rect x="12.000" y="27.372" width="1.250" height="1.264" fill="#41ff00"/><rect x="13.000" y="27.372" width="1.250" height="1.264" fill="#24ff00"/><rect x="14.000" y="27.372" width="1.250" height="1.264" fill="#06ff00"/><rect x="15.000" y="27.372" width="1.250" height="1.264" fill="#00ff17"/><rect x="16.000" y="27.372" width="1.250" height="1.264" fill="#00ff33"/><rect x="17.000" y="27.372" width="1.250" height="1.264" fill="#00ff4f"/><rect x="18.000" y="27.372" width="1.250" height="1.264" fill="#00ff68"/><rect x="19.000" y="27.372" width="1.250" height="1.264" fill="#00ff80"/><rect x="20.000" y="27.372" width="2.250" height="1.264" fill="#00ff92"/><rect x="22.000" y="27.372" width="1.250" height="1.264" fill="#00ff80"/><rect x="23.000" y="27.372" width="1.250" height="1.264" fill="#00ff68"/><rect x="24.000" y="27.372" width="1.250" height="1.264" fill="#00ff4f"/><rect x="25.000" y="27.372" width="1.250" height="1.264" fill="#00ff33"/><rect x="26.000" y="27.372" width="1.250" height="1.264" fill="#00ff17"/><rect x="27.000" y="27.372" width="1.250" height="1.264" fill="#06ff00"/><rect x="28.000" y="27.372" width="1.250" height="1.264" fill="#24ff00"/><rect x="29.000" y="27.372" width="1.250" height="1.264" fill="#41ff00"/><rect x="30.000" y="27.372" width="1.250" height="1.264" fill="#5dff00"/><rect x="31.000" y="27.372" width="1.250" height="1.264" fill="#78ff00"/><rect x="32.000" y="27.372" width="1.250" height="1.264" fill="#92ff00"/><rect x="33.000" y="27.372" width="1.250" height="1.264" fill="#aaff00"/><rect x="34.000" y="27.372" width="1.250" height="1.264" fill="#c0ff00"/><rect x="35.000" y="27.372" width="1.250" height="1.264" fill="#d4ff00"/><rect x="36.000" y="27.372" width="1.250" height="1.264" fill="#e5ff00"/><rect x="37.000" y="27.372" width="1.250" height="1.264" fill="#f4ff00"/><rect x="38.000" y="27.372" width="1.250" height="1.264" fill="#fffe00"/><rect x="39.000" y="27.372" width="1.250" height="1.264" fill="#fff500"/><rect x="40.000" y="27.372" width="1.250" height="1.264" fill="#ffef00"/><rect x="41.000" y="27.372" width="1.250" height="1.264" fill="#ffec00"/><rect x="0.000" y="28.386" width="1.250" height="1.264" fill="#ffd900"/><rect x="1.000" y="28.386" width="1.250" height="1.264" fill="#ffdc00"/><rect x="2.000" y="28.386" width="1.250" height="1.264" fill="#ffe200"/><rect x="3.000" y="28.386" width="1.250" height="1.264" fill="#ffec00"/><rect x="4.000" y="28.386" width="1.250" height="1.264" fill="#fff800"/><rect x="5.000" y="28.386" width="1.250" height="1.264" fill="#f7ff00"/><rect x="6.000" y="28.386" width="1.250" height="1.264" fill="#e5ff00"/><rect x="7.000" y="28.386" width="1.250" height="1.264" fill="#d0ff00"/><rect x="8.000" y="28.386" width="1.250" height="1.264" fill="#baff00"/><rect x="9.000" y="28.386" width="1.250" height="1.264" fill="#a1ff00"/><rect x="10.000" y="28.386" width="1.250" height="1.264" fill="#87ff00"/><rect x="11.000" y="28.386" width="1.250" height="1.264" fill="#6bff00"/><rect x="12.000" y="28.386" width="1.250" height="1.264" fill="#4eff00"/><rect x="13.000" y="28.386" width="1.250" height="1.264" fill="#31ff00"/><rect x="14.000" y="28.386" width="1.250" height="1.264" fill="#13ff00"/><rect x="15.000" y="28.386" width="1.250" height="1.264" fill="#00ff0b"/><rect x="16.000" y="28.386" width="1.250" height="1.264" fill="#00ff28"/><rect x="17.000" y="28.386" width="1.250" height="1.264" fill="#00ff44"/><rect x="18.000" y="28.386" width="1.250" height="1.264" fill="#00ff5f"/><rect x="19.000" y="28.386" width="1.250" height="1.264" fill="#00ff76"/><rect x="20.000" y="28.386" width="2.250" height="1.264" fill="#00ff8a"/><rect x="22.000" y="28.386" width="1.250" height="1.264" fill="#00ff76"/><rect x="23.000" y="28.386" width="1.250" height="1.264" fill="#00ff5f"/><rect x="24.000" y="28.386" width="1.250" height="1.264" fill="#00ff44"/><rect x="25.000" y="28.386" width="1.250" height="1.264" fill="#00ff28"/><rect x="26.000" y="28.386" width="1.250" height="1.264" fill="#00ff0b"/><rect x="27.000" y="28.386" width="1.250" height="1.264" fill="#13ff00"/><rect x="28.000" y="28.386" width="1.250" height="1.264" fill="#31ff00"/><rect x="29.000" y="28.386" width="1.250" height="1.264" fill="#4eff00"/><rect x="30.000" y="28.386" width="1.250" height="1.264" fill="#6bff00"/><rect x="31.000" y="28.386" width="1.250" height="1.264" fill="#87ff00"/><rect x="32.000" y="28.386" width="1.250" height="1.264" fill="#a1ff00"/><rect x="33.000" y="28.386" width="1.250" height="1.264" fill="#baff00"/><rect x="34.000" y="28.386" width="1.250" height="1.264" fill="#d0ff00"/><rect x="35.000" y="28.386" width="1.250" height="1.264" fill="#e5ff00"/><rect x="36.000" y="28.386" width="1.250" height="1.264" fill="#f7ff00"/><rect x="37.000" y="28.386" width="1.250" height="1.264" fill="#fff800"/><rect x="38.000" y="28.386" width="1.250" height="1.264" fill="#ffec00"/><rect x="39.000" y="28.386" width="1.250" height="1.264" fill="#ffe200"/><rect x="40.000" y="28.386" width="1.250" height="1.264" fill="#ffdc00"/><rect x="41.000" y="28.386" width="1.250" height="1.264" fill="#ffd900"/></g></pattern><linearGradient id="cb" x1="0" y1="0" x2="0" y2="1"><stop offset="0" stop-color="#ff0000"/><stop offset=".25" stop-color="#ffff00"/><stop offset=".5" stop-color="#00ff00"/><stop offset=".75" stop-color="#00ffff"/><stop offset="1" stop-color="#0000ff"/></linearGradient><marker id="ah" markerWidth="8" markerHeight="6" refX="7" refY="3" orient="auto" markerUnits="userSpaceOnUse"><path d="M0,0 L8,3 L0,6 z" fill="#000"/></marker></defs><rect width="550" height="347" fill="#fff"/><line x1="131.1" y1="1.6" x2="131.1" y2="187.5" stroke="#d4d4d4" stroke-width="1.1"/><line x1="183.0" y1="1.6" x2="183.0" y2="187.5" stroke="#d4d4d4" stroke-width="1.1"/><line x1="256.1" y1="1.6" x2="256.1" y2="187.5" stroke="#d4d4d4" stroke-width="1.1"/><rect x="58.3" y="1.6" width="250.0" height="185.9" fill="none" stroke="#999" stroke-width="1"/><path d="M63.5,187.5v-1.8M63.5,1.6v1.8M69.3,187.5v-1.8M69.3,1.6v1.8M75.2,187.5v-1.8M75.2,1.6v1.8M81.0,187.5v-1.8M81.0,1.6v1.8M86.8,187.5v-1.8M86.8,1.6v1.8M92.6,187.5v-1.8M92.6,1.6v1.8M98.4,187.5v-1.8M98.4,1.6v1.8M104.3,187.5v-1.8M104.3,1.6v1.8M110.1,187.5v-1.8M110.1,1.6v1.8M115.9,187.5v-1.8M115.9,1.6v1.8M121.7,187.5v-1.8M121.7,1.6v1.8M127.5,187.5v-1.8M127.5,1.6v1.8M133.4,187.5v-1.8M133.4,1.6v1.8M139.2,187.5v-1.8M139.2,1.6v1.8M145.0,187.5v-1.8M145.0,1.6v1.8M150.8,187.5v-1.8M150.8,1.6v1.8M156.6,187.5v-1.8M156.6,1.6v1.8M162.5,187.5v-1.8M162.5,1.6v1.8M168.3,187.5v-1.8M168.3,1.6v1.8M174.1,187.5v-1.8M174.1,1.6v1.8M179.9,187.5v-1.8M179.9,1.6v1.8M185.7,187.5v-1.8M185.7,1.6v1.8M191.6,187.5v-1.8M191.6,1.6v1.8M197.4,187.5v-1.8M197.4,1.6v1.8M203.2,187.5v-1.8M203.2,1.6v1.8M209.0,187.5v-1.8M209.0,1.6v1.8M214.8,187.5v-1.8M214.8,1.6v1.8M220.7,187.5v-1.8M220.7,1.6v1.8M226.5,187.5v-1.8M226.5,1.6v1.8M232.3,187.5v-1.8M232.3,1.6v1.8M238.1,187.5v-1.8M238.1,1.6v1.8M243.9,187.5v-1.8M243.9,1.6v1.8M249.8,187.5v-1.8M249.8,1.6v1.8M255.6,187.5v-1.8M255.6,1.6v1.8M261.4,187.5v-1.8M261.4,1.6v1.8M267.2,187.5v-1.8M267.2,1.6v1.8M273.0,187.5v-1.8M273.0,1.6v1.8M278.9,187.5v-1.8M278.9,1.6v1.8M284.7,187.5v-1.8M284.7,1.6v1.8M290.5,187.5v-1.8M290.5,1.6v1.8M296.3,187.5v-1.8M296.3,1.6v1.8M302.1,187.5v-1.8M302.1,1.6v1.8M58.3,14.2h1.8M308.3,14.2h-1.8M58.3,26.6h1.8M308.3,26.6h-1.8M58.3,39.0h1.8M308.3,39.0h-1.8M58.3,51.4h1.8M308.3,51.4h-1.8M58.3,63.8h1.8M308.3,63.8h-1.8M58.3,76.2h1.8M308.3,76.2h-1.8M58.3,88.6h1.8M308.3,88.6h-1.8M58.3,101.0h1.8M308.3,101.0h-1.8M58.3,113.4h1.8M308.3,113.4h-1.8M58.3,125.8h1.8M308.3,125.8h-1.8M58.3,138.2h1.8M308.3,138.2h-1.8M58.3,150.6h1.8M308.3,150.6h-1.8M58.3,163.0h1.8M308.3,163.0h-1.8M58.3,175.4h1.8M308.3,175.4h-1.8" stroke="#666" stroke-width="0.8" fill="none"/><clipPath id="ca"><rect x="56.3" y="0.6000000000000001" width="254.0" height="187.9"/></clipPath><g clip-path="url(#ca)"><g fill="none" stroke="#0000ff" stroke-width="0.9"><circle cx="58.3" cy="113.5" r="1.3"/><circle cx="60.7" cy="113.6" r="1.3"/><circle cx="63.2" cy="113.8" r="1.3"/><circle cx="65.6" cy="114.1" r="1.3"/><circle cx="68.0" cy="114.6" r="1.3"/><circle cx="70.4" cy="115.2" r="1.3"/><circle cx="72.9" cy="115.9" r="1.3"/><circle cx="75.3" cy="116.6" r="1.3"/><circle cx="77.7" cy="117.3" r="1.3"/><circle cx="80.1" cy="118.1" r="1.3"/><circle cx="82.6" cy="119.1" r="1.3"/><circle cx="85.0" cy="120.3" r="1.3"/><circle cx="87.4" cy="122.4" r="1.3"/><circle cx="89.8" cy="125.4" r="1.3"/><circle cx="92.3" cy="128.2" r="1.3"/><circle cx="94.7" cy="130.8" r="1.3"/><circle cx="97.1" cy="133.7" r="1.3"/><circle cx="99.6" cy="136.6" r="1.3"/><circle cx="102.0" cy="139.7" r="1.3"/><circle cx="104.4" cy="142.9" r="1.3"/><circle cx="106.8" cy="146.6" r="1.3"/><circle cx="109.3" cy="150.7" r="1.3"/><circle cx="111.7" cy="154.5" r="1.3"/><circle cx="114.1" cy="158.6" r="1.3"/><circle cx="116.5" cy="162.5" r="1.3"/><circle cx="119.0" cy="167.4" r="1.3"/><circle cx="121.4" cy="172.1" r="1.3"/><circle cx="123.8" cy="175.9" r="1.3"/><circle cx="126.2" cy="180.8" r="1.3"/><circle cx="128.7" cy="187.0" r="1.3"/></g><g fill="#ff0000"><circle cx="58.3" cy="118.5" r="1.5"/><circle cx="60.7" cy="119.3" r="1.5"/><circle cx="63.2" cy="120.3" r="1.5"/><circle cx="65.6" cy="121.3" r="1.5"/><circle cx="68.0" cy="122.5" r="1.5"/><circle cx="70.4" cy="123.9" r="1.5"/><circle cx="72.9" cy="125.4" r="1.5"/><circle cx="75.3" cy="126.7" r="1.5"/><circle cx="77.7" cy="127.9" r="1.5"/><circle cx="80.1" cy="129.1" r="1.5"/><circle cx="82.6" cy="130.4" r="1.5"/><circle cx="85.0" cy="131.8" r="1.5"/><circle cx="87.4" cy="133.4" r="1.5"/><circle cx="89.8" cy="135.7" r="1.5"/><circle cx="92.3" cy="138.3" r="1.5"/><circle cx="94.7" cy="140.3" r="1.5"/><circle cx="97.1" cy="142.6" r="1.5"/><circle cx="99.6" cy="145.3" r="1.5"/><circle cx="102.0" cy="148.7" r="1.5"/><circle cx="104.4" cy="152.1" r="1.5"/><circle cx="106.8" cy="155.0" r="1.5"/><circle cx="109.3" cy="158.2" r="1.5"/><circle cx="111.7" cy="161.9" r="1.5"/><circle cx="114.1" cy="165.4" r="1.5"/><circle cx="116.5" cy="168.8" r="1.5"/><circle cx="119.0" cy="172.4" r="1.5"/><circle cx="121.4" cy="175.4" r="1.5"/><circle cx="123.8" cy="178.2" r="1.5"/><circle cx="126.2" cy="180.2" r="1.5"/></g><g fill="none" stroke="#0000ff" stroke-width="0.9"><circle cx="87.4" cy="136.7" r="1.3"/><circle cx="89.8" cy="138.3" r="1.3"/><circle cx="92.3" cy="140.4" r="1.3"/><circle cx="94.7" cy="142.9" r="1.3"/><circle cx="97.1" cy="145.3" r="1.3"/><circle cx="99.6" cy="147.8" r="1.3"/><circle cx="102.0" cy="150.8" r="1.3"/><circle cx="104.4" cy="154.2" r="1.3"/><circle cx="106.8" cy="157.6" r="1.3"/><circle cx="109.3" cy="161.0" r="1.3"/><circle cx="111.7" cy="164.5" r="1.3"/><circle cx="114.1" cy="168.0" r="1.3"/><circle cx="116.5" cy="171.4" r="1.3"/><circle cx="119.0" cy="174.5" r="1.3"/><circle cx="121.4" cy="177.8" r="1.3"/><circle cx="123.8" cy="182.3" r="1.3"/><circle cx="126.2" cy="185.9" r="1.3"/></g><g fill="#ff0000"><circle cx="58.3" cy="128.0" r="1.5"/><circle cx="60.7" cy="129.6" r="1.5"/><circle cx="63.2" cy="131.5" r="1.5"/><circle cx="65.6" cy="133.5" r="1.5"/><circle cx="68.0" cy="135.9" r="1.5"/><circle cx="70.4" cy="138.4" r="1.5"/><circle cx="72.9" cy="140.9" r="1.5"/><circle cx="75.3" cy="143.3" r="1.5"/><circle cx="77.7" cy="145.7" r="1.5"/><circle cx="80.1" cy="148.2" r="1.5"/><circle cx="82.6" cy="150.5" r="1.5"/><circle cx="85.0" cy="152.5" r="1.5"/><circle cx="87.4" cy="154.3" r="1.5"/><circle cx="89.8" cy="155.9" r="1.5"/><circle cx="92.3" cy="157.7" r="1.5"/><circle cx="94.7" cy="159.6" r="1.5"/><circle cx="97.1" cy="162.1" r="1.5"/><circle cx="99.6" cy="164.7" r="1.5"/><circle cx="102.0" cy="166.6" r="1.5"/><circle cx="104.4" cy="168.6" r="1.5"/><circle cx="106.8" cy="171.1" r="1.5"/><circle cx="109.3" cy="174.6" r="1.5"/><circle cx="111.7" cy="177.5" r="1.5"/><circle cx="114.1" cy="180.0" r="1.5"/><circle cx="116.5" cy="182.4" r="1.5"/><circle cx="119.0" cy="184.9" r="1.5"/><circle cx="121.4" cy="187.5" r="1.5"/></g><g fill="none" stroke="#0000ff" stroke-width="0.9"><circle cx="58.3" cy="133.0" r="1.3"/><circle cx="60.7" cy="135.5" r="1.3"/><circle cx="63.2" cy="138.1" r="1.3"/><circle cx="65.6" cy="140.8" r="1.3"/><circle cx="68.0" cy="143.7" r="1.3"/><circle cx="70.4" cy="146.5" r="1.3"/><circle cx="72.9" cy="149.0" r="1.3"/><circle cx="75.3" cy="151.3" r="1.3"/><circle cx="77.7" cy="153.2" r="1.3"/><circle cx="80.1" cy="155.1" r="1.3"/><circle cx="82.6" cy="157.1" r="1.3"/><circle cx="85.0" cy="159.0" r="1.3"/><circle cx="87.4" cy="160.5" r="1.3"/><circle cx="89.8" cy="161.9" r="1.3"/><circle cx="92.3" cy="163.0" r="1.3"/><circle cx="94.7" cy="164.2" r="1.3"/><circle cx="97.1" cy="167.1" r="1.3"/><circle cx="99.6" cy="169.6" r="1.3"/><circle cx="102.0" cy="172.0" r="1.3"/><circle cx="104.4" cy="174.4" r="1.3"/><circle cx="106.8" cy="176.7" r="1.3"/><circle cx="109.3" cy="179.3" r="1.3"/><circle cx="111.7" cy="182.6" r="1.3"/><circle cx="114.1" cy="187.1" r="1.3"/></g><g fill="#ff0000"><circle cx="58.3" cy="140.0" r="1.5"/><circle cx="60.7" cy="142.2" r="1.5"/><circle cx="63.2" cy="144.4" r="1.5"/><circle cx="65.6" cy="146.5" r="1.5"/><circle cx="68.0" cy="148.5" r="1.5"/><circle cx="70.4" cy="150.6" r="1.5"/><circle cx="72.9" cy="152.8" r="1.5"/><circle cx="75.3" cy="155.2" r="1.5"/><circle cx="77.7" cy="157.7" r="1.5"/><circle cx="80.1" cy="160.4" r="1.5"/><circle cx="82.6" cy="163.2" r="1.5"/><circle cx="85.0" cy="166.3" r="1.5"/><circle cx="87.4" cy="169.5" r="1.5"/><circle cx="89.8" cy="172.9" r="1.5"/><circle cx="92.3" cy="176.4" r="1.5"/><circle cx="94.7" cy="179.0" r="1.5"/><circle cx="97.1" cy="181.5" r="1.5"/><circle cx="99.6" cy="183.9" r="1.5"/><circle cx="102.0" cy="186.6" r="1.5"/><circle cx="58.3" cy="117.0" r="1.5"/><circle cx="60.7" cy="119.2" r="1.5"/><circle cx="63.2" cy="121.5" r="1.5"/><circle cx="65.6" cy="124.0" r="1.5"/><circle cx="68.0" cy="126.6" r="1.5"/></g><g fill="none" stroke="#0000ff" stroke-width="0.9"><circle cx="58.3" cy="119.5" r="1.3"/><circle cx="60.7" cy="121.9" r="1.3"/><circle cx="63.2" cy="124.6" r="1.3"/><circle cx="65.6" cy="127.3" r="1.3"/><circle cx="68.0" cy="130.2" r="1.3"/><circle cx="70.4" cy="133.3" r="1.3"/><circle cx="72.9" cy="136.5" r="1.3"/><circle cx="75.3" cy="139.8" r="1.3"/></g><g fill="#ff0000"><circle cx="58.3" cy="121.9" r="1.5"/><circle cx="60.7" cy="125.4" r="1.5"/><circle cx="63.2" cy="129.0" r="1.5"/><circle cx="65.6" cy="132.8" r="1.5"/><circle cx="68.0" cy="136.7" r="1.5"/><circle cx="70.4" cy="140.8" r="1.5"/><circle cx="72.9" cy="145.0" r="1.5"/><circle cx="75.3" cy="149.4" r="1.5"/><circle cx="77.7" cy="153.9" r="1.5"/><circle cx="80.1" cy="158.5" r="1.5"/><circle cx="82.6" cy="163.3" r="1.5"/><circle cx="85.0" cy="168.2" r="1.5"/><circle cx="87.4" cy="173.2" r="1.5"/><circle cx="89.8" cy="178.4" r="1.5"/><circle cx="92.3" cy="183.7" r="1.5"/><circle cx="94.7" cy="189.2" r="1.5"/></g><g fill="none" stroke="#0000ff" stroke-width="0.9"><circle cx="58.3" cy="124.4" r="1.3"/><circle cx="60.7" cy="126.6" r="1.3"/><circle cx="63.2" cy="128.9" r="1.3"/><circle cx="65.6" cy="131.4" r="1.3"/><circle cx="68.0" cy="134.1" r="1.3"/><circle cx="70.4" cy="136.9" r="1.3"/><circle cx="72.9" cy="139.8" r="1.3"/><circle cx="75.3" cy="142.9" r="1.3"/><circle cx="77.7" cy="146.1" r="1.3"/><circle cx="80.1" cy="149.4" r="1.3"/><circle cx="82.6" cy="152.9" r="1.3"/></g><g fill="#ff0000"><circle cx="58.3" cy="126.8" r="1.5"/><circle cx="60.7" cy="129.1" r="1.5"/><circle cx="63.2" cy="131.6" r="1.5"/><circle cx="65.6" cy="134.2" r="1.5"/><circle cx="68.0" cy="137.0" r="1.5"/><circle cx="70.4" cy="139.9" r="1.5"/><circle cx="72.9" cy="142.9" r="1.5"/><circle cx="75.3" cy="146.1" r="1.5"/><circle cx="77.7" cy="149.5" r="1.5"/><circle cx="80.1" cy="152.9" r="1.5"/><circle cx="82.6" cy="156.5" r="1.5"/><circle cx="85.0" cy="160.3" r="1.5"/><circle cx="87.4" cy="164.2" r="1.5"/><circle cx="89.8" cy="168.2" r="1.5"/><circle cx="92.3" cy="172.4" r="1.5"/><circle cx="94.7" cy="176.7" r="1.5"/><circle cx="97.1" cy="181.2" r="1.5"/><circle cx="99.6" cy="185.8" r="1.5"/><circle cx="102.0" cy="190.5" r="1.5"/></g><g fill="none" stroke="#0000ff" stroke-width="0.9"><circle cx="58.3" cy="129.2" r="1.3"/><circle cx="60.7" cy="131.8" r="1.3"/><circle cx="63.2" cy="134.5" r="1.3"/><circle cx="65.6" cy="137.4" r="1.3"/><circle cx="68.0" cy="140.3" r="1.3"/><circle cx="70.4" cy="143.5" r="1.3"/><circle cx="72.9" cy="146.7" r="1.3"/><circle cx="75.3" cy="150.1" r="1.3"/><circle cx="77.7" cy="153.7" r="1.3"/><circle cx="80.1" cy="157.4" r="1.3"/><circle cx="82.6" cy="161.2" r="1.3"/><circle cx="85.0" cy="165.2" r="1.3"/><circle cx="87.4" cy="169.3" r="1.3"/><circle cx="89.8" cy="173.5" r="1.3"/><circle cx="92.3" cy="177.9" r="1.3"/><circle cx="94.7" cy="182.5" r="1.3"/><circle cx="97.1" cy="187.2" r="1.3"/></g><g fill="#ff0000"><circle cx="58.3" cy="131.7" r="1.5"/><circle cx="60.7" cy="133.1" r="1.5"/><circle cx="63.2" cy="134.7" r="1.5"/><circle cx="65.6" cy="136.4" r="1.5"/><circle cx="68.0" cy="138.3" r="1.5"/><circle cx="70.4" cy="140.3" r="1.5"/><circle cx="72.9" cy="142.4" r="1.5"/><circle cx="75.3" cy="144.7" r="1.5"/><circle cx="77.7" cy="147.1" r="1.5"/><circle cx="80.1" cy="149.7" r="1.5"/></g><g fill="none" stroke="#0000ff" stroke-width="0.9"><circle cx="58.3" cy="134.2" r="1.3"/><circle cx="60.7" cy="136.5" r="1.3"/><circle cx="63.2" cy="139.0" r="1.3"/><circle cx="65.6" cy="141.6" r="1.3"/><circle cx="68.0" cy="144.4" r="1.3"/><circle cx="70.4" cy="147.3" r="1.3"/><circle cx="72.9" cy="150.4" r="1.3"/><circle cx="75.3" cy="153.6" r="1.3"/><circle cx="77.7" cy="156.9" r="1.3"/><circle cx="80.1" cy="160.4" r="1.3"/><circle cx="82.6" cy="164.0" r="1.3"/><circle cx="85.0" cy="167.8" r="1.3"/><circle cx="87.4" cy="171.7" r="1.3"/><circle cx="89.8" cy="175.7" r="1.3"/><circle cx="92.3" cy="179.9" r="1.3"/><circle cx="94.7" cy="184.2" r="1.3"/><circle cx="97.1" cy="188.7" r="1.3"/></g><g fill="#ff0000"><circle cx="58.3" cy="136.6" r="1.5"/><circle cx="60.7" cy="139.3" r="1.5"/><circle cx="63.2" cy="142.1" r="1.5"/><circle cx="65.6" cy="145.1" r="1.5"/><circle cx="68.0" cy="148.2" r="1.5"/><circle cx="70.4" cy="151.4" r="1.5"/><circle cx="72.9" cy="154.8" r="1.5"/><circle cx="75.3" cy="158.3" r="1.5"/><circle cx="77.7" cy="162.0" r="1.5"/><circle cx="80.1" cy="165.8" r="1.5"/><circle cx="82.6" cy="169.7" r="1.5"/><circle cx="85.0" cy="173.8" r="1.5"/><circle cx="87.4" cy="178.1" r="1.5"/><circle cx="89.8" cy="182.4" r="1.5"/><circle cx="92.3" cy="187.0" r="1.5"/></g><g fill="none" stroke="#0000ff" stroke-width="0.9"><circle cx="58.3" cy="139.1" r="1.3"/><circle cx="60.7" cy="142.2" r="1.3"/><circle cx="63.2" cy="145.5" r="1.3"/><circle cx="65.6" cy="148.9" r="1.3"/><circle cx="68.0" cy="152.4" r="1.3"/><circle cx="70.4" cy="156.1" r="1.3"/><circle cx="72.9" cy="160.0" r="1.3"/><circle cx="75.3" cy="163.9" r="1.3"/><circle cx="77.7" cy="168.1" r="1.3"/><circle cx="80.1" cy="172.3" r="1.3"/><circle cx="82.6" cy="176.7" r="1.3"/><circle cx="85.0" cy="181.3" r="1.3"/><circle cx="87.4" cy="186.0" r="1.3"/><circle cx="89.8" cy="190.8" r="1.3"/></g><g fill="#ff0000"><circle cx="58.3" cy="141.5" r="1.5"/><circle cx="60.7" cy="142.7" r="1.5"/><circle cx="63.2" cy="144.0" r="1.5"/><circle cx="65.6" cy="145.5" r="1.5"/><circle cx="68.0" cy="147.1" r="1.5"/><circle cx="70.4" cy="148.8" r="1.5"/><circle cx="72.9" cy="150.7" r="1.5"/><circle cx="75.3" cy="152.7" r="1.5"/><circle cx="77.7" cy="154.9" r="1.5"/><circle cx="80.1" cy="157.2" r="1.5"/><circle cx="82.6" cy="159.7" r="1.5"/><circle cx="85.0" cy="162.3" r="1.5"/><circle cx="87.4" cy="165.0" r="1.5"/><circle cx="89.8" cy="167.9" r="1.5"/><circle cx="92.3" cy="170.9" r="1.5"/></g><g fill="none" stroke="#0000ff" stroke-width="0.9"><circle cx="58.3" cy="144.0" r="1.3"/><circle cx="60.7" cy="145.7" r="1.3"/><circle cx="63.2" cy="147.6" r="1.3"/><circle cx="65.6" cy="149.7" r="1.3"/><circle cx="68.0" cy="151.9" r="1.3"/><circle cx="70.4" cy="154.2" r="1.3"/><circle cx="72.9" cy="156.7" r="1.3"/><circle cx="75.3" cy="159.3" r="1.3"/><circle cx="77.7" cy="162.0" r="1.3"/><circle cx="80.1" cy="164.9" r="1.3"/><circle cx="82.6" cy="168.0" r="1.3"/><circle cx="85.0" cy="171.2" r="1.3"/><circle cx="87.4" cy="174.5" r="1.3"/><circle cx="89.8" cy="177.9" r="1.3"/><circle cx="92.3" cy="181.5" r="1.3"/><circle cx="94.7" cy="185.3" r="1.3"/><circle cx="97.1" cy="189.2" r="1.3"/></g><g fill="#ff0000"><circle cx="58.3" cy="146.4" r="1.5"/><circle cx="60.7" cy="147.6" r="1.5"/><circle cx="63.2" cy="148.9" r="1.5"/><circle cx="65.6" cy="150.3" r="1.5"/><circle cx="68.0" cy="151.9" r="1.5"/><circle cx="70.4" cy="153.7" r="1.5"/><circle cx="72.9" cy="155.6" r="1.5"/><circle cx="75.3" cy="157.6" r="1.5"/><circle cx="77.7" cy="159.7" r="1.5"/><circle cx="80.1" cy="162.0" r="1.5"/><circle cx="82.6" cy="164.5" r="1.5"/><circle cx="85.0" cy="167.1" r="1.5"/><circle cx="87.4" cy="169.8" r="1.5"/><circle cx="89.8" cy="172.7" r="1.5"/><circle cx="92.3" cy="175.7" r="1.5"/><circle cx="94.7" cy="178.8" r="1.5"/><circle cx="97.1" cy="182.1" r="1.5"/><circle cx="99.6" cy="185.6" r="1.5"/><circle cx="102.0" cy="189.1" r="1.5"/></g><g fill="none" stroke="#0000ff" stroke-width="0.9"><circle cx="58.3" cy="148.9" r="1.3"/><circle cx="60.7" cy="152.0" r="1.3"/><circle cx="63.2" cy="155.4" r="1.3"/><circle cx="65.6" cy="158.8" r="1.3"/><circle cx="68.0" cy="162.4" r="1.3"/><circle cx="70.4" cy="166.2" r="1.3"/><circle cx="72.9" cy="170.0" r="1.3"/><circle cx="75.3" cy="174.1" r="1.3"/><circle cx="77.7" cy="178.2" r="1.3"/><circle cx="80.1" cy="182.6" r="1.3"/><circle cx="82.6" cy="187.0" r="1.3"/></g><g fill="#ff0000"><circle cx="58.3" cy="151.3" r="1.5"/><circle cx="60.7" cy="154.2" r="1.5"/><circle cx="63.2" cy="157.2" r="1.5"/><circle cx="65.6" cy="160.3" r="1.5"/><circle cx="68.0" cy="163.6" r="1.5"/><circle cx="70.4" cy="167.0" r="1.5"/><circle cx="72.9" cy="170.6" r="1.5"/><circle cx="75.3" cy="174.3" r="1.5"/><circle cx="77.7" cy="178.1" r="1.5"/><circle cx="80.1" cy="182.1" r="1.5"/><circle cx="82.6" cy="186.2" r="1.5"/><circle cx="85.0" cy="190.5" r="1.5"/></g><g fill="none" stroke="#0000ff" stroke-width="0.9"><circle cx="58.3" cy="153.8" r="1.3"/><circle cx="60.7" cy="154.8" r="1.3"/><circle cx="63.2" cy="156.0" r="1.3"/><circle cx="65.6" cy="157.3" r="1.3"/><circle cx="68.0" cy="158.7" r="1.3"/><circle cx="70.4" cy="160.3" r="1.3"/><circle cx="72.9" cy="162.1" r="1.3"/><circle cx="75.3" cy="164.0" r="1.3"/><circle cx="77.7" cy="166.0" r="1.3"/><circle cx="80.1" cy="168.2" r="1.3"/><circle cx="82.6" cy="170.5" r="1.3"/><circle cx="85.0" cy="172.9" r="1.3"/><circle cx="87.4" cy="175.5" r="1.3"/><circle cx="89.8" cy="178.3" r="1.3"/><circle cx="92.3" cy="181.1" r="1.3"/><circle cx="94.7" cy="184.1" r="1.3"/><circle cx="97.1" cy="187.3" r="1.3"/><circle cx="99.6" cy="190.6" r="1.3"/></g><g fill="#ff0000"><circle cx="58.3" cy="156.2" r="1.5"/><circle cx="60.7" cy="159.9" r="1.5"/><circle cx="63.2" cy="163.7" r="1.5"/><circle cx="65.6" cy="167.6" r="1.5"/><circle cx="68.0" cy="171.7" r="1.5"/><circle cx="70.4" cy="175.9" r="1.5"/><circle cx="72.9" cy="180.3" r="1.5"/><circle cx="75.3" cy="184.8" r="1.5"/><circle cx="77.7" cy="189.4" r="1.5"/></g><g fill="none" stroke="#0000ff" stroke-width="0.9"><circle cx="58.3" cy="158.7" r="1.3"/><circle cx="60.7" cy="162.3" r="1.3"/><circle cx="63.2" cy="166.0" r="1.3"/><circle cx="65.6" cy="169.9" r="1.3"/><circle cx="68.0" cy="173.9" r="1.3"/><circle cx="70.4" cy="178.1" r="1.3"/><circle cx="72.9" cy="182.4" r="1.3"/><circle cx="75.3" cy="186.9" r="1.3"/></g><g fill="#ff0000"><circle cx="58.3" cy="161.1" r="1.5"/><circle cx="60.7" cy="163.8" r="1.5"/><circle cx="63.2" cy="166.7" r="1.5"/><circle cx="65.6" cy="169.8" r="1.5"/><circle cx="68.0" cy="172.9" r="1.5"/><circle cx="70.4" cy="176.2" r="1.5"/><circle cx="72.9" cy="179.7" r="1.5"/><circle cx="75.3" cy="183.3" r="1.5"/><circle cx="77.7" cy="187.0" r="1.5"/><circle cx="80.1" cy="190.9" r="1.5"/></g><g fill="none" stroke="#0000ff" stroke-width="0.9"><circle cx="58.3" cy="163.6" r="1.3"/><circle cx="60.7" cy="166.2" r="1.3"/><circle cx="63.2" cy="169.0" r="1.3"/><circle cx="65.6" cy="171.9" r="1.3"/><circle cx="68.0" cy="174.9" r="1.3"/><circle cx="70.4" cy="178.2" r="1.3"/><circle cx="72.9" cy="181.5" r="1.3"/><circle cx="75.3" cy="185.0" r="1.3"/><circle cx="77.7" cy="188.6" r="1.3"/></g><g fill="#ff0000"><circle cx="58.3" cy="166.0" r="1.5"/><circle cx="60.7" cy="167.4" r="1.5"/><circle cx="63.2" cy="168.9" r="1.5"/><circle cx="65.6" cy="170.5" r="1.5"/><circle cx="68.0" cy="172.3" r="1.5"/><circle cx="70.4" cy="174.2" r="1.5"/><circle cx="72.9" cy="176.3" r="1.5"/><circle cx="75.3" cy="178.5" r="1.5"/><circle cx="77.7" cy="180.8" r="1.5"/><circle cx="80.1" cy="183.3" r="1.5"/><circle cx="82.6" cy="186.0" r="1.5"/><circle cx="85.0" cy="188.7" r="1.5"/></g><g fill="none" stroke="#0000ff" stroke-width="0.9"><circle cx="58.3" cy="168.5" r="1.3"/><circle cx="60.7" cy="169.4" r="1.3"/><circle cx="63.2" cy="170.5" r="1.3"/><circle cx="65.6" cy="171.8" r="1.3"/><circle cx="68.0" cy="173.1" r="1.3"/><circle cx="70.4" cy="174.7" r="1.3"/><circle cx="72.9" cy="176.3" r="1.3"/><circle cx="75.3" cy="178.2" r="1.3"/><circle cx="77.7" cy="180.1" r="1.3"/><circle cx="80.1" cy="182.2" r="1.3"/><circle cx="82.6" cy="184.4" r="1.3"/><circle cx="85.0" cy="186.8" r="1.3"/><circle cx="87.4" cy="189.3" r="1.3"/></g><g fill="#ff0000"><circle cx="58.3" cy="170.9" r="1.5"/><circle cx="60.7" cy="173.3" r="1.5"/><circle cx="63.2" cy="175.8" r="1.5"/><circle cx="65.6" cy="178.5" r="1.5"/><circle cx="68.0" cy="181.3" r="1.5"/><circle cx="70.4" cy="184.3" r="1.5"/><circle cx="72.9" cy="187.4" r="1.5"/><circle cx="75.3" cy="190.6" r="1.5"/></g><g fill="none" stroke="#0000ff" stroke-width="0.9"><circle cx="58.3" cy="173.4" r="1.3"/><circle cx="60.7" cy="174.4" r="1.3"/><circle cx="63.2" cy="175.7" r="1.3"/><circle cx="65.6" cy="177.0" r="1.3"/><circle cx="68.0" cy="178.5" r="1.3"/><circle cx="70.4" cy="180.2" r="1.3"/><circle cx="72.9" cy="182.0" r="1.3"/><circle cx="75.3" cy="183.9" r="1.3"/><circle cx="77.7" cy="186.0" r="1.3"/><circle cx="80.1" cy="188.2" r="1.3"/><circle cx="82.6" cy="190.6" r="1.3"/></g><g fill="#ff0000"><circle cx="58.3" cy="175.8" r="1.5"/><circle cx="60.7" cy="177.3" r="1.5"/><circle cx="63.2" cy="178.8" r="1.5"/><circle cx="65.6" cy="180.6" r="1.5"/><circle cx="68.0" cy="182.5" r="1.5"/><circle cx="70.4" cy="184.5" r="1.5"/><circle cx="72.9" cy="186.6" r="1.5"/><circle cx="75.3" cy="188.9" r="1.5"/></g><g fill="none" stroke="#0000ff" stroke-width="0.9"><circle cx="58.3" cy="178.3" r="1.3"/><circle cx="60.7" cy="179.8" r="1.3"/><circle cx="63.2" cy="181.6" r="1.3"/><circle cx="65.6" cy="183.5" r="1.3"/><circle cx="68.0" cy="185.5" r="1.3"/><circle cx="70.4" cy="187.6" r="1.3"/><circle cx="72.9" cy="189.9" r="1.3"/></g><g fill="#ff0000"><circle cx="58.3" cy="180.7" r="1.5"/><circle cx="60.7" cy="181.7" r="1.5"/><circle cx="63.2" cy="182.8" r="1.5"/><circle cx="65.6" cy="184.1" r="1.5"/><circle cx="68.0" cy="185.6" r="1.5"/><circle cx="70.4" cy="187.1" r="1.5"/><circle cx="72.9" cy="188.8" r="1.5"/><circle cx="75.3" cy="190.7" r="1.5"/></g><g fill="none" stroke="#0000ff" stroke-width="0.9"><circle cx="58.3" cy="183.2" r="1.3"/><circle cx="60.7" cy="185.4" r="1.3"/><circle cx="63.2" cy="187.7" r="1.3"/><circle cx="65.6" cy="190.2" r="1.3"/></g><g fill="#ff0000"><circle cx="58.3" cy="185.6" r="1.5"/><circle cx="60.7" cy="187.7" r="1.5"/><circle cx="63.2" cy="190.0" r="1.5"/><circle cx="126.2" cy="181.2" r="1.5"/><circle cx="128.7" cy="181.8" r="1.5"/><circle cx="131.1" cy="181.8" r="1.5"/><circle cx="133.6" cy="181.7" r="1.5"/><circle cx="136.0" cy="181.2" r="1.5"/><circle cx="138.5" cy="180.5" r="1.5"/><circle cx="141.0" cy="179.8" r="1.5"/><circle cx="143.5" cy="179.2" r="1.5"/><circle cx="145.9" cy="178.4" r="1.5"/><circle cx="148.4" cy="177.6" r="1.5"/><circle cx="150.9" cy="176.8" r="1.5"/><circle cx="153.3" cy="176.1" r="1.5"/><circle cx="155.8" cy="175.3" r="1.5"/><circle cx="158.3" cy="174.6" r="1.5"/><circle cx="160.8" cy="173.8" r="1.5"/><circle cx="163.2" cy="173.1" r="1.5"/><circle cx="165.7" cy="172.5" r="1.5"/><circle cx="168.2" cy="171.9" r="1.5"/><circle cx="170.6" cy="171.3" r="1.5"/><circle cx="173.1" cy="170.8" r="1.5"/><circle cx="175.6" cy="170.3" r="1.5"/><circle cx="178.1" cy="170.0" r="1.5"/><circle cx="180.5" cy="169.7" r="1.5"/><circle cx="183.0" cy="169.5" r="1.5"/><circle cx="185.4" cy="169.4" r="1.5"/><circle cx="187.9" cy="169.3" r="1.5"/><circle cx="190.3" cy="169.2" r="1.5"/><circle cx="192.7" cy="169.2" r="1.5"/><circle cx="195.2" cy="169.1" r="1.5"/><circle cx="197.6" cy="169.0" r="1.5"/><circle cx="200.1" cy="168.9" r="1.5"/><circle cx="202.5" cy="168.8" r="1.5"/><circle cx="204.9" cy="168.4" r="1.5"/><circle cx="207.4" cy="168.0" r="1.5"/><circle cx="209.8" cy="167.5" r="1.5"/><circle cx="212.2" cy="167.1" r="1.5"/><circle cx="214.7" cy="166.7" r="1.5"/><circle cx="217.1" cy="166.3" r="1.5"/><circle cx="219.6" cy="166.0" r="1.5"/><circle cx="222.0" cy="165.7" r="1.5"/><circle cx="224.4" cy="165.4" r="1.5"/><circle cx="226.9" cy="165.2" r="1.5"/><circle cx="229.3" cy="164.9" r="1.5"/><circle cx="231.7" cy="164.8" r="1.5"/><circle cx="234.2" cy="164.7" r="1.5"/><circle cx="236.6" cy="164.9" r="1.5"/><circle cx="239.0" cy="165.3" r="1.5"/><circle cx="241.5" cy="165.9" r="1.5"/><circle cx="243.9" cy="166.6" r="1.5"/><circle cx="246.4" cy="167.8" r="1.5"/><circle cx="248.8" cy="169.2" r="1.5"/><circle cx="251.2" cy="170.4" r="1.5"/><circle cx="253.7" cy="171.3" r="1.5"/><circle cx="256.1" cy="171.6" r="1.5"/><circle cx="258.6" cy="171.3" r="1.5"/><circle cx="261.1" cy="170.0" r="1.5"/><circle cx="263.6" cy="168.1" r="1.5"/><circle cx="266.0" cy="166.3" r="1.5"/><circle cx="268.5" cy="164.3" r="1.5"/><circle cx="271.0" cy="162.1" r="1.5"/><circle cx="273.5" cy="159.4" r="1.5"/><circle cx="276.0" cy="156.2" r="1.5"/><circle cx="278.5" cy="152.6" r="1.5"/><circle cx="281.0" cy="148.8" r="1.5"/><circle cx="283.4" cy="144.6" r="1.5"/><circle cx="285.9" cy="140.3" r="1.5"/><circle cx="288.4" cy="135.8" r="1.5"/><circle cx="290.9" cy="131.1" r="1.5"/><circle cx="293.4" cy="127.0" r="1.5"/><circle cx="295.9" cy="123.3" r="1.5"/><circle cx="298.4" cy="120.1" r="1.5"/><circle cx="300.8" cy="117.2" r="1.5"/><circle cx="303.3" cy="115.4" r="1.5"/><circle cx="305.8" cy="114.4" r="1.5"/><circle cx="308.3" cy="114.0" r="1.5"/><circle cx="126.2" cy="182.1" r="1.5"/><circle cx="128.7" cy="182.7" r="1.5"/><circle cx="131.1" cy="182.7" r="1.5"/><circle cx="133.6" cy="182.6" r="1.5"/><circle cx="136.0" cy="182.1" r="1.5"/><circle cx="138.5" cy="181.4" r="1.5"/><circle cx="141.0" cy="180.7" r="1.5"/><circle cx="143.5" cy="180.1" r="1.5"/><circle cx="145.9" cy="179.3" r="1.5"/><circle cx="148.4" cy="178.5" r="1.5"/><circle cx="150.9" cy="177.7" r="1.5"/><circle cx="153.3" cy="177.0" r="1.5"/><circle cx="155.8" cy="176.2" r="1.5"/><circle cx="158.3" cy="175.5" r="1.5"/><circle cx="160.8" cy="174.7" r="1.5"/><circle cx="163.2" cy="174.0" r="1.5"/><circle cx="165.7" cy="173.4" r="1.5"/><circle cx="168.2" cy="172.8" r="1.5"/><circle cx="170.6" cy="172.2" r="1.5"/><circle cx="173.1" cy="171.7" r="1.5"/><circle cx="175.6" cy="171.2" r="1.5"/><circle cx="178.1" cy="170.9" r="1.5"/><circle cx="180.5" cy="170.6" r="1.5"/><circle cx="183.0" cy="170.4" r="1.5"/><circle cx="185.4" cy="170.3" r="1.5"/><circle cx="187.9" cy="170.2" r="1.5"/><circle cx="190.3" cy="170.1" r="1.5"/><circle cx="192.7" cy="170.1" r="1.5"/><circle cx="195.2" cy="170.0" r="1.5"/><circle cx="197.6" cy="169.9" r="1.5"/><circle cx="200.1" cy="169.8" r="1.5"/><circle cx="202.5" cy="169.7" r="1.5"/><circle cx="204.9" cy="169.3" r="1.5"/><circle cx="207.4" cy="168.9" r="1.5"/><circle cx="209.8" cy="168.4" r="1.5"/><circle cx="212.2" cy="168.0" r="1.5"/><circle cx="214.7" cy="167.6" r="1.5"/><circle cx="217.1" cy="167.2" r="1.5"/><circle cx="219.6" cy="166.9" r="1.5"/><circle cx="222.0" cy="166.6" r="1.5"/><circle cx="224.4" cy="166.3" r="1.5"/><circle cx="226.9" cy="166.1" r="1.5"/><circle cx="229.3" cy="165.8" r="1.5"/><circle cx="231.7" cy="165.7" r="1.5"/><circle cx="234.2" cy="165.6" r="1.5"/><circle cx="236.6" cy="165.8" r="1.5"/><circle cx="239.0" cy="166.2" r="1.5"/><circle cx="241.5" cy="166.8" r="1.5"/><circle cx="243.9" cy="167.5" r="1.5"/><circle cx="246.4" cy="168.7" r="1.5"/><circle cx="248.8" cy="170.1" r="1.5"/><circle cx="251.2" cy="171.2" r="1.5"/><circle cx="253.7" cy="172.1" r="1.5"/></g><g fill="none" stroke="#0000ff" stroke-width="0.9"><circle cx="266.0" cy="163.7" r="1.3"/><circle cx="268.5" cy="161.7" r="1.3"/><circle cx="271.0" cy="159.5" r="1.3"/><circle cx="273.5" cy="156.8" r="1.3"/><circle cx="276.0" cy="153.6" r="1.3"/><circle cx="278.5" cy="150.0" r="1.3"/><circle cx="281.0" cy="146.2" r="1.3"/><circle cx="283.4" cy="142.0" r="1.3"/><circle cx="285.9" cy="137.7" r="1.3"/><circle cx="288.4" cy="133.2" r="1.3"/><circle cx="290.9" cy="128.5" r="1.3"/><circle cx="293.4" cy="124.4" r="1.3"/><circle cx="295.9" cy="120.7" r="1.3"/><circle cx="298.4" cy="117.5" r="1.3"/><circle cx="300.8" cy="114.6" r="1.3"/><circle cx="303.3" cy="112.8" r="1.3"/><circle cx="305.8" cy="111.8" r="1.3"/><circle cx="308.3" cy="111.4" r="1.3"/></g><g fill="#ff0000"><circle cx="248.8" cy="179.3" r="1.5"/><circle cx="251.2" cy="178.9" r="1.5"/><circle cx="253.7" cy="178.7" r="1.5"/><circle cx="256.1" cy="178.6" r="1.5"/><circle cx="258.6" cy="178.4" r="1.5"/><circle cx="261.1" cy="178.0" r="1.5"/><circle cx="263.6" cy="177.4" r="1.5"/><circle cx="266.0" cy="176.5" r="1.5"/><circle cx="268.5" cy="174.6" r="1.5"/><circle cx="271.0" cy="171.6" r="1.5"/><circle cx="273.5" cy="167.1" r="1.5"/></g><g fill="none" stroke="#0000ff" stroke-width="0.9"><circle cx="241.5" cy="181.9" r="1.3"/><circle cx="243.9" cy="181.8" r="1.3"/><circle cx="246.4" cy="181.7" r="1.3"/><circle cx="248.8" cy="181.6" r="1.3"/><circle cx="251.2" cy="181.6" r="1.3"/><circle cx="253.7" cy="181.6" r="1.3"/><circle cx="256.1" cy="181.5" r="1.3"/><circle cx="258.6" cy="181.4" r="1.3"/><circle cx="261.1" cy="181.1" r="1.3"/><circle cx="263.6" cy="180.9" r="1.3"/><circle cx="266.0" cy="180.6" r="1.3"/><circle cx="268.5" cy="179.9" r="1.3"/><circle cx="160.8" cy="187.7" r="1.3"/><circle cx="163.2" cy="186.7" r="1.3"/><circle cx="165.7" cy="186.5" r="1.3"/><circle cx="168.2" cy="186.5" r="1.3"/><circle cx="170.6" cy="186.4" r="1.3"/><circle cx="173.1" cy="186.4" r="1.3"/><circle cx="175.6" cy="186.4" r="1.3"/><circle cx="178.1" cy="186.4" r="1.3"/><circle cx="180.5" cy="186.4" r="1.3"/><circle cx="183.0" cy="186.4" r="1.3"/><circle cx="185.4" cy="186.4" r="1.3"/><circle cx="187.9" cy="186.4" r="1.3"/><circle cx="190.3" cy="186.3" r="1.3"/><circle cx="192.7" cy="186.1" r="1.3"/><circle cx="195.2" cy="185.9" r="1.3"/><circle cx="197.6" cy="185.8" r="1.3"/><circle cx="200.1" cy="185.6" r="1.3"/><circle cx="202.5" cy="185.4" r="1.3"/><circle cx="204.9" cy="185.3" r="1.3"/><circle cx="207.4" cy="185.1" r="1.3"/><circle cx="209.8" cy="184.9" r="1.3"/><circle cx="212.2" cy="184.7" r="1.3"/><circle cx="214.7" cy="184.6" r="1.3"/><circle cx="217.1" cy="184.4" r="1.3"/><circle cx="219.6" cy="184.4" r="1.3"/><circle cx="222.0" cy="184.4" r="1.3"/><circle cx="224.4" cy="184.4" r="1.3"/><circle cx="226.9" cy="184.4" r="1.3"/><circle cx="229.3" cy="184.5" r="1.3"/><circle cx="231.7" cy="184.5" r="1.3"/><circle cx="234.2" cy="184.5" r="1.3"/><circle cx="236.6" cy="184.5" r="1.3"/><circle cx="239.0" cy="184.6" r="1.3"/><circle cx="241.5" cy="184.6" r="1.3"/><circle cx="243.9" cy="184.7" r="1.3"/><circle cx="246.4" cy="184.8" r="1.3"/><circle cx="248.8" cy="184.9" r="1.3"/><circle cx="251.2" cy="185.0" r="1.3"/><circle cx="253.7" cy="185.1" r="1.3"/><circle cx="256.1" cy="185.3" r="1.3"/><circle cx="258.6" cy="185.5" r="1.3"/><circle cx="261.1" cy="185.9" r="1.3"/></g><g fill="#ff0000"><circle cx="187.9" cy="187.1" r="1.5"/><circle cx="190.3" cy="187.1" r="1.5"/><circle cx="192.7" cy="187.0" r="1.5"/><circle cx="195.2" cy="186.9" r="1.5"/><circle cx="197.6" cy="186.9" r="1.5"/><circle cx="200.1" cy="186.8" r="1.5"/><circle cx="202.5" cy="186.7" r="1.5"/><circle cx="204.9" cy="186.7" r="1.5"/><circle cx="207.4" cy="186.6" r="1.5"/><circle cx="209.8" cy="186.6" r="1.5"/><circle cx="212.2" cy="186.5" r="1.5"/><circle cx="214.7" cy="186.5" r="1.5"/><circle cx="217.1" cy="186.4" r="1.5"/><circle cx="219.6" cy="186.4" r="1.5"/><circle cx="222.0" cy="186.4" r="1.5"/><circle cx="224.4" cy="186.3" r="1.5"/><circle cx="226.9" cy="186.3" r="1.5"/><circle cx="229.3" cy="186.3" r="1.5"/><circle cx="231.7" cy="186.2" r="1.5"/><circle cx="234.2" cy="186.2" r="1.5"/><circle cx="236.6" cy="186.2" r="1.5"/><circle cx="239.0" cy="186.2" r="1.5"/><circle cx="241.5" cy="186.2" r="1.5"/><circle cx="243.9" cy="186.3" r="1.5"/><circle cx="246.4" cy="186.3" r="1.5"/><circle cx="248.8" cy="186.4" r="1.5"/><circle cx="251.2" cy="186.5" r="1.5"/><circle cx="253.7" cy="186.6" r="1.5"/><circle cx="256.1" cy="186.6" r="1.5"/><circle cx="258.6" cy="186.6" r="1.5"/><circle cx="261.1" cy="186.6" r="1.5"/><circle cx="263.6" cy="186.6" r="1.5"/><circle cx="266.0" cy="186.6" r="1.5"/><circle cx="268.5" cy="186.5" r="1.5"/><circle cx="236.6" cy="184.9" r="1.5"/><circle cx="239.0" cy="184.7" r="1.5"/><circle cx="241.5" cy="184.6" r="1.5"/><circle cx="243.9" cy="184.4" r="1.5"/><circle cx="246.4" cy="184.2" r="1.5"/><circle cx="248.8" cy="184.0" r="1.5"/><circle cx="251.2" cy="183.8" r="1.5"/><circle cx="253.7" cy="183.7" r="1.5"/><circle cx="256.1" cy="183.5" r="1.5"/><circle cx="258.6" cy="183.4" r="1.5"/><circle cx="261.1" cy="183.2" r="1.5"/><circle cx="263.6" cy="183.1" r="1.5"/><circle cx="266.0" cy="183.0" r="1.5"/><circle cx="268.5" cy="183.2" r="1.5"/><circle cx="271.0" cy="183.6" r="1.5"/><circle cx="273.5" cy="184.2" r="1.5"/><circle cx="276.0" cy="184.7" r="1.5"/><circle cx="278.5" cy="185.3" r="1.5"/><circle cx="281.0" cy="186.0" r="1.5"/><circle cx="283.4" cy="186.8" r="1.5"/></g><g fill="none" stroke="#0000ff" stroke-width="0.9"><circle cx="266.0" cy="187.9" r="1.3"/><circle cx="268.5" cy="181.6" r="1.3"/><circle cx="271.0" cy="174.8" r="1.3"/><circle cx="273.5" cy="168.3" r="1.3"/><circle cx="276.0" cy="161.8" r="1.3"/><circle cx="278.5" cy="155.3" r="1.3"/><circle cx="281.0" cy="149.0" r="1.3"/><circle cx="283.4" cy="143.1" r="1.3"/><circle cx="285.9" cy="137.6" r="1.3"/><circle cx="288.4" cy="132.8" r="1.3"/><circle cx="290.9" cy="128.6" r="1.3"/><circle cx="293.4" cy="125.3" r="1.3"/><circle cx="295.9" cy="123.2" r="1.3"/><circle cx="298.4" cy="122.4" r="1.3"/><circle cx="300.8" cy="122.2" r="1.3"/><circle cx="303.3" cy="122.1" r="1.3"/><circle cx="305.8" cy="122.1" r="1.3"/><circle cx="308.3" cy="122.1" r="1.3"/></g><g fill="#ff0000"><circle cx="266.0" cy="187.9" r="1.5"/><circle cx="268.5" cy="181.6" r="1.5"/><circle cx="271.0" cy="174.8" r="1.5"/><circle cx="273.5" cy="168.3" r="1.5"/><circle cx="276.0" cy="161.8" r="1.5"/><circle cx="278.5" cy="155.3" r="1.5"/><circle cx="281.0" cy="149.0" r="1.5"/><circle cx="283.4" cy="143.1" r="1.5"/><circle cx="285.9" cy="137.7" r="1.5"/><circle cx="288.4" cy="132.8" r="1.5"/><circle cx="290.9" cy="128.9" r="1.5"/><circle cx="293.4" cy="126.5" r="1.5"/><circle cx="295.9" cy="125.6" r="1.5"/><circle cx="298.4" cy="125.4" r="1.5"/><circle cx="300.8" cy="125.3" r="1.5"/><circle cx="303.3" cy="125.3" r="1.5"/><circle cx="305.8" cy="125.3" r="1.5"/><circle cx="308.3" cy="125.3" r="1.5"/><circle cx="266.0" cy="187.9" r="1.5"/><circle cx="268.5" cy="181.6" r="1.5"/><circle cx="271.0" cy="174.8" r="1.5"/><circle cx="273.5" cy="168.3" r="1.5"/><circle cx="276.0" cy="161.8" r="1.5"/><circle cx="278.5" cy="155.3" r="1.5"/><circle cx="281.0" cy="149.0" r="1.5"/><circle cx="283.4" cy="143.1" r="1.5"/><circle cx="285.9" cy="137.7" r="1.5"/><circle cx="288.4" cy="132.9" r="1.5"/><circle cx="290.9" cy="129.5" r="1.5"/><circle cx="293.4" cy="128.0" r="1.5"/><circle cx="295.9" cy="127.7" r="1.5"/><circle cx="298.4" cy="127.6" r="1.5"/><circle cx="300.8" cy="127.6" r="1.5"/><circle cx="303.3" cy="127.6" r="1.5"/><circle cx="305.8" cy="127.6" r="1.5"/><circle cx="308.3" cy="127.6" r="1.5"/></g><g fill="none" stroke="#0000ff" stroke-width="0.9"><circle cx="266.0" cy="187.9" r="1.3"/><circle cx="268.5" cy="181.6" r="1.3"/><circle cx="271.0" cy="174.8" r="1.3"/><circle cx="273.5" cy="168.3" r="1.3"/><circle cx="276.0" cy="161.8" r="1.3"/><circle cx="278.5" cy="155.3" r="1.3"/><circle cx="281.0" cy="149.0" r="1.3"/><circle cx="283.4" cy="143.1" r="1.3"/><circle cx="285.9" cy="137.7" r="1.3"/><circle cx="288.4" cy="133.3" r="1.3"/><circle cx="290.9" cy="131.0" r="1.3"/><circle cx="293.4" cy="130.4" r="1.3"/><circle cx="295.9" cy="130.3" r="1.3"/><circle cx="298.4" cy="130.3" r="1.3"/><circle cx="300.8" cy="130.3" r="1.3"/><circle cx="303.3" cy="130.3" r="1.3"/><circle cx="305.8" cy="130.3" r="1.3"/><circle cx="308.3" cy="130.3" r="1.3"/></g><g fill="#ff0000"><circle cx="266.0" cy="187.9" r="1.5"/><circle cx="268.5" cy="181.6" r="1.5"/><circle cx="271.0" cy="174.8" r="1.5"/><circle cx="273.5" cy="168.3" r="1.5"/><circle cx="276.0" cy="161.8" r="1.5"/><circle cx="278.5" cy="155.3" r="1.5"/><circle cx="281.0" cy="149.0" r="1.5"/><circle cx="283.4" cy="143.1" r="1.5"/><circle cx="285.9" cy="137.9" r="1.5"/><circle cx="288.4" cy="134.4" r="1.5"/><circle cx="290.9" cy="133.4" r="1.5"/><circle cx="293.4" cy="133.2" r="1.5"/><circle cx="295.9" cy="133.2" r="1.5"/><circle cx="298.4" cy="133.2" r="1.5"/><circle cx="300.8" cy="133.2" r="1.5"/><circle cx="303.3" cy="133.2" r="1.5"/><circle cx="305.8" cy="133.2" r="1.5"/><circle cx="308.3" cy="133.2" r="1.5"/><circle cx="266.0" cy="187.9" r="1.5"/><circle cx="268.5" cy="181.6" r="1.5"/><circle cx="271.0" cy="174.8" r="1.5"/><circle cx="273.5" cy="168.3" r="1.5"/><circle cx="276.0" cy="161.8" r="1.5"/><circle cx="278.5" cy="155.3" r="1.5"/><circle cx="281.0" cy="149.0" r="1.5"/><circle cx="283.4" cy="143.2" r="1.5"/><circle cx="285.9" cy="138.2" r="1.5"/><circle cx="288.4" cy="136.0" r="1.5"/><circle cx="290.9" cy="135.6" r="1.5"/><circle cx="293.4" cy="135.5" r="1.5"/><circle cx="295.9" cy="135.5" r="1.5"/><circle cx="298.4" cy="135.5" r="1.5"/><circle cx="300.8" cy="135.5" r="1.5"/><circle cx="303.3" cy="135.5" r="1.5"/><circle cx="305.8" cy="135.5" r="1.5"/><circle cx="308.3" cy="135.5" r="1.5"/></g><g fill="none" stroke="#0000ff" stroke-width="0.9"><circle cx="266.0" cy="187.9" r="1.3"/><circle cx="268.5" cy="181.6" r="1.3"/><circle cx="271.0" cy="174.8" r="1.3"/><circle cx="273.5" cy="168.3" r="1.3"/><circle cx="276.0" cy="161.8" r="1.3"/><circle cx="278.5" cy="155.3" r="1.3"/><circle cx="281.0" cy="149.0" r="1.3"/><circle cx="283.4" cy="143.4" r="1.3"/><circle cx="285.9" cy="140.3" r="1.3"/><circle cx="288.4" cy="139.8" r="1.3"/><circle cx="290.9" cy="139.7" r="1.3"/><circle cx="293.4" cy="139.7" r="1.3"/><circle cx="295.9" cy="139.7" r="1.3"/><circle cx="298.4" cy="139.7" r="1.3"/><circle cx="300.8" cy="139.7" r="1.3"/><circle cx="303.3" cy="139.7" r="1.3"/><circle cx="305.8" cy="139.7" r="1.3"/><circle cx="308.3" cy="139.7" r="1.3"/></g><g fill="#ff0000"><circle cx="266.0" cy="187.9" r="1.5"/><circle cx="268.5" cy="181.6" r="1.5"/><circle cx="271.0" cy="174.8" r="1.5"/><circle cx="273.5" cy="168.3" r="1.5"/><circle cx="276.0" cy="161.8" r="1.5"/><circle cx="278.5" cy="155.3" r="1.5"/><circle cx="281.0" cy="149.2" r="1.5"/><circle cx="283.4" cy="144.9" r="1.5"/><circle cx="285.9" cy="143.9" r="1.5"/><circle cx="288.4" cy="143.8" r="1.5"/><circle cx="290.9" cy="143.8" r="1.5"/><circle cx="293.4" cy="143.8" r="1.5"/><circle cx="295.9" cy="143.8" r="1.5"/><circle cx="298.4" cy="143.8" r="1.5"/><circle cx="300.8" cy="143.8" r="1.5"/><circle cx="303.3" cy="143.8" r="1.5"/><circle cx="305.8" cy="143.8" r="1.5"/><circle cx="308.3" cy="143.8" r="1.5"/><circle cx="266.0" cy="187.9" r="1.5"/><circle cx="268.5" cy="181.6" r="1.5"/><circle cx="271.0" cy="174.8" r="1.5"/><circle cx="273.5" cy="168.3" r="1.5"/><circle cx="276.0" cy="161.8" r="1.5"/><circle cx="278.5" cy="155.3" r="1.5"/><circle cx="281.0" cy="149.4" r="1.5"/><circle cx="283.4" cy="146.1" r="1.5"/><circle cx="285.9" cy="145.6" r="1.5"/><circle cx="288.4" cy="145.6" r="1.5"/><circle cx="290.9" cy="145.6" r="1.5"/><circle cx="293.4" cy="145.6" r="1.5"/><circle cx="295.9" cy="145.6" r="1.5"/><circle cx="298.4" cy="145.6" r="1.5"/><circle cx="300.8" cy="145.6" r="1.5"/><circle cx="303.3" cy="145.6" r="1.5"/><circle cx="305.8" cy="145.6" r="1.5"/><circle cx="308.3" cy="145.6" r="1.5"/></g><g fill="none" stroke="#0000ff" stroke-width="0.9"><circle cx="266.0" cy="187.9" r="1.3"/><circle cx="268.5" cy="181.6" r="1.3"/><circle cx="271.0" cy="174.8" r="1.3"/><circle cx="273.5" cy="168.3" r="1.3"/><circle cx="276.0" cy="161.8" r="1.3"/><circle cx="278.5" cy="155.4" r="1.3"/><circle cx="281.0" cy="150.3" r="1.3"/><circle cx="283.4" cy="148.9" r="1.3"/><circle cx="285.9" cy="148.8" r="1.3"/><circle cx="288.4" cy="148.8" r="1.3"/><circle cx="290.9" cy="148.8" r="1.3"/><circle cx="293.4" cy="148.8" r="1.3"/><circle cx="295.9" cy="148.8" r="1.3"/><circle cx="298.4" cy="148.8" r="1.3"/><circle cx="300.8" cy="148.8" r="1.3"/><circle cx="303.3" cy="148.8" r="1.3"/><circle cx="305.8" cy="148.8" r="1.3"/><circle cx="308.3" cy="148.8" r="1.3"/></g><g fill="#ff0000"><circle cx="266.0" cy="187.9" r="1.5"/><circle cx="268.5" cy="181.6" r="1.5"/><circle cx="271.0" cy="174.8" r="1.5"/><circle cx="273.5" cy="168.3" r="1.5"/><circle cx="276.0" cy="161.8" r="1.5"/><circle cx="278.5" cy="156.3" r="1.5"/><circle cx="281.0" cy="154.5" r="1.5"/><circle cx="283.4" cy="154.4" r="1.5"/><circle cx="285.9" cy="154.4" r="1.5"/><circle cx="288.4" cy="154.4" r="1.5"/><circle cx="290.9" cy="154.4" r="1.5"/><circle cx="293.4" cy="154.4" r="1.5"/><circle cx="295.9" cy="154.4" r="1.5"/><circle cx="298.4" cy="154.4" r="1.5"/><circle cx="300.8" cy="154.4" r="1.5"/><circle cx="303.3" cy="154.4" r="1.5"/><circle cx="305.8" cy="154.4" r="1.5"/><circle cx="308.3" cy="154.4" r="1.5"/><circle cx="266.0" cy="187.9" r="1.5"/><circle cx="268.5" cy="181.6" r="1.5"/><circle cx="271.0" cy="174.8" r="1.5"/><circle cx="273.5" cy="168.3" r="1.5"/><circle cx="276.0" cy="161.9" r="1.5"/><circle cx="278.5" cy="157.2" r="1.5"/><circle cx="281.0" cy="156.4" r="1.5"/><circle cx="283.4" cy="156.3" r="1.5"/><circle cx="285.9" cy="156.3" r="1.5"/><circle cx="288.4" cy="156.3" r="1.5"/><circle cx="290.9" cy="156.3" r="1.5"/><circle cx="293.4" cy="156.3" r="1.5"/><circle cx="295.9" cy="156.3" r="1.5"/><circle cx="298.4" cy="156.3" r="1.5"/><circle cx="300.8" cy="156.3" r="1.5"/><circle cx="303.3" cy="156.3" r="1.5"/><circle cx="305.8" cy="156.3" r="1.5"/><circle cx="308.3" cy="156.3" r="1.5"/></g><g fill="none" stroke="#0000ff" stroke-width="0.9"><circle cx="266.0" cy="187.9" r="1.3"/><circle cx="268.5" cy="181.6" r="1.3"/><circle cx="271.0" cy="174.8" r="1.3"/><circle cx="273.5" cy="168.3" r="1.3"/><circle cx="276.0" cy="162.3" r="1.3"/><circle cx="278.5" cy="159.7" r="1.3"/><circle cx="281.0" cy="159.5" r="1.3"/><circle cx="283.4" cy="159.5" r="1.3"/><circle cx="285.9" cy="159.5" r="1.3"/><circle cx="288.4" cy="159.5" r="1.3"/><circle cx="290.9" cy="159.5" r="1.3"/><circle cx="293.4" cy="159.5" r="1.3"/><circle cx="295.9" cy="159.5" r="1.3"/><circle cx="298.4" cy="159.5" r="1.3"/><circle cx="300.8" cy="159.5" r="1.3"/><circle cx="303.3" cy="159.5" r="1.3"/><circle cx="305.8" cy="159.5" r="1.3"/><circle cx="308.3" cy="159.5" r="1.3"/></g><g fill="#ff0000"><circle cx="266.0" cy="187.9" r="1.5"/><circle cx="268.5" cy="181.6" r="1.5"/><circle cx="271.0" cy="174.8" r="1.5"/><circle cx="273.5" cy="168.5" r="1.5"/><circle cx="276.0" cy="164.4" r="1.5"/><circle cx="278.5" cy="163.8" r="1.5"/><circle cx="281.0" cy="163.8" r="1.5"/><circle cx="283.4" cy="163.8" r="1.5"/><circle cx="285.9" cy="163.8" r="1.5"/><circle cx="288.4" cy="163.8" r="1.5"/><circle cx="290.9" cy="163.8" r="1.5"/><circle cx="293.4" cy="163.8" r="1.5"/><circle cx="295.9" cy="163.8" r="1.5"/><circle cx="298.4" cy="163.8" r="1.5"/><circle cx="300.8" cy="163.8" r="1.5"/><circle cx="303.3" cy="163.8" r="1.5"/><circle cx="305.8" cy="163.8" r="1.5"/><circle cx="308.3" cy="163.8" r="1.5"/></g><g fill="none" stroke="#0000ff" stroke-width="0.9"><circle cx="266.0" cy="187.9" r="1.3"/><circle cx="268.5" cy="181.6" r="1.3"/><circle cx="271.0" cy="174.9" r="1.3"/><circle cx="273.5" cy="169.3" r="1.3"/><circle cx="276.0" cy="167.6" r="1.3"/><circle cx="278.5" cy="167.5" r="1.3"/><circle cx="281.0" cy="167.5" r="1.3"/><circle cx="283.4" cy="167.5" r="1.3"/><circle cx="285.9" cy="167.5" r="1.3"/><circle cx="288.4" cy="167.5" r="1.3"/><circle cx="290.9" cy="167.5" r="1.3"/><circle cx="293.4" cy="167.5" r="1.3"/><circle cx="295.9" cy="167.5" r="1.3"/><circle cx="298.4" cy="167.5" r="1.3"/><circle cx="300.8" cy="167.5" r="1.3"/><circle cx="303.3" cy="167.5" r="1.3"/><circle cx="305.8" cy="167.5" r="1.3"/><circle cx="308.3" cy="167.5" r="1.3"/></g><g fill="#ff0000"><circle cx="266.0" cy="187.9" r="1.5"/><circle cx="268.5" cy="181.6" r="1.5"/><circle cx="271.0" cy="175.8" r="1.5"/><circle cx="273.5" cy="173.9" r="1.5"/><circle cx="276.0" cy="173.8" r="1.5"/><circle cx="278.5" cy="173.8" r="1.5"/><circle cx="281.0" cy="173.8" r="1.5"/><circle cx="283.4" cy="173.8" r="1.5"/><circle cx="285.9" cy="173.8" r="1.5"/><circle cx="288.4" cy="173.8" r="1.5"/><circle cx="290.9" cy="173.8" r="1.5"/><circle cx="293.4" cy="173.8" r="1.5"/><circle cx="295.9" cy="173.8" r="1.5"/><circle cx="298.4" cy="173.8" r="1.5"/><circle cx="300.8" cy="173.8" r="1.5"/><circle cx="303.3" cy="173.8" r="1.5"/><circle cx="305.8" cy="173.8" r="1.5"/><circle cx="308.3" cy="173.8" r="1.5"/><circle cx="266.0" cy="187.9" r="1.5"/><circle cx="268.5" cy="181.7" r="1.5"/><circle cx="271.0" cy="176.6" r="1.5"/><circle cx="273.5" cy="175.7" r="1.5"/><circle cx="276.0" cy="175.6" r="1.5"/><circle cx="278.5" cy="175.6" r="1.5"/><circle cx="281.0" cy="175.6" r="1.5"/><circle cx="283.4" cy="175.6" r="1.5"/><circle cx="285.9" cy="175.6" r="1.5"/><circle cx="288.4" cy="175.6" r="1.5"/><circle cx="290.9" cy="175.6" r="1.5"/><circle cx="293.4" cy="175.6" r="1.5"/><circle cx="295.9" cy="175.6" r="1.5"/><circle cx="298.4" cy="175.6" r="1.5"/><circle cx="300.8" cy="175.6" r="1.5"/><circle cx="303.3" cy="175.6" r="1.5"/><circle cx="305.8" cy="175.6" r="1.5"/><circle cx="308.3" cy="175.6" r="1.5"/></g><g fill="none" stroke="#0000ff" stroke-width="0.9"><circle cx="266.0" cy="187.9" r="1.3"/><circle cx="268.5" cy="181.9" r="1.3"/><circle cx="271.0" cy="178.4" r="1.3"/><circle cx="273.5" cy="178.0" r="1.3"/><circle cx="276.0" cy="178.0" r="1.3"/><circle cx="278.5" cy="178.0" r="1.3"/><circle cx="281.0" cy="178.0" r="1.3"/><circle cx="283.4" cy="178.0" r="1.3"/><circle cx="285.9" cy="178.0" r="1.3"/><circle cx="288.4" cy="178.0" r="1.3"/><circle cx="290.9" cy="178.0" r="1.3"/><circle cx="293.4" cy="178.0" r="1.3"/><circle cx="295.9" cy="178.0" r="1.3"/><circle cx="298.4" cy="178.0" r="1.3"/><circle cx="300.8" cy="178.0" r="1.3"/><circle cx="303.3" cy="178.0" r="1.3"/><circle cx="305.8" cy="178.0" r="1.3"/><circle cx="308.3" cy="178.0" r="1.3"/><circle cx="266.0" cy="188.1" r="1.3"/><circle cx="268.5" cy="184.0" r="1.3"/><circle cx="271.0" cy="183.3" r="1.3"/><circle cx="273.5" cy="183.3" r="1.3"/><circle cx="276.0" cy="183.3" r="1.3"/><circle cx="278.5" cy="183.3" r="1.3"/><circle cx="281.0" cy="183.3" r="1.3"/><circle cx="283.4" cy="183.3" r="1.3"/><circle cx="285.9" cy="183.3" r="1.3"/><circle cx="288.4" cy="183.3" r="1.3"/><circle cx="290.9" cy="183.3" r="1.3"/><circle cx="293.4" cy="183.3" r="1.3"/><circle cx="295.9" cy="183.3" r="1.3"/><circle cx="298.4" cy="183.3" r="1.3"/><circle cx="300.8" cy="183.3" r="1.3"/><circle cx="303.3" cy="183.3" r="1.3"/><circle cx="305.8" cy="183.3" r="1.3"/><circle cx="308.3" cy="183.3" r="1.3"/></g><g fill="#ff0000"><circle cx="263.6" cy="173.9" r="1.5"/><circle cx="266.0" cy="171.4" r="1.5"/><circle cx="268.5" cy="168.4" r="1.5"/><circle cx="271.0" cy="165.0" r="1.5"/><circle cx="273.5" cy="161.4" r="1.5"/><circle cx="276.0" cy="157.3" r="1.5"/><circle cx="278.5" cy="153.0" r="1.5"/><circle cx="281.0" cy="148.6" r="1.5"/><circle cx="283.4" cy="144.0" r="1.5"/><circle cx="285.9" cy="139.4" r="1.5"/><circle cx="288.4" cy="134.8" r="1.5"/><circle cx="290.9" cy="130.2" r="1.5"/><circle cx="293.4" cy="126.2" r="1.5"/><circle cx="295.9" cy="122.6" r="1.5"/><circle cx="298.4" cy="119.6" r="1.5"/><circle cx="300.8" cy="117.0" r="1.5"/><circle cx="303.3" cy="115.4" r="1.5"/><circle cx="305.8" cy="114.5" r="1.5"/><circle cx="308.3" cy="114.1" r="1.5"/><circle cx="263.6" cy="179.8" r="1.5"/><circle cx="266.0" cy="176.6" r="1.5"/><circle cx="268.5" cy="172.5" r="1.5"/><circle cx="271.0" cy="168.0" r="1.5"/><circle cx="273.5" cy="163.4" r="1.5"/><circle cx="276.0" cy="158.5" r="1.5"/><circle cx="278.5" cy="153.4" r="1.5"/><circle cx="281.0" cy="148.4" r="1.5"/><circle cx="283.4" cy="143.4" r="1.5"/><circle cx="285.9" cy="138.5" r="1.5"/><circle cx="288.4" cy="133.8" r="1.5"/><circle cx="290.9" cy="129.3" r="1.5"/><circle cx="293.4" cy="125.4" r="1.5"/><circle cx="295.9" cy="122.0" r="1.5"/><circle cx="298.4" cy="119.2" r="1.5"/><circle cx="300.8" cy="116.9" r="1.5"/><circle cx="303.3" cy="115.4" r="1.5"/><circle cx="305.8" cy="114.6" r="1.5"/><circle cx="308.3" cy="114.2" r="1.5"/><circle cx="263.6" cy="185.6" r="1.5"/><circle cx="266.0" cy="181.8" r="1.5"/><circle cx="268.5" cy="176.5" r="1.5"/><circle cx="271.0" cy="170.9" r="1.5"/><circle cx="273.5" cy="165.3" r="1.5"/><circle cx="276.0" cy="159.6" r="1.5"/><circle cx="278.5" cy="153.9" r="1.5"/><circle cx="281.0" cy="148.2" r="1.5"/><circle cx="283.4" cy="142.7" r="1.5"/><circle cx="285.9" cy="137.6" r="1.5"/><circle cx="288.4" cy="132.8" r="1.5"/><circle cx="290.9" cy="128.4" r="1.5"/><circle cx="293.4" cy="124.6" r="1.5"/><circle cx="295.9" cy="121.3" r="1.5"/><circle cx="298.4" cy="118.7" r="1.5"/><circle cx="300.8" cy="116.7" r="1.5"/><circle cx="303.3" cy="115.4" r="1.5"/><circle cx="305.8" cy="114.7" r="1.5"/><circle cx="308.3" cy="114.4" r="1.5"/><circle cx="263.6" cy="191.4" r="1.5"/><circle cx="266.0" cy="186.9" r="1.5"/><circle cx="268.5" cy="180.6" r="1.5"/><circle cx="271.0" cy="173.8" r="1.5"/><circle cx="273.5" cy="167.3" r="1.5"/><circle cx="276.0" cy="160.8" r="1.5"/><circle cx="278.5" cy="154.3" r="1.5"/><circle cx="281.0" cy="148.0" r="1.5"/><circle cx="283.4" cy="142.1" r="1.5"/><circle cx="285.9" cy="136.6" r="1.5"/><circle cx="288.4" cy="131.8" r="1.5"/><circle cx="290.9" cy="127.5" r="1.5"/><circle cx="293.4" cy="123.8" r="1.5"/><circle cx="295.9" cy="120.7" r="1.5"/><circle cx="298.4" cy="118.2" r="1.5"/><circle cx="300.8" cy="116.5" r="1.5"/><circle cx="303.3" cy="115.4" r="1.5"/><circle cx="305.8" cy="114.8" r="1.5"/><circle cx="308.3" cy="114.5" r="1.5"/><circle cx="263.6" cy="181.6" r="1.5"/><circle cx="266.0" cy="180.0" r="1.5"/><circle cx="268.5" cy="175.4" r="1.5"/><circle cx="271.0" cy="169.8" r="1.5"/><circle cx="273.5" cy="164.2" r="1.5"/><circle cx="276.0" cy="158.1" r="1.5"/><circle cx="278.5" cy="151.9" r="1.5"/><circle cx="281.0" cy="145.9" r="1.5"/><circle cx="283.4" cy="140.3" r="1.5"/><circle cx="285.9" cy="135.1" r="1.5"/><circle cx="288.4" cy="130.6" r="1.5"/><circle cx="290.9" cy="126.7" r="1.5"/><circle cx="293.4" cy="123.3" r="1.5"/><circle cx="295.9" cy="120.6" r="1.5"/><circle cx="298.4" cy="118.3" r="1.5"/><circle cx="300.8" cy="117.3" r="1.5"/><circle cx="303.3" cy="116.9" r="1.5"/><circle cx="305.8" cy="116.6" r="1.5"/><circle cx="308.3" cy="116.5" r="1.5"/></g><g fill="none" stroke="#0000ff" stroke-width="0.9"><circle cx="285.0" cy="183.0" r="1.3"/><circle cx="290.0" cy="186.0" r="1.3"/><circle cx="293.0" cy="181.5" r="1.3"/><circle cx="298.0" cy="185.0" r="1.3"/><circle cx="300.0" cy="182.5" r="1.3"/><circle cx="305.0" cy="186.5" r="1.3"/><circle cx="308.0" cy="184.0" r="1.3"/></g><g fill="#ff0000"><circle cx="58.3" cy="22.0" r="1.5"/><circle cx="60.7" cy="20.5" r="1.5"/><circle cx="63.2" cy="19.0" r="1.5"/><circle cx="65.6" cy="17.7" r="1.5"/><circle cx="68.0" cy="16.6" r="1.5"/><circle cx="70.4" cy="15.6" r="1.5"/><circle cx="72.9" cy="14.6" r="1.5"/><circle cx="75.3" cy="13.4" r="1.5"/><circle cx="77.7" cy="11.6" r="1.5"/><circle cx="80.1" cy="10.2" r="1.5"/><circle cx="82.6" cy="9.0" r="1.5"/><circle cx="85.0" cy="7.6" r="1.5"/><circle cx="87.4" cy="7.3" r="1.5"/><circle cx="89.8" cy="8.8" r="1.5"/><circle cx="92.3" cy="11.9" r="1.5"/><circle cx="94.7" cy="15.8" r="1.5"/><circle cx="97.1" cy="20.3" r="1.5"/><circle cx="99.6" cy="24.9" r="1.5"/><circle cx="102.0" cy="29.4" r="1.5"/><circle cx="104.4" cy="33.5" r="1.5"/><circle cx="106.8" cy="37.7" r="1.5"/><circle cx="109.3" cy="43.0" r="1.5"/><circle cx="111.7" cy="47.9" r="1.5"/><circle cx="114.1" cy="52.2" r="1.5"/><circle cx="116.5" cy="55.8" r="1.5"/><circle cx="119.0" cy="58.8" r="1.5"/><circle cx="121.4" cy="61.4" r="1.5"/><circle cx="123.8" cy="63.6" r="1.5"/><circle cx="126.2" cy="65.5" r="1.5"/><circle cx="128.7" cy="66.7" r="1.5"/><circle cx="131.1" cy="67.3" r="1.5"/><circle cx="133.6" cy="67.1" r="1.5"/><circle cx="136.0" cy="66.6" r="1.5"/><circle cx="138.5" cy="64.9" r="1.5"/><circle cx="141.0" cy="62.8" r="1.5"/><circle cx="143.5" cy="60.2" r="1.5"/><circle cx="145.9" cy="56.9" r="1.5"/><circle cx="148.4" cy="53.4" r="1.5"/><circle cx="150.9" cy="50.1" r="1.5"/><circle cx="153.3" cy="46.5" r="1.5"/><circle cx="155.8" cy="42.6" r="1.5"/><circle cx="158.3" cy="39.3" r="1.5"/><circle cx="160.8" cy="37.1" r="1.5"/><circle cx="163.2" cy="36.0" r="1.5"/><circle cx="165.7" cy="36.6" r="1.5"/><circle cx="168.2" cy="38.7" r="1.5"/><circle cx="170.6" cy="42.3" r="1.5"/><circle cx="173.1" cy="46.4" r="1.5"/><circle cx="175.6" cy="50.5" r="1.5"/><circle cx="178.1" cy="53.8" r="1.5"/><circle cx="180.5" cy="55.5" r="1.5"/><circle cx="183.0" cy="56.1" r="1.5"/><circle cx="185.4" cy="55.3" r="1.5"/><circle cx="187.9" cy="53.5" r="1.5"/><circle cx="190.3" cy="50.4" r="1.5"/><circle cx="192.7" cy="46.4" r="1.5"/><circle cx="195.2" cy="39.7" r="1.5"/><circle cx="197.6" cy="34.1" r="1.5"/><circle cx="200.1" cy="26.1" r="1.5"/><circle cx="202.5" cy="17.1" r="1.5"/><circle cx="204.9" cy="7.3" r="1.5"/></g><g fill="none" stroke="#0000ff" stroke-width="0.9"><circle cx="165.7" cy="10.5" r="1.3"/><circle cx="168.2" cy="23.9" r="1.3"/><circle cx="170.6" cy="33.8" r="1.3"/><circle cx="173.1" cy="40.0" r="1.3"/><circle cx="175.6" cy="47.0" r="1.3"/><circle cx="178.1" cy="51.2" r="1.3"/><circle cx="180.5" cy="53.8" r="1.3"/><circle cx="183.0" cy="55.2" r="1.3"/><circle cx="185.4" cy="54.0" r="1.3"/><circle cx="187.9" cy="51.6" r="1.3"/><circle cx="190.3" cy="47.6" r="1.3"/><circle cx="192.7" cy="41.1" r="1.3"/><circle cx="195.2" cy="34.5" r="1.3"/><circle cx="197.6" cy="26.4" r="1.3"/><circle cx="200.1" cy="12.7" r="1.3"/><circle cx="163.2" cy="4.8" r="1.3"/><circle cx="165.7" cy="11.4" r="1.3"/><circle cx="168.2" cy="21.2" r="1.3"/><circle cx="170.6" cy="28.5" r="1.3"/><circle cx="173.1" cy="33.4" r="1.3"/><circle cx="175.6" cy="37.5" r="1.3"/><circle cx="178.1" cy="39.8" r="1.3"/><circle cx="180.5" cy="40.8" r="1.3"/><circle cx="183.0" cy="41.3" r="1.3"/><circle cx="185.4" cy="41.0" r="1.3"/><circle cx="187.9" cy="40.3" r="1.3"/><circle cx="190.3" cy="38.7" r="1.3"/><circle cx="192.7" cy="36.2" r="1.3"/><circle cx="195.2" cy="32.5" r="1.3"/><circle cx="197.6" cy="27.4" r="1.3"/><circle cx="200.1" cy="21.5" r="1.3"/><circle cx="202.5" cy="13.4" r="1.3"/><circle cx="204.9" cy="2.3" r="1.3"/></g><g fill="#ff0000"><circle cx="165.7" cy="8.9" r="1.5"/><circle cx="168.2" cy="16.6" r="1.5"/><circle cx="170.6" cy="26.3" r="1.5"/><circle cx="173.1" cy="32.0" r="1.5"/><circle cx="175.6" cy="36.9" r="1.5"/><circle cx="178.1" cy="40.6" r="1.5"/><circle cx="180.5" cy="42.6" r="1.5"/><circle cx="183.0" cy="43.5" r="1.5"/><circle cx="185.4" cy="42.9" r="1.5"/><circle cx="187.9" cy="41.7" r="1.5"/><circle cx="190.3" cy="39.7" r="1.5"/><circle cx="192.7" cy="36.6" r="1.5"/><circle cx="195.2" cy="32.5" r="1.5"/><circle cx="197.6" cy="27.2" r="1.5"/><circle cx="200.1" cy="21.0" r="1.5"/><circle cx="202.5" cy="12.3" r="1.5"/><circle cx="204.9" cy="0.3" r="1.5"/><circle cx="170.6" cy="6.7" r="1.5"/><circle cx="173.1" cy="16.5" r="1.5"/><circle cx="175.6" cy="22.7" r="1.5"/><circle cx="178.1" cy="25.7" r="1.5"/><circle cx="180.5" cy="27.4" r="1.5"/><circle cx="183.0" cy="28.1" r="1.5"/><circle cx="185.4" cy="27.7" r="1.5"/><circle cx="187.9" cy="26.7" r="1.5"/><circle cx="190.3" cy="25.4" r="1.5"/><circle cx="192.7" cy="23.2" r="1.5"/><circle cx="195.2" cy="20.8" r="1.5"/><circle cx="197.6" cy="18.2" r="1.5"/><circle cx="200.1" cy="14.9" r="1.5"/><circle cx="202.5" cy="10.4" r="1.5"/><circle cx="204.9" cy="5.0" r="1.5"/></g><g fill="none" stroke="#0000ff" stroke-width="0.9"><circle cx="163.2" cy="2.4" r="1.3"/><circle cx="165.7" cy="6.0" r="1.3"/><circle cx="168.2" cy="8.1" r="1.3"/><circle cx="170.6" cy="10.2" r="1.3"/><circle cx="173.1" cy="11.5" r="1.3"/><circle cx="175.6" cy="12.3" r="1.3"/><circle cx="178.1" cy="12.8" r="1.3"/><circle cx="180.5" cy="13.1" r="1.3"/><circle cx="183.0" cy="13.2" r="1.3"/><circle cx="185.4" cy="13.1" r="1.3"/><circle cx="187.9" cy="12.8" r="1.3"/><circle cx="190.3" cy="12.1" r="1.3"/><circle cx="192.7" cy="10.7" r="1.3"/><circle cx="195.2" cy="8.4" r="1.3"/><circle cx="197.6" cy="5.0" r="1.3"/></g><g fill="#ff0000"><circle cx="165.7" cy="5.9" r="1.5"/><circle cx="168.2" cy="8.7" r="1.5"/><circle cx="170.6" cy="10.9" r="1.5"/><circle cx="173.1" cy="12.6" r="1.5"/><circle cx="175.6" cy="13.6" r="1.5"/><circle cx="178.1" cy="14.2" r="1.5"/><circle cx="180.5" cy="14.6" r="1.5"/><circle cx="183.0" cy="14.8" r="1.5"/><circle cx="185.4" cy="14.7" r="1.5"/><circle cx="187.9" cy="14.3" r="1.5"/><circle cx="190.3" cy="13.6" r="1.5"/><circle cx="192.7" cy="12.2" r="1.5"/><circle cx="195.2" cy="9.9" r="1.5"/><circle cx="197.6" cy="6.7" r="1.5"/></g><g fill="none" stroke="#0000ff" stroke-width="0.9"><circle cx="97.1" cy="4.8" r="1.3"/><circle cx="99.6" cy="13.7" r="1.3"/><circle cx="102.0" cy="20.4" r="1.3"/><circle cx="104.4" cy="24.2" r="1.3"/><circle cx="106.8" cy="27.0" r="1.3"/><circle cx="109.3" cy="29.4" r="1.3"/><circle cx="111.7" cy="31.3" r="1.3"/><circle cx="114.1" cy="32.7" r="1.3"/><circle cx="116.5" cy="33.4" r="1.3"/><circle cx="119.0" cy="33.9" r="1.3"/><circle cx="121.4" cy="34.0" r="1.3"/><circle cx="123.8" cy="33.8" r="1.3"/><circle cx="126.2" cy="33.5" r="1.3"/><circle cx="128.7" cy="32.9" r="1.3"/><circle cx="131.1" cy="32.0" r="1.3"/><circle cx="133.6" cy="31.0" r="1.3"/><circle cx="136.0" cy="29.8" r="1.3"/><circle cx="138.5" cy="28.2" r="1.3"/><circle cx="141.0" cy="25.8" r="1.3"/><circle cx="143.5" cy="22.6" r="1.3"/><circle cx="145.9" cy="18.3" r="1.3"/><circle cx="148.4" cy="13.4" r="1.3"/><circle cx="150.9" cy="7.3" r="1.3"/></g><g fill="#ff0000"><circle cx="99.6" cy="7.7" r="1.5"/><circle cx="102.0" cy="12.8" r="1.5"/><circle cx="104.4" cy="16.8" r="1.5"/><circle cx="106.8" cy="20.0" r="1.5"/><circle cx="109.3" cy="22.7" r="1.5"/><circle cx="111.7" cy="25.0" r="1.5"/><circle cx="114.1" cy="26.6" r="1.5"/><circle cx="116.5" cy="27.9" r="1.5"/><circle cx="119.0" cy="28.4" r="1.5"/><circle cx="121.4" cy="28.5" r="1.5"/><circle cx="123.8" cy="28.6" r="1.5"/><circle cx="126.2" cy="28.2" r="1.5"/><circle cx="128.7" cy="27.4" r="1.5"/><circle cx="131.1" cy="26.6" r="1.5"/><circle cx="133.6" cy="25.6" r="1.5"/><circle cx="136.0" cy="24.5" r="1.5"/><circle cx="138.5" cy="22.9" r="1.5"/><circle cx="141.0" cy="21.0" r="1.5"/><circle cx="143.5" cy="18.3" r="1.5"/><circle cx="145.9" cy="14.8" r="1.5"/><circle cx="148.4" cy="10.8" r="1.5"/><circle cx="150.9" cy="5.6" r="1.5"/><circle cx="99.6" cy="4.2" r="1.5"/><circle cx="102.0" cy="9.3" r="1.5"/><circle cx="104.4" cy="13.3" r="1.5"/><circle cx="106.8" cy="16.7" r="1.5"/><circle cx="109.3" cy="19.4" r="1.5"/><circle cx="111.7" cy="21.5" r="1.5"/><circle cx="114.1" cy="23.3" r="1.5"/><circle cx="116.5" cy="24.7" r="1.5"/><circle cx="119.0" cy="25.6" r="1.5"/><circle cx="121.4" cy="26.2" r="1.5"/><circle cx="123.8" cy="26.5" r="1.5"/><circle cx="126.2" cy="26.3" r="1.5"/><circle cx="128.7" cy="25.8" r="1.5"/><circle cx="131.1" cy="25.2" r="1.5"/><circle cx="133.6" cy="24.2" r="1.5"/><circle cx="136.0" cy="23.0" r="1.5"/><circle cx="138.5" cy="21.5" r="1.5"/><circle cx="141.0" cy="19.5" r="1.5"/><circle cx="143.5" cy="16.6" r="1.5"/><circle cx="145.9" cy="12.8" r="1.5"/><circle cx="148.4" cy="8.2" r="1.5"/><circle cx="150.9" cy="0.9" r="1.5"/></g><g fill="none" stroke="#0000ff" stroke-width="0.9"><circle cx="102.0" cy="3.3" r="1.3"/><circle cx="104.4" cy="8.7" r="1.3"/><circle cx="106.8" cy="12.3" r="1.3"/><circle cx="109.3" cy="15.0" r="1.3"/><circle cx="111.7" cy="17.2" r="1.3"/><circle cx="114.1" cy="19.2" r="1.3"/><circle cx="116.5" cy="20.9" r="1.3"/><circle cx="119.0" cy="22.4" r="1.3"/><circle cx="121.4" cy="23.2" r="1.3"/><circle cx="123.8" cy="23.6" r="1.3"/><circle cx="126.2" cy="23.4" r="1.3"/><circle cx="128.7" cy="22.3" r="1.3"/><circle cx="131.1" cy="21.7" r="1.3"/><circle cx="133.6" cy="21.4" r="1.3"/><circle cx="136.0" cy="21.0" r="1.3"/><circle cx="138.5" cy="20.6" r="1.3"/><circle cx="141.0" cy="19.4" r="1.3"/><circle cx="143.5" cy="17.0" r="1.3"/><circle cx="145.9" cy="12.4" r="1.3"/><circle cx="148.4" cy="4.5" r="1.3"/></g><g fill="#ff0000"><circle cx="106.8" cy="2.3" r="1.5"/><circle cx="109.3" cy="7.3" r="1.5"/><circle cx="111.7" cy="10.9" r="1.5"/><circle cx="114.1" cy="12.9" r="1.5"/><circle cx="116.5" cy="14.4" r="1.5"/><circle cx="119.0" cy="15.3" r="1.5"/><circle cx="121.4" cy="16.0" r="1.5"/><circle cx="123.8" cy="16.5" r="1.5"/><circle cx="126.2" cy="16.9" r="1.5"/><circle cx="128.7" cy="17.1" r="1.5"/><circle cx="131.1" cy="17.3" r="1.5"/><circle cx="133.6" cy="17.2" r="1.5"/><circle cx="136.0" cy="16.9" r="1.5"/><circle cx="138.5" cy="16.3" r="1.5"/><circle cx="141.0" cy="15.0" r="1.5"/><circle cx="143.5" cy="12.7" r="1.5"/><circle cx="145.9" cy="9.9" r="1.5"/><circle cx="148.4" cy="4.9" r="1.5"/></g><g fill="none" stroke="#0000ff" stroke-width="0.9"><circle cx="109.3" cy="2.4" r="1.3"/><circle cx="111.7" cy="5.7" r="1.3"/><circle cx="114.1" cy="7.9" r="1.3"/><circle cx="116.5" cy="9.3" r="1.3"/><circle cx="119.0" cy="10.2" r="1.3"/><circle cx="121.4" cy="10.9" r="1.3"/><circle cx="123.8" cy="11.2" r="1.3"/><circle cx="126.2" cy="11.4" r="1.3"/><circle cx="128.7" cy="11.5" r="1.3"/><circle cx="131.1" cy="11.5" r="1.3"/><circle cx="133.6" cy="11.5" r="1.3"/><circle cx="136.0" cy="11.3" r="1.3"/><circle cx="138.5" cy="10.6" r="1.3"/><circle cx="141.0" cy="9.5" r="1.3"/><circle cx="143.5" cy="7.1" r="1.3"/><circle cx="145.9" cy="3.4" r="1.3"/></g><g fill="#ff0000"><circle cx="114.1" cy="2.4" r="1.5"/><circle cx="116.5" cy="4.3" r="1.5"/><circle cx="119.0" cy="5.6" r="1.5"/><circle cx="121.4" cy="6.4" r="1.5"/><circle cx="123.8" cy="6.7" r="1.5"/><circle cx="126.2" cy="6.9" r="1.5"/><circle cx="128.7" cy="7.0" r="1.5"/><circle cx="131.1" cy="7.0" r="1.5"/><circle cx="133.6" cy="7.0" r="1.5"/><circle cx="136.0" cy="6.8" r="1.5"/><circle cx="138.5" cy="6.1" r="1.5"/><circle cx="141.0" cy="5.0" r="1.5"/><circle cx="143.5" cy="2.7" r="1.5"/></g><g fill="none" stroke="#0000ff" stroke-width="0.9"><circle cx="114.1" cy="0.1" r="1.3"/><circle cx="116.5" cy="1.6" r="1.3"/><circle cx="119.0" cy="2.5" r="1.3"/><circle cx="121.4" cy="3.1" r="1.3"/><circle cx="123.8" cy="3.5" r="1.3"/><circle cx="126.2" cy="3.7" r="1.3"/><circle cx="128.7" cy="3.8" r="1.3"/><circle cx="131.1" cy="3.8" r="1.3"/><circle cx="133.6" cy="3.7" r="1.3"/><circle cx="136.0" cy="3.5" r="1.3"/><circle cx="138.5" cy="3.1" r="1.3"/><circle cx="141.0" cy="2.0" r="1.3"/></g><g fill="#ff0000"><circle cx="121.4" cy="0.8" r="1.5"/><circle cx="123.8" cy="1.8" r="1.5"/><circle cx="126.2" cy="2.2" r="1.5"/><circle cx="128.7" cy="2.5" r="1.5"/><circle cx="131.1" cy="2.5" r="1.5"/><circle cx="133.6" cy="2.3" r="1.5"/><circle cx="136.0" cy="2.0" r="1.5"/><circle cx="138.5" cy="0.4" r="1.5"/><circle cx="58.3" cy="4.0" r="1.5"/><circle cx="60.7" cy="3.6" r="1.5"/><circle cx="63.2" cy="2.6" r="1.5"/><circle cx="65.6" cy="1.2" r="1.5"/><circle cx="68.0" cy="-0.6" r="1.5"/><circle cx="70.4" cy="-2.5" r="1.5"/></g><g fill="none" stroke="#0000ff" stroke-width="0.9"><circle cx="58.3" cy="8.5" r="1.3"/><circle cx="60.7" cy="8.1" r="1.3"/><circle cx="63.2" cy="7.1" r="1.3"/><circle cx="65.6" cy="5.5" r="1.3"/><circle cx="68.0" cy="3.7" r="1.3"/><circle cx="70.4" cy="1.6" r="1.3"/><circle cx="72.9" cy="-0.5" r="1.3"/><circle cx="75.3" cy="-2.8" r="1.3"/></g><g fill="#ff0000"><circle cx="58.3" cy="13.0" r="1.5"/><circle cx="60.7" cy="12.6" r="1.5"/><circle cx="63.2" cy="11.5" r="1.5"/><circle cx="65.6" cy="9.9" r="1.5"/><circle cx="68.0" cy="8.0" r="1.5"/><circle cx="70.4" cy="5.8" r="1.5"/><circle cx="72.9" cy="3.5" r="1.5"/><circle cx="75.3" cy="1.1" r="1.5"/><circle cx="77.7" cy="-1.3" r="1.5"/></g><g fill="none" stroke="#0000ff" stroke-width="0.9"><circle cx="58.3" cy="17.5" r="1.3"/><circle cx="60.7" cy="17.1" r="1.3"/><circle cx="63.2" cy="16.0" r="1.3"/><circle cx="65.6" cy="14.4" r="1.3"/><circle cx="68.0" cy="12.5" r="1.3"/><circle cx="70.4" cy="10.3" r="1.3"/><circle cx="72.9" cy="8.0" r="1.3"/><circle cx="75.3" cy="5.6" r="1.3"/><circle cx="77.7" cy="3.2" r="1.3"/><circle cx="80.1" cy="0.7" r="1.3"/><circle cx="82.6" cy="-1.8" r="1.3"/></g><g fill="#ff0000"><circle cx="58.3" cy="22.0" r="1.5"/><circle cx="60.7" cy="21.6" r="1.5"/><circle cx="63.2" cy="20.4" r="1.5"/><circle cx="65.6" cy="18.8" r="1.5"/><circle cx="68.0" cy="16.7" r="1.5"/><circle cx="70.4" cy="14.5" r="1.5"/><circle cx="72.9" cy="12.1" r="1.5"/><circle cx="75.3" cy="9.6" r="1.5"/><circle cx="77.7" cy="7.1" r="1.5"/><circle cx="80.1" cy="4.5" r="1.5"/><circle cx="82.6" cy="1.8" r="1.5"/><circle cx="85.0" cy="-0.8" r="1.5"/></g><g fill="none" stroke="#0000ff" stroke-width="0.9"><circle cx="58.3" cy="26.5" r="1.3"/><circle cx="60.7" cy="26.1" r="1.3"/><circle cx="63.2" cy="24.9" r="1.3"/><circle cx="65.6" cy="23.3" r="1.3"/><circle cx="68.0" cy="21.2" r="1.3"/><circle cx="70.4" cy="19.0" r="1.3"/><circle cx="72.9" cy="16.6" r="1.3"/><circle cx="75.3" cy="14.1" r="1.3"/><circle cx="77.7" cy="11.6" r="1.3"/><circle cx="80.1" cy="9.0" r="1.3"/><circle cx="82.6" cy="6.3" r="1.3"/><circle cx="85.0" cy="3.7" r="1.3"/><circle cx="87.4" cy="1.0" r="1.3"/><circle cx="89.8" cy="-1.7" r="1.3"/></g><g fill="#ff0000"><circle cx="58.3" cy="31.0" r="1.5"/><circle cx="60.7" cy="30.6" r="1.5"/><circle cx="63.2" cy="29.4" r="1.5"/><circle cx="65.6" cy="27.6" r="1.5"/><circle cx="68.0" cy="25.5" r="1.5"/><circle cx="70.4" cy="23.2" r="1.5"/><circle cx="72.9" cy="20.7" r="1.5"/><circle cx="75.3" cy="18.1" r="1.5"/><circle cx="77.7" cy="15.4" r="1.5"/><circle cx="80.1" cy="12.7" r="1.5"/><circle cx="82.6" cy="9.9" r="1.5"/><circle cx="85.0" cy="7.2" r="1.5"/><circle cx="87.4" cy="4.4" r="1.5"/><circle cx="89.8" cy="1.5" r="1.5"/><circle cx="92.3" cy="-1.3" r="1.5"/></g><g fill="none" stroke="#0000ff" stroke-width="0.9"><circle cx="58.3" cy="36.7" r="1.3"/><circle cx="60.7" cy="35.7" r="1.3"/><circle cx="63.2" cy="31.8" r="1.3"/><circle cx="65.6" cy="29.4" r="1.3"/><circle cx="68.0" cy="27.0" r="1.3"/><circle cx="70.4" cy="24.6" r="1.3"/><circle cx="72.9" cy="22.1" r="1.3"/><circle cx="75.3" cy="19.7" r="1.3"/><circle cx="77.7" cy="17.3" r="1.3"/><circle cx="80.1" cy="14.9" r="1.3"/><circle cx="82.6" cy="12.4" r="1.3"/><circle cx="85.0" cy="10.0" r="1.3"/><circle cx="87.4" cy="7.6" r="1.3"/><circle cx="89.8" cy="5.2" r="1.3"/><circle cx="92.3" cy="2.7" r="1.3"/><circle cx="58.3" cy="82.0" r="1.3"/><circle cx="60.7" cy="76.9" r="1.3"/><circle cx="63.2" cy="66.2" r="1.3"/><circle cx="65.6" cy="55.1" r="1.3"/><circle cx="68.0" cy="44.4" r="1.3"/><circle cx="70.4" cy="34.3" r="1.3"/></g><g fill="#ff0000"><circle cx="58.3" cy="66.8" r="1.5"/><circle cx="60.7" cy="63.1" r="1.5"/><circle cx="63.2" cy="55.9" r="1.5"/><circle cx="65.6" cy="46.4" r="1.5"/><circle cx="68.0" cy="37.3" r="1.5"/></g><g fill="none" stroke="#0000ff" stroke-width="0.9"><circle cx="58.3" cy="56.0" r="1.3"/><circle cx="60.7" cy="53.8" r="1.3"/><circle cx="63.2" cy="46.7" r="1.3"/><circle cx="65.6" cy="38.1" r="1.3"/></g><g fill="#ff0000"><circle cx="58.3" cy="47.5" r="1.5"/><circle cx="60.7" cy="45.5" r="1.5"/><circle cx="63.2" cy="39.1" r="1.5"/></g><g fill="none" stroke="#0000ff" stroke-width="0.9"><circle cx="58.3" cy="42.0" r="1.3"/><circle cx="60.7" cy="40.5" r="1.3"/></g><g fill="#ff0000"><circle cx="231.7" cy="0.9" r="1.5"/><circle cx="234.2" cy="6.2" r="1.5"/><circle cx="236.6" cy="11.6" r="1.5"/><circle cx="239.0" cy="17.0" r="1.5"/><circle cx="241.5" cy="22.3" r="1.5"/><circle cx="243.9" cy="27.7" r="1.5"/><circle cx="246.4" cy="33.0" r="1.5"/><circle cx="248.8" cy="38.4" r="1.5"/><circle cx="251.2" cy="43.8" r="1.5"/><circle cx="253.7" cy="49.1" r="1.5"/><circle cx="256.1" cy="54.5" r="1.5"/><circle cx="258.6" cy="55.5" r="1.5"/><circle cx="261.1" cy="54.3" r="1.5"/><circle cx="263.6" cy="52.3" r="1.5"/><circle cx="266.0" cy="49.7" r="1.5"/><circle cx="268.5" cy="46.8" r="1.5"/><circle cx="271.0" cy="43.7" r="1.5"/><circle cx="273.5" cy="40.6" r="1.5"/><circle cx="276.0" cy="37.7" r="1.5"/><circle cx="278.5" cy="35.3" r="1.5"/><circle cx="281.0" cy="33.4" r="1.5"/><circle cx="283.4" cy="32.4" r="1.5"/><circle cx="285.9" cy="32.3" r="1.5"/><circle cx="288.4" cy="32.3" r="1.5"/><circle cx="290.9" cy="32.3" r="1.5"/><circle cx="293.4" cy="32.3" r="1.5"/><circle cx="295.9" cy="32.3" r="1.5"/><circle cx="298.4" cy="32.3" r="1.5"/><circle cx="300.8" cy="32.3" r="1.5"/><circle cx="303.3" cy="32.3" r="1.5"/><circle cx="305.8" cy="32.3" r="1.5"/><circle cx="308.3" cy="32.3" r="1.5"/></g><g fill="none" stroke="#0000ff" stroke-width="0.9"><circle cx="231.7" cy="-1.6" r="1.3"/><circle cx="234.2" cy="3.7" r="1.3"/><circle cx="236.6" cy="9.1" r="1.3"/><circle cx="239.0" cy="14.5" r="1.3"/><circle cx="241.5" cy="19.8" r="1.3"/><circle cx="243.9" cy="25.2" r="1.3"/><circle cx="246.4" cy="30.5" r="1.3"/><circle cx="248.8" cy="35.9" r="1.3"/><circle cx="251.2" cy="41.3" r="1.3"/><circle cx="253.7" cy="46.6" r="1.3"/><circle cx="256.1" cy="52.0" r="1.3"/><circle cx="258.6" cy="51.7" r="1.3"/><circle cx="261.1" cy="50.5" r="1.3"/><circle cx="263.6" cy="48.5" r="1.3"/><circle cx="266.0" cy="45.9" r="1.3"/><circle cx="268.5" cy="43.0" r="1.3"/><circle cx="271.0" cy="39.9" r="1.3"/><circle cx="273.5" cy="36.8" r="1.3"/><circle cx="276.0" cy="33.9" r="1.3"/><circle cx="278.5" cy="31.5" r="1.3"/><circle cx="281.0" cy="29.6" r="1.3"/><circle cx="283.4" cy="28.6" r="1.3"/><circle cx="285.9" cy="28.5" r="1.3"/><circle cx="288.4" cy="28.5" r="1.3"/><circle cx="290.9" cy="28.5" r="1.3"/><circle cx="293.4" cy="28.5" r="1.3"/><circle cx="295.9" cy="28.5" r="1.3"/><circle cx="298.4" cy="28.5" r="1.3"/><circle cx="300.8" cy="28.5" r="1.3"/><circle cx="303.3" cy="28.5" r="1.3"/><circle cx="305.8" cy="28.5" r="1.3"/><circle cx="308.3" cy="28.5" r="1.3"/><circle cx="253.7" cy="46.7" r="1.3"/><circle cx="256.1" cy="48.6" r="1.3"/><circle cx="258.6" cy="48.7" r="1.3"/><circle cx="261.1" cy="47.5" r="1.3"/><circle cx="263.6" cy="45.5" r="1.3"/><circle cx="266.0" cy="42.9" r="1.3"/><circle cx="268.5" cy="40.0" r="1.3"/><circle cx="271.0" cy="36.9" r="1.3"/><circle cx="273.5" cy="33.8" r="1.3"/><circle cx="276.0" cy="30.9" r="1.3"/><circle cx="278.5" cy="28.5" r="1.3"/><circle cx="281.0" cy="26.6" r="1.3"/><circle cx="283.4" cy="25.6" r="1.3"/><circle cx="285.9" cy="25.5" r="1.3"/><circle cx="288.4" cy="25.5" r="1.3"/><circle cx="290.9" cy="25.5" r="1.3"/><circle cx="293.4" cy="25.5" r="1.3"/><circle cx="295.9" cy="25.5" r="1.3"/><circle cx="298.4" cy="25.5" r="1.3"/><circle cx="300.8" cy="25.5" r="1.3"/><circle cx="303.3" cy="25.5" r="1.3"/><circle cx="305.8" cy="25.5" r="1.3"/><circle cx="308.3" cy="25.5" r="1.3"/></g><g fill="#ff0000"><circle cx="248.8" cy="36.6" r="1.5"/><circle cx="251.2" cy="38.4" r="1.5"/><circle cx="253.7" cy="40.2" r="1.5"/><circle cx="256.1" cy="42.1" r="1.5"/><circle cx="258.6" cy="42.2" r="1.5"/><circle cx="261.1" cy="41.0" r="1.5"/><circle cx="263.6" cy="39.0" r="1.5"/><circle cx="266.0" cy="36.4" r="1.5"/><circle cx="268.5" cy="33.5" r="1.5"/><circle cx="271.0" cy="30.4" r="1.5"/><circle cx="273.5" cy="27.3" r="1.5"/><circle cx="276.0" cy="24.4" r="1.5"/><circle cx="278.5" cy="22.0" r="1.5"/><circle cx="281.0" cy="20.1" r="1.5"/><circle cx="283.4" cy="19.1" r="1.5"/><circle cx="285.9" cy="19.0" r="1.5"/><circle cx="288.4" cy="19.0" r="1.5"/><circle cx="290.9" cy="19.0" r="1.5"/><circle cx="293.4" cy="19.0" r="1.5"/><circle cx="295.9" cy="19.0" r="1.5"/><circle cx="298.4" cy="19.0" r="1.5"/><circle cx="300.8" cy="19.0" r="1.5"/><circle cx="303.3" cy="19.0" r="1.5"/><circle cx="305.8" cy="19.0" r="1.5"/><circle cx="308.3" cy="19.0" r="1.5"/></g><g fill="none" stroke="#0000ff" stroke-width="0.9"><circle cx="243.9" cy="26.4" r="1.3"/><circle cx="246.4" cy="28.2" r="1.3"/><circle cx="248.8" cy="30.1" r="1.3"/><circle cx="251.2" cy="31.9" r="1.3"/><circle cx="253.7" cy="33.7" r="1.3"/><circle cx="256.1" cy="35.6" r="1.3"/><circle cx="258.6" cy="35.7" r="1.3"/><circle cx="261.1" cy="34.5" r="1.3"/><circle cx="263.6" cy="32.5" r="1.3"/><circle cx="266.0" cy="29.9" r="1.3"/><circle cx="268.5" cy="27.0" r="1.3"/><circle cx="271.0" cy="23.9" r="1.3"/><circle cx="273.5" cy="20.8" r="1.3"/><circle cx="276.0" cy="17.9" r="1.3"/><circle cx="278.5" cy="15.5" r="1.3"/><circle cx="281.0" cy="13.6" r="1.3"/><circle cx="283.4" cy="12.6" r="1.3"/><circle cx="285.9" cy="12.5" r="1.3"/><circle cx="288.4" cy="12.5" r="1.3"/><circle cx="290.9" cy="12.5" r="1.3"/><circle cx="293.4" cy="12.5" r="1.3"/><circle cx="295.9" cy="12.5" r="1.3"/><circle cx="298.4" cy="12.5" r="1.3"/><circle cx="300.8" cy="12.5" r="1.3"/><circle cx="303.3" cy="12.5" r="1.3"/><circle cx="305.8" cy="12.5" r="1.3"/><circle cx="308.3" cy="12.5" r="1.3"/></g><g fill="#ff0000"><circle cx="239.0" cy="16.3" r="1.5"/><circle cx="241.5" cy="18.1" r="1.5"/><circle cx="243.9" cy="19.9" r="1.5"/><circle cx="246.4" cy="21.7" r="1.5"/><circle cx="248.8" cy="23.6" r="1.5"/><circle cx="251.2" cy="25.4" r="1.5"/><circle cx="253.7" cy="27.2" r="1.5"/><circle cx="256.1" cy="29.1" r="1.5"/><circle cx="258.6" cy="29.2" r="1.5"/><circle cx="261.1" cy="28.0" r="1.5"/><circle cx="263.6" cy="26.0" r="1.5"/><circle cx="266.0" cy="23.4" r="1.5"/><circle cx="268.5" cy="20.5" r="1.5"/><circle cx="271.0" cy="17.4" r="1.5"/><circle cx="273.5" cy="14.3" r="1.5"/><circle cx="276.0" cy="11.4" r="1.5"/><circle cx="278.5" cy="9.0" r="1.5"/><circle cx="281.0" cy="7.1" r="1.5"/><circle cx="283.4" cy="6.1" r="1.5"/><circle cx="285.9" cy="6.0" r="1.5"/><circle cx="288.4" cy="6.0" r="1.5"/><circle cx="290.9" cy="6.0" r="1.5"/><circle cx="293.4" cy="6.0" r="1.5"/><circle cx="295.9" cy="6.0" r="1.5"/><circle cx="298.4" cy="6.0" r="1.5"/><circle cx="300.8" cy="6.0" r="1.5"/><circle cx="303.3" cy="6.0" r="1.5"/><circle cx="305.8" cy="6.0" r="1.5"/><circle cx="308.3" cy="6.0" r="1.5"/></g><g fill="none" stroke="#0000ff" stroke-width="0.9"><circle cx="234.2" cy="6.1" r="1.3"/><circle cx="236.6" cy="7.9" r="1.3"/><circle cx="239.0" cy="9.8" r="1.3"/><circle cx="241.5" cy="11.6" r="1.3"/><circle cx="243.9" cy="13.4" r="1.3"/><circle cx="246.4" cy="15.2" r="1.3"/><circle cx="248.8" cy="17.1" r="1.3"/><circle cx="251.2" cy="18.9" r="1.3"/><circle cx="253.7" cy="20.7" r="1.3"/><circle cx="256.1" cy="22.6" r="1.3"/><circle cx="258.6" cy="22.7" r="1.3"/><circle cx="261.1" cy="21.5" r="1.3"/><circle cx="263.6" cy="19.5" r="1.3"/><circle cx="266.0" cy="16.9" r="1.3"/><circle cx="268.5" cy="14.0" r="1.3"/><circle cx="271.0" cy="10.9" r="1.3"/><circle cx="273.5" cy="7.8" r="1.3"/><circle cx="276.0" cy="4.9" r="1.3"/><circle cx="278.5" cy="2.5" r="1.3"/><circle cx="281.0" cy="0.6" r="1.3"/><circle cx="283.4" cy="-0.4" r="1.3"/><circle cx="285.9" cy="-0.5" r="1.3"/><circle cx="288.4" cy="-0.5" r="1.3"/><circle cx="290.9" cy="-0.5" r="1.3"/><circle cx="293.4" cy="-0.5" r="1.3"/><circle cx="295.9" cy="-0.5" r="1.3"/><circle cx="298.4" cy="-0.5" r="1.3"/><circle cx="300.8" cy="-0.5" r="1.3"/><circle cx="303.3" cy="-0.5" r="1.3"/><circle cx="305.8" cy="-0.5" r="1.3"/><circle cx="308.3" cy="-0.5" r="1.3"/></g><g fill="#ff0000"><circle cx="231.7" cy="-2.2" r="1.5"/><circle cx="234.2" cy="-0.4" r="1.5"/><circle cx="236.6" cy="1.4" r="1.5"/><circle cx="239.0" cy="3.3" r="1.5"/><circle cx="241.5" cy="5.1" r="1.5"/><circle cx="243.9" cy="6.9" r="1.5"/><circle cx="246.4" cy="8.7" r="1.5"/><circle cx="248.8" cy="10.6" r="1.5"/><circle cx="251.2" cy="12.4" r="1.5"/><circle cx="253.7" cy="14.2" r="1.5"/><circle cx="256.1" cy="16.1" r="1.5"/><circle cx="258.6" cy="16.2" r="1.5"/><circle cx="261.1" cy="15.0" r="1.5"/><circle cx="263.6" cy="13.0" r="1.5"/><circle cx="266.0" cy="10.4" r="1.5"/><circle cx="268.5" cy="7.5" r="1.5"/><circle cx="271.0" cy="4.4" r="1.5"/><circle cx="273.5" cy="1.3" r="1.5"/><circle cx="276.0" cy="-1.6" r="1.5"/></g><g fill="none" stroke="#0000ff" stroke-width="0.9"><circle cx="241.5" cy="-1.4" r="1.3"/><circle cx="243.9" cy="0.4" r="1.3"/><circle cx="246.4" cy="2.2" r="1.3"/><circle cx="248.8" cy="4.1" r="1.3"/><circle cx="251.2" cy="5.9" r="1.3"/><circle cx="253.7" cy="7.7" r="1.3"/><circle cx="256.1" cy="9.6" r="1.3"/><circle cx="258.6" cy="9.7" r="1.3"/><circle cx="261.1" cy="8.5" r="1.3"/><circle cx="263.6" cy="6.5" r="1.3"/><circle cx="266.0" cy="3.9" r="1.3"/><circle cx="268.5" cy="1.0" r="1.3"/><circle cx="271.0" cy="-2.1" r="1.3"/></g><g fill="#ff0000"><circle cx="248.8" cy="-1.9" r="1.5"/><circle cx="251.2" cy="-0.1" r="1.5"/><circle cx="253.7" cy="1.7" r="1.5"/><circle cx="256.1" cy="3.6" r="1.5"/><circle cx="258.6" cy="3.7" r="1.5"/><circle cx="261.1" cy="2.5" r="1.5"/><circle cx="263.6" cy="0.5" r="1.5"/><circle cx="266.0" cy="-2.1" r="1.5"/></g><g fill="none" stroke="#0000ff" stroke-width="0.9"><circle cx="276.0" cy="35.8" r="1.3"/><circle cx="278.5" cy="34.2" r="1.3"/><circle cx="281.0" cy="32.8" r="1.3"/><circle cx="283.4" cy="31.9" r="1.3"/><circle cx="285.9" cy="31.3" r="1.3"/><circle cx="288.4" cy="31.0" r="1.3"/><circle cx="290.9" cy="30.7" r="1.3"/><circle cx="293.4" cy="30.5" r="1.3"/><circle cx="295.9" cy="30.5" r="1.3"/><circle cx="298.4" cy="30.5" r="1.3"/><circle cx="300.8" cy="30.5" r="1.3"/><circle cx="303.3" cy="30.5" r="1.3"/><circle cx="305.8" cy="30.5" r="1.3"/><circle cx="308.3" cy="30.5" r="1.3"/></g><g fill="#ff0000"><circle cx="276.0" cy="33.8" r="1.5"/><circle cx="278.5" cy="32.2" r="1.5"/><circle cx="281.0" cy="30.8" r="1.5"/><circle cx="283.4" cy="29.9" r="1.5"/><circle cx="285.9" cy="29.3" r="1.5"/><circle cx="288.4" cy="29.0" r="1.5"/><circle cx="290.9" cy="28.7" r="1.5"/><circle cx="293.4" cy="28.5" r="1.5"/><circle cx="295.9" cy="28.5" r="1.5"/><circle cx="298.4" cy="28.5" r="1.5"/><circle cx="300.8" cy="28.5" r="1.5"/><circle cx="303.3" cy="28.5" r="1.5"/><circle cx="305.8" cy="28.5" r="1.5"/><circle cx="308.3" cy="28.5" r="1.5"/><circle cx="276.0" cy="31.3" r="1.5"/><circle cx="278.5" cy="29.7" r="1.5"/><circle cx="281.0" cy="28.3" r="1.5"/><circle cx="283.4" cy="27.4" r="1.5"/><circle cx="285.9" cy="26.8" r="1.5"/><circle cx="288.4" cy="26.5" r="1.5"/><circle cx="290.9" cy="26.2" r="1.5"/><circle cx="293.4" cy="26.0" r="1.5"/><circle cx="295.9" cy="26.0" r="1.5"/><circle cx="298.4" cy="26.0" r="1.5"/><circle cx="300.8" cy="26.0" r="1.5"/><circle cx="303.3" cy="26.0" r="1.5"/><circle cx="305.8" cy="26.0" r="1.5"/><circle cx="308.3" cy="26.0" r="1.5"/><circle cx="276.0" cy="26.3" r="1.5"/><circle cx="278.5" cy="24.7" r="1.5"/><circle cx="281.0" cy="23.3" r="1.5"/><circle cx="283.4" cy="22.4" r="1.5"/><circle cx="285.9" cy="21.8" r="1.5"/><circle cx="288.4" cy="21.5" r="1.5"/><circle cx="290.9" cy="21.2" r="1.5"/><circle cx="293.4" cy="21.0" r="1.5"/><circle cx="295.9" cy="21.0" r="1.5"/><circle cx="298.4" cy="21.0" r="1.5"/><circle cx="300.8" cy="21.0" r="1.5"/><circle cx="303.3" cy="21.0" r="1.5"/><circle cx="305.8" cy="21.0" r="1.5"/><circle cx="308.3" cy="21.0" r="1.5"/></g><g fill="none" stroke="#0000ff" stroke-width="0.9"><circle cx="276.0" cy="23.8" r="1.3"/><circle cx="278.5" cy="22.2" r="1.3"/><circle cx="281.0" cy="20.8" r="1.3"/><circle cx="283.4" cy="19.9" r="1.3"/><circle cx="285.9" cy="19.3" r="1.3"/><circle cx="288.4" cy="19.0" r="1.3"/><circle cx="290.9" cy="18.7" r="1.3"/><circle cx="293.4" cy="18.5" r="1.3"/><circle cx="295.9" cy="18.5" r="1.3"/><circle cx="298.4" cy="18.5" r="1.3"/><circle cx="300.8" cy="18.5" r="1.3"/><circle cx="303.3" cy="18.5" r="1.3"/><circle cx="305.8" cy="18.5" r="1.3"/><circle cx="308.3" cy="18.5" r="1.3"/></g><g fill="#ff0000"><circle cx="276.0" cy="19.3" r="1.5"/><circle cx="278.5" cy="17.7" r="1.5"/><circle cx="281.0" cy="16.3" r="1.5"/><circle cx="283.4" cy="15.4" r="1.5"/><circle cx="285.9" cy="14.8" r="1.5"/><circle cx="288.4" cy="14.5" r="1.5"/><circle cx="290.9" cy="14.2" r="1.5"/><circle cx="293.4" cy="14.0" r="1.5"/><circle cx="295.9" cy="14.0" r="1.5"/><circle cx="298.4" cy="14.0" r="1.5"/><circle cx="300.8" cy="14.0" r="1.5"/><circle cx="303.3" cy="14.0" r="1.5"/><circle cx="305.8" cy="14.0" r="1.5"/><circle cx="308.3" cy="14.0" r="1.5"/></g><g fill="none" stroke="#0000ff" stroke-width="0.9"><circle cx="276.0" cy="16.3" r="1.3"/><circle cx="278.5" cy="14.7" r="1.3"/><circle cx="281.0" cy="13.3" r="1.3"/><circle cx="283.4" cy="12.4" r="1.3"/><circle cx="285.9" cy="11.8" r="1.3"/><circle cx="288.4" cy="11.5" r="1.3"/><circle cx="290.9" cy="11.2" r="1.3"/><circle cx="293.4" cy="11.0" r="1.3"/><circle cx="295.9" cy="11.0" r="1.3"/><circle cx="298.4" cy="11.0" r="1.3"/><circle cx="300.8" cy="11.0" r="1.3"/><circle cx="303.3" cy="11.0" r="1.3"/><circle cx="305.8" cy="11.0" r="1.3"/><circle cx="308.3" cy="11.0" r="1.3"/></g><g fill="#ff0000"><circle cx="276.0" cy="13.3" r="1.5"/><circle cx="278.5" cy="11.7" r="1.5"/><circle cx="281.0" cy="10.3" r="1.5"/><circle cx="283.4" cy="9.4" r="1.5"/><circle cx="285.9" cy="8.8" r="1.5"/><circle cx="288.4" cy="8.5" r="1.5"/><circle cx="290.9" cy="8.2" r="1.5"/><circle cx="293.4" cy="8.0" r="1.5"/><circle cx="295.9" cy="8.0" r="1.5"/><circle cx="298.4" cy="8.0" r="1.5"/><circle cx="300.8" cy="8.0" r="1.5"/><circle cx="303.3" cy="8.0" r="1.5"/><circle cx="305.8" cy="8.0" r="1.5"/><circle cx="308.3" cy="8.0" r="1.5"/><circle cx="276.0" cy="9.3" r="1.5"/><circle cx="278.5" cy="7.7" r="1.5"/><circle cx="281.0" cy="6.3" r="1.5"/><circle cx="283.4" cy="5.4" r="1.5"/><circle cx="285.9" cy="4.8" r="1.5"/><circle cx="288.4" cy="4.5" r="1.5"/><circle cx="290.9" cy="4.2" r="1.5"/><circle cx="293.4" cy="4.0" r="1.5"/><circle cx="295.9" cy="4.0" r="1.5"/><circle cx="298.4" cy="4.0" r="1.5"/><circle cx="300.8" cy="4.0" r="1.5"/><circle cx="303.3" cy="4.0" r="1.5"/><circle cx="305.8" cy="4.0" r="1.5"/><circle cx="308.3" cy="4.0" r="1.5"/></g><g fill="none" stroke="#0000ff" stroke-width="0.9"><circle cx="293.4" cy="9.3" r="1.3"/><circle cx="295.9" cy="25.9" r="1.3"/><circle cx="298.4" cy="41.5" r="1.3"/><circle cx="300.8" cy="54.5" r="1.3"/><circle cx="303.3" cy="67.1" r="1.3"/><circle cx="305.8" cy="77.7" r="1.3"/><circle cx="308.3" cy="82.0" r="1.3"/></g><g fill="#ff0000"><circle cx="295.9" cy="28.3" r="1.5"/><circle cx="298.4" cy="38.1" r="1.5"/><circle cx="300.8" cy="48.0" r="1.5"/><circle cx="303.3" cy="59.0" r="1.5"/><circle cx="305.8" cy="64.4" r="1.5"/><circle cx="308.3" cy="66.8" r="1.5"/></g><g fill="none" stroke="#0000ff" stroke-width="0.9"><circle cx="298.4" cy="39.8" r="1.3"/><circle cx="300.8" cy="47.3" r="1.3"/><circle cx="303.3" cy="52.9" r="1.3"/><circle cx="305.8" cy="55.3" r="1.3"/><circle cx="308.3" cy="56.0" r="1.3"/></g><g fill="#ff0000"><circle cx="300.8" cy="42.2" r="1.5"/><circle cx="303.3" cy="45.4" r="1.5"/><circle cx="305.8" cy="46.7" r="1.5"/><circle cx="308.3" cy="47.0" r="1.5"/></g></g><text x="0" y="22.3" font-size="16" text-anchor="start" letter-spacing="0.9">(a)</text><text x="51.0" y="21.7" font-size="16" text-anchor="end" >1.8</text><text x="51.0" y="56.6" font-size="16" text-anchor="end" >1.2</text><text x="51.0" y="90.9" font-size="16" text-anchor="end" >0.6</text><text x="51.0" y="126.9" font-size="16" text-anchor="end" >0.0</text><text x="51.0" y="161.1" font-size="16" text-anchor="end" >-0.6</text><text x="51.0" y="190.4" font-size="16" text-anchor="end" >-1.2</text><text transform="translate(20.3,88.6) rotate(-90)" font-size="16" text-anchor="middle" letter-spacing="0.35">Energy (eV)</text><text transform="translate(61.8,201.5) scale(1.18,1)" font-size="16" text-anchor="middle" font-style="italic">Γ</text><text transform="translate(127.4,201.5) scale(1.18,1)" font-size="16" text-anchor="middle" font-style="italic">X</text><text transform="translate(182.0,201.5) scale(1.18,1)" font-size="16" text-anchor="middle" font-style="italic">M</text><text transform="translate(251.0,201.5) scale(1.18,1)" font-size="16" text-anchor="middle" font-style="italic">X’</text><text transform="translate(307.9,201.5) scale(1.18,1)" font-size="16" text-anchor="middle" font-style="italic">Γ</text><rect x="199.6" y="82.8" width="37.4" height="53.9" fill="none" stroke="#000" stroke-width="1.5"/><text x="195.3" y="77.6" font-size="14" text-anchor="middle" font-style="italic" >X</text><text x="242.2" y="77.6" font-size="14" text-anchor="middle" font-style="italic" >M</text><text x="196.0" y="151.0" font-size="14.8" text-anchor="middle" font-style="italic" >Γ</text><text x="238.3" y="151.0" font-size="14.8" text-anchor="middle" font-style="italic" letter-spacing="0.6">X’</text><rect x="85.5" y="210.2" width="227.3" height="99.69999999999999" fill="none" stroke="#a0a0a0" stroke-width="1"/><path d="M85.5,309.7h2M312.8,309.7h-2M85.5,294.8h2M312.8,294.8h-2M85.5,280.0h2M312.8,280.0h-2M85.5,265.1h2M312.8,265.1h-2M85.5,250.3h2M312.8,250.3h-2M85.5,235.4h2M312.8,235.4h-2M85.5,220.6h2M312.8,220.6h-2M110.8,309.9v-2M110.8,210.2v2M136.0,309.9v-2M136.0,210.2v2M161.2,309.9v-2M161.2,210.2v2M186.5,309.9v-2M186.5,210.2v2M211.8,309.9v-2M211.8,210.2v2M237.0,309.9v-2M237.0,210.2v2M262.2,309.9v-2M262.2,210.2v2M287.5,309.9v-2M287.5,210.2v2" stroke="#777" stroke-width="0.8" fill="none"/><path d="M85.5,310.50 L86.0,310.50 L86.5,310.50 L87.0,310.50 L87.5,310.50 L88.0,310.50 L88.5,310.50 L89.0,310.50 L89.5,310.50 L90.0,310.50 L90.5,310.50 L91.0,310.50 L91.5,310.50 L92.0,310.50 L92.5,310.50 L93.0,310.50 L93.5,310.50 L94.0,310.50 L94.5,310.50 L95.0,310.50 L95.5,310.50 L96.0,310.50 L96.5,310.50 L97.0,310.50 L97.5,310.50 L98.0,310.50 L98.5,310.50 L99.0,310.50 L99.5,310.50 L100.0,310.50 L100.5,310.50 L101.0,310.50 L101.5,310.50 L102.0,310.50 L102.5,310.50 L103.0,310.50 L103.5,310.50 L104.0,310.50 L104.5,310.50 L105.0,310.50 L105.5,310.50 L106.0,310.50 L106.5,310.50 L107.0,310.50 L107.5,310.50 L108.0,310.50 L108.5,310.50 L109.0,310.50 L109.5,310.50 L110.0,310.50 L110.5,310.50 L111.0,310.50 L111.5,310.50 L112.0,310.50 L112.5,310.50 L113.0,310.50 L113.5,310.50 L114.0,310.50 L114.5,310.50 L115.0,310.50 L115.5,310.50 L116.0,310.50 L116.5,310.50 L117.0,310.50 L117.5,310.50 L118.0,310.50 L118.5,310.50 L119.0,310.50 L119.5,310.50 L120.0,310.50 L120.5,310.50 L121.0,310.50 L121.5,310.50 L122.0,310.50 L122.5,310.50 L123.0,310.50 L123.5,310.50 L124.0,310.50 L124.5,310.50 L125.0,310.50 L125.5,310.50 L126.0,310.50 L126.5,310.50 L127.0,310.50 L127.5,310.50 L128.0,310.50 L128.5,310.50 L129.0,310.50 L129.5,310.50 L130.0,310.50 L130.5,310.50 L131.0,310.50 L131.5,310.50 L132.0,310.50 L132.5,310.50 L133.0,310.50 L133.5,310.50 L134.0,310.50 L134.5,310.50 L135.0,310.50 L135.5,310.50 L136.0,310.50 L136.5,310.50 L137.0,310.50 L137.5,310.50 L138.0,310.50 L138.5,310.50 L139.0,310.50 L139.5,310.50 L140.0,310.50 L140.5,310.50 L141.0,310.50 L141.5,310.50 L142.0,310.50 L142.5,310.50 L143.0,310.50 L143.5,310.50 L144.0,310.50 L144.5,310.50 L145.0,310.50 L145.5,310.50 L146.0,310.50 L146.5,310.50 L147.0,310.50 L147.5,310.50 L148.0,310.50 L148.5,310.50 L149.0,310.50 L149.5,310.50 L150.0,310.50 L150.5,310.50 L151.0,310.50 L151.5,310.50 L152.0,310.50 L152.5,310.50 L153.0,310.50 L153.5,310.50 L154.0,310.50 L154.5,310.50 L155.0,310.50 L155.5,310.50 L156.0,310.50 L156.5,310.50 L157.0,310.50 L157.5,310.50 L158.0,310.50 L158.5,310.50 L159.0,310.50 L159.5,310.50 L160.0,310.50 L160.5,310.50 L161.0,310.50 L161.5,310.50 L162.0,310.50 L162.5,310.50 L163.0,310.50 L163.5,310.50 L164.0,310.50 L164.5,310.50 L165.0,310.50 L165.5,310.50 L166.0,310.50 L166.5,310.50 L167.0,310.50 L167.5,310.50 L168.0,310.50 L168.5,310.50 L169.0,310.50 L169.5,310.50 L170.0,310.50 L170.5,310.50 L171.0,310.50 L171.5,310.50 L172.0,310.50 L172.5,310.50 L173.0,310.50 L173.5,310.50 L174.0,310.50 L174.5,310.50 L175.0,310.50 L175.5,310.50 L176.0,310.50 L176.5,310.50 L177.0,310.50 L177.5,310.50 L178.0,310.50 L178.5,310.50 L179.0,310.50 L179.5,310.50 L180.0,310.50 L180.5,310.50 L181.0,310.50 L181.5,310.50 L182.0,310.49 L182.5,310.42 L183.0,310.26 L183.5,310.05 L184.0,309.79 L184.5,309.49 L185.0,309.17 L185.5,308.83 L186.0,308.50 L186.5,308.19 L187.0,307.90 L187.5,307.66 L188.0,307.47 L188.5,307.34 L189.0,307.30 L189.5,307.31 L190.0,307.32 L190.5,307.35 L191.0,307.38 L191.5,307.41 L192.0,307.45 L192.5,307.49 L193.0,307.52 L193.5,307.55 L194.0,307.58 L194.5,307.59 L195.0,307.60 L195.5,307.57 L196.0,307.49 L196.5,307.36 L197.0,307.18 L197.5,306.97 L198.0,306.72 L198.5,306.45 L199.0,306.15 L199.5,305.83 L200.0,305.50 L200.5,305.07 L201.0,304.49 L201.5,303.77 L202.0,302.95 L202.5,302.05 L203.0,301.12 L203.5,300.17 L204.0,299.23 L204.5,298.34 L205.0,297.47 L205.5,296.46 L206.0,295.36 L206.5,294.21 L207.0,293.10 L207.5,292.07 L208.0,291.20 L208.5,290.54 L209.0,290.17 L209.5,290.13 L210.0,290.46 L210.5,291.10 L211.0,291.96 L211.5,292.97 L212.0,294.07 L212.5,295.17 L213.0,296.34 L213.5,297.96 L214.0,299.90 L214.5,301.96 L215.0,303.95 L215.5,305.66 L216.0,306.91 L216.5,307.48 L217.0,307.33 L217.5,306.69 L218.0,305.69 L218.5,304.42 L219.0,303.00 L219.5,301.05 L220.0,298.23 L220.5,294.67 L221.0,290.52 L221.5,285.92 L222.0,281.02 L222.5,275.56 L223.0,268.41 L223.5,260.32 L224.0,252.21 L224.5,245.00 L225.0,238.43 L225.5,232.01 L226.0,226.33 L226.5,222.00 L227.0,218.50 L227.5,215.39 L228.0,213.38 L228.5,213.17 L229.0,214.88 L229.5,218.01 L230.0,222.00 L230.5,229.65 L231.0,241.54 L231.5,253.84 L232.0,263.85 L232.5,273.51 L233.0,281.59 L233.5,287.23 L234.0,291.95 L234.5,294.00 L235.0,289.85 L235.5,282.28 L236.0,276.04 L236.5,269.68 L237.0,263.93 L237.5,259.12 L238.0,254.57 L238.5,252.50 L239.0,253.17 L239.5,254.84 L240.0,257.00 L240.5,260.46 L241.0,265.60 L241.5,271.18 L242.0,276.00 L242.5,279.94 L243.0,283.66 L243.5,287.12 L244.0,290.27 L244.5,293.10 L245.0,295.73 L245.5,298.16 L246.0,300.37 L246.5,302.31 L247.0,304.00 L247.5,305.64 L248.0,307.12 L248.5,308.29 L249.0,309.00 L249.5,309.41 L250.0,309.76 L250.5,310.06 L251.0,310.28 L251.5,310.43 L252.0,310.50 L252.5,310.52 L253.0,310.54 L253.5,310.56 L254.0,310.57 L254.5,310.59 L255.0,310.59 L255.5,310.60" fill="none" stroke="#0000ff" stroke-width="1.7" stroke-dasharray="8.7,3.3"/><path d="M85.5,307.40 L86.0,305.60 L86.5,304.02 L87.0,302.69 L87.5,301.63 L88.0,300.86 L88.5,300.41 L89.0,300.31 L89.5,300.72 L90.0,301.58 L90.5,302.76 L91.0,304.12 L91.5,305.51 L92.0,306.78 L92.5,307.79 L93.0,308.39 L93.5,308.46 L94.0,308.04 L94.5,307.25 L95.0,306.17 L95.5,304.91 L96.0,303.55 L96.5,302.19 L97.0,300.93 L97.5,299.85 L98.0,299.06 L98.5,298.64 L99.0,298.72 L99.5,299.37 L100.0,300.45 L100.5,301.81 L101.0,303.30 L101.5,304.76 L102.0,306.02 L102.5,306.95 L103.0,307.39 L103.5,307.26 L104.0,306.75 L104.5,305.93 L105.0,304.90 L105.5,303.73 L106.0,302.51 L106.5,301.33 L107.0,300.26 L107.5,299.39 L108.0,298.81 L108.5,298.60 L109.0,298.89 L109.5,299.68 L110.0,300.81 L110.5,302.14 L111.0,303.53 L111.5,304.84 L112.0,305.91 L112.5,306.61 L113.0,306.79 L113.5,306.53 L114.0,305.95 L114.5,305.12 L115.0,304.13 L115.5,303.04 L116.0,301.92 L116.5,300.86 L117.0,299.92 L117.5,299.19 L118.0,298.72 L118.5,298.61 L119.0,299.01 L119.5,299.85 L120.0,301.00 L120.5,302.32 L121.0,303.64 L121.5,304.84 L122.0,305.75 L122.5,306.25 L123.0,306.23 L123.5,305.86 L124.0,305.21 L124.5,304.37 L125.0,303.39 L125.5,302.35 L126.0,301.31 L126.5,300.35 L127.0,299.54 L127.5,298.94 L128.0,298.63 L128.5,298.70 L129.0,299.25 L129.5,300.15 L130.0,301.29 L130.5,302.52 L131.0,303.71 L131.5,304.73 L132.0,305.43 L132.5,305.70 L133.0,305.53 L133.5,305.08 L134.0,304.40 L134.5,303.57 L135.0,302.63 L135.5,301.67 L136.0,300.73 L136.5,299.90 L137.0,299.22 L137.5,298.77 L138.0,298.60 L138.5,298.88 L139.0,299.63 L139.5,300.67 L140.0,301.84 L140.5,302.97 L141.0,303.91 L141.5,304.49 L142.0,304.58 L142.5,304.36 L143.0,303.94 L143.5,303.36 L144.0,302.67 L144.5,301.91 L145.0,301.14 L145.5,300.39 L146.0,299.72 L146.5,299.17 L147.0,298.78 L147.5,298.61 L148.0,298.78 L148.5,299.41 L149.0,300.36 L149.5,301.48 L150.0,302.62 L150.5,303.62 L151.0,304.33 L151.5,304.60 L152.0,304.48 L152.5,304.16 L153.0,303.68 L153.5,303.07 L154.0,302.38 L154.5,301.65 L155.0,300.92 L155.5,300.23 L156.0,299.62 L156.5,299.14 L157.0,298.82 L157.5,298.70 L158.0,298.92 L158.5,299.51 L159.0,300.35 L159.5,301.34 L160.0,302.36 L160.5,303.31 L161.0,304.06 L161.5,304.52 L162.0,304.57 L162.5,304.28 L163.0,303.73 L163.5,302.99 L164.0,302.14 L164.5,301.26 L165.0,300.41 L165.5,299.67 L166.0,299.12 L166.5,298.83 L167.0,298.88 L167.5,299.31 L168.0,300.02 L168.5,300.92 L169.0,301.90 L169.5,302.86 L170.0,303.69 L170.5,304.31 L171.0,304.59 L171.5,304.46 L172.0,303.97 L172.5,303.21 L173.0,302.29 L173.5,301.31 L174.0,300.36 L174.5,299.56 L175.0,299.01 L175.5,298.80 L176.0,298.97 L176.5,299.43 L177.0,300.10 L177.5,300.91 L178.0,301.79 L178.5,302.66 L179.0,303.45 L179.5,304.08 L180.0,304.49 L180.5,304.59 L181.0,304.29 L181.5,303.66 L182.0,302.79 L182.5,301.80 L183.0,300.80 L183.5,299.90 L184.0,299.21 L184.5,298.84 L185.0,298.85 L185.5,299.13 L186.0,299.62 L186.5,300.26 L187.0,300.99 L187.5,301.78 L188.0,302.56 L188.5,303.28 L189.0,303.89 L189.5,304.34 L190.0,304.58 L190.5,304.50 L191.0,303.94 L191.5,303.03 L192.0,301.93 L192.5,300.80 L193.0,299.79 L193.5,299.07 L194.0,298.80 L194.5,298.94 L195.0,299.33 L195.5,299.91 L196.0,300.61 L196.5,301.39 L197.0,302.18 L197.5,302.92 L198.0,303.56 L198.5,304.03 L199.0,304.28 L199.5,304.24 L200.0,303.89 L200.5,303.31 L201.0,302.56 L201.5,301.72 L202.0,300.87 L202.5,300.08 L203.0,299.42 L203.5,298.97 L204.0,298.80 L204.5,299.01 L205.0,299.57 L205.5,300.35 L206.0,301.24 L206.5,302.12 L207.0,302.86 L207.5,303.36 L208.0,303.49 L208.5,303.30 L209.0,302.87 L209.5,302.25 L210.0,301.51 L210.5,300.69 L211.0,299.85 L211.5,299.04 L212.0,298.31 L212.5,297.73 L213.0,297.34 L213.5,297.20 L214.0,297.40 L214.5,297.93 L215.0,298.72 L215.5,299.65 L216.0,300.65 L216.5,301.62 L217.0,302.48 L217.5,303.12 L218.0,303.47 L218.5,303.46 L219.0,303.23 L219.5,302.84 L220.0,302.32 L220.5,301.72 L221.0,301.09 L221.5,300.45 L222.0,299.87 L222.5,299.37 L223.0,299.01 L223.5,298.82 L224.0,298.86 L224.5,299.19 L225.0,299.77 L225.5,300.53 L226.0,301.41 L226.5,302.35 L227.0,303.29 L227.5,304.17 L228.0,304.93 L228.5,305.51 L229.0,305.84 L229.5,305.83 L230.0,305.14 L230.5,303.84 L231.0,302.12 L231.5,300.16 L232.0,298.14 L232.5,296.26 L233.0,294.68 L233.5,293.60 L234.0,293.20 L234.5,293.55 L235.0,294.47 L235.5,295.72 L236.0,297.10 L236.5,298.38 L237.0,299.35 L237.5,299.89 L238.0,300.30 L238.5,300.65 L239.0,300.95 L239.5,301.23 L240.0,301.48 L240.5,301.74 L241.0,302.02 L241.5,302.33 L242.0,302.70 L242.5,303.14 L243.0,303.64 L243.5,304.17 L244.0,304.73 L244.5,305.30 L245.0,305.84 L245.5,306.34 L246.0,306.78 L246.5,307.22 L247.0,307.67 L247.5,308.12 L248.0,308.56 L248.5,308.96 L249.0,309.33 L249.5,309.64 L250.0,309.89 L250.5,310.06 L251.0,310.15 L251.5,310.23 L252.0,310.30 L252.5,310.37 L253.0,310.43 L253.5,310.48 L254.0,310.52 L254.5,310.55 L255.0,310.58 L255.5,310.59 L256.0,310.60 L256.5,310.60 L257.0,310.60 L257.5,310.60 L258.0,310.60 L258.5,310.60 L259.0,310.60 L259.5,310.60 L260.0,310.60 L260.5,310.60 L261.0,310.60 L261.5,310.60 L262.0,310.60 L262.5,310.60 L263.0,310.60 L263.5,310.60 L264.0,310.60 L264.5,310.60 L265.0,310.60 L265.5,310.60 L266.0,310.60 L266.5,310.60 L267.0,310.60 L267.5,310.60 L268.0,310.60 L268.5,310.60 L269.0,310.60 L269.5,310.60 L270.0,310.60 L270.5,310.60 L271.0,310.60 L271.5,310.60 L272.0,310.60 L272.5,310.60 L273.0,310.60 L273.5,310.60 L274.0,310.60 L274.5,310.60 L275.0,310.60 L275.5,310.60 L276.0,310.60 L276.5,310.60 L277.0,310.60 L277.5,310.60 L278.0,310.60 L278.5,310.60 L279.0,310.60 L279.5,310.60 L280.0,310.60 L280.5,310.60 L281.0,310.60 L281.5,310.60 L282.0,310.60 L282.5,310.60 L283.0,310.60 L283.5,310.60 L284.0,310.60 L284.5,310.60 L285.0,310.60 L285.5,310.60 L286.0,310.60 L286.5,310.60 L287.0,310.60 L287.5,310.60 L288.0,310.60 L288.5,310.60 L289.0,310.60 L289.5,310.60 L290.0,310.60 L290.5,310.60 L291.0,310.60 L291.5,310.60 L292.0,310.60 L292.5,310.60 L293.0,310.60 L293.5,310.60 L294.0,310.60 L294.5,310.60 L295.0,310.60 L295.5,310.60 L296.0,310.60 L296.5,310.60 L297.0,310.60 L297.5,310.60 L298.0,310.60 L298.5,310.60 L299.0,310.60 L299.5,310.60 L300.0,310.60 L300.5,310.60 L301.0,310.60 L301.5,310.60 L302.0,310.60 L302.5,310.60 L303.0,310.60 L303.5,310.60 L304.0,310.60 L304.5,310.60 L305.0,310.60 L305.5,310.60 L306.0,310.60 L306.5,310.60 L307.0,310.60 L307.5,310.60 L308.0,310.60 L308.5,310.60 L309.0,310.60 L309.5,310.60 L310.0,310.60 L310.5,310.60 L311.0,310.60 L311.5,310.60 L312.0,310.60 L312.5,310.60" fill="none" stroke="#ff0000" stroke-width="1.6"/><text x="36.8" y="223.2" font-size="16" text-anchor="start" letter-spacing="1.6">(b)</text><text x="82.0" y="224.4" font-size="16" text-anchor="end" >30</text><text x="82.0" y="254.3" font-size="16" text-anchor="end" >20</text><text x="82.0" y="284.2" font-size="16" text-anchor="end" >10</text><text x="82.0" y="314.1" font-size="16" text-anchor="end" >0</text><text x="85.5" y="325.2" font-size="16" text-anchor="middle" >-3</text><text x="136.0" y="325.2" font-size="16" text-anchor="middle" >-2</text><text x="186.5" y="325.2" font-size="16" text-anchor="middle" >-1</text><text x="237.2" y="325.2" font-size="16" text-anchor="middle" >0</text><text x="287.0" y="325.2" font-size="16" text-anchor="middle" >1</text><text x="206.8" y="342.5" font-size="16.35" text-anchor="middle" >Distance from surface (nm)</text><text transform="translate(12.6,341.4) rotate(-90)" font-size="16" letter-spacing="0.25">In-plane-integrated</text><text transform="translate(31.0,342.0) rotate(-90)" font-size="16" letter-spacing="0.2">charge density</text><text transform="translate(52.0,341.0) rotate(-90)" font-size="16" letter-spacing="0.25">(electron/Å)</text><line x1="117.7" y1="221.1" x2="161" y2="221.1" stroke="#000" stroke-width="2"/><path d="M159,217.8 L169.3,221.1 L159,224.4 z" fill="#000"/><text x="143.2" y="241.2" font-size="16" text-anchor="middle" letter-spacing="0.75">[110]</text><text x="158.8" y="266.6" font-size="14" text-anchor="end" ><tspan font-style="italic">Γ</tspan>-point</text><text x="158.0" y="282.2" font-size="14" text-anchor="end" ><tspan font-style="italic">X</tspan>-point</text><line x1="162.2" y1="262.6" x2="177.6" y2="262.6" stroke="#ff0000" stroke-width="1.5"/><line x1="162.6" y1="278" x2="177.6" y2="278" stroke="#0000ff" stroke-width="1.5" stroke-dasharray="5,5"/><rect x="375.5" y="25.3" width="170.8" height="121.2" fill="none" stroke="#e6e6e6" stroke-width="1"/><rect x="376.0" y="25.8" width="169.8" height="120.2" fill="url(#pc)"/><rect x="415.1" y="85.8" width="42.099999999999966" height="29.5" fill="none" stroke="#000" stroke-opacity=".55" stroke-width="1.1"/><circle cx="415.1" cy="85.8" r="4.3" fill="#000"/><circle cx="415.1" cy="115.3" r="4.3" fill="#000"/><circle cx="457.2" cy="85.8" r="4.3" fill="#000"/><circle cx="457.2" cy="115.3" r="4.3" fill="#000"/><circle cx="448.7" cy="100.9" r="3.5" fill="#fff" stroke="#000" stroke-width="1.2"/><text x="414.2" y="18.8" font-size="16" text-anchor="start" letter-spacing="0.7">(c) <tspan font-style="italic">Γ</tspan>-point</text><rect x="377.3" y="184.5" width="171.2" height="121.6" fill="none" stroke="#e6e6e6" stroke-width="1"/><rect x="377.8" y="185.0" width="170.2" height="120.6" fill="url(#pd)"/><rect x="417.7" y="245.4" width="42.5" height="28.799999999999983" fill="none" stroke="#000" stroke-width="0.9"/><circle cx="417.7" cy="245.4" r="4.3" fill="#000"/><circle cx="417.7" cy="274.2" r="4.3" fill="#000"/><circle cx="460.2" cy="245.4" r="4.3" fill="#000"/><circle cx="460.2" cy="274.2" r="4.3" fill="#000"/><circle cx="451.8" cy="260.6" r="3.5" fill="#fff" stroke="#000" stroke-width="1.2"/><text x="413.3" y="178.0" font-size="16" text-anchor="start" letter-spacing="0.6">(d)<tspan font-style="italic" dx="2">X</tspan>-point</text><rect x="340.4" y="42.2" width="12.2" height="201.2" fill="url(#cb)" stroke="#000" stroke-opacity=".35" stroke-width=".7"/><text x="322.8" y="39.2" font-size="16" text-anchor="start" >4×10</text><text x="359.9" y="33.5" font-size="9.8" text-anchor="start" >-6</text><text x="347.5" y="257.2" font-size="16" text-anchor="middle" >0</text><line x1="319.4" y1="173.3" x2="335.9" y2="173.3" stroke="#000" stroke-width="1.1"/><line x1="319.4" y1="152.4" x2="335.9" y2="152.4" stroke="#000" stroke-width="1.1"/><g transform="translate(334.6,0) rotate(-90)"><text x="-163.9" y="0" font-size="16.5" text-anchor="middle" style="font-family:Liberation Serif,serif">Ψ</text><text x="-145.8" y="-5.3" font-size="9.5" text-anchor="middle">2</text><text x="-137.9" y="0.6" font-size="16">(e/Å<tspan font-size="9.5" dy="-6.5">3</tspan><tspan dy="6.5">)</tspan></text></g><path d="M367.8,316 L367.8,270" stroke="#000" stroke-width="2" fill="none"/><path d="M364.3,272 L367.8,264.5 L371.3,272 z" fill="#000"/><path d="M367,315.6 L411,315.6" stroke="#000" stroke-width="2" fill="none"/><path d="M409.5,312.1 L417.5,315.6 L409.5,319.1 z" fill="#000"/><text x="388.0" y="334.0" font-size="16" text-anchor="middle" >[001]</text><text transform="translate(362.5,294.3) rotate(-90)" font-size="16" text-anchor="middle">[1<tspan text-decoration="overline">1</tspan>0]</text><circle cx="464.3" cy="330.5" r="4.3" fill="#000"/><text x="476.0" y="335.0" font-size="16" text-anchor="start" >Ga</text><circle cx="510.8" cy="330.5" r="3.5" fill="#fff" stroke="#000" stroke-width="1.4"/><text x="520.5" y="335.0" font-size="16" text-anchor="start" >As</text></svg></body></html>
